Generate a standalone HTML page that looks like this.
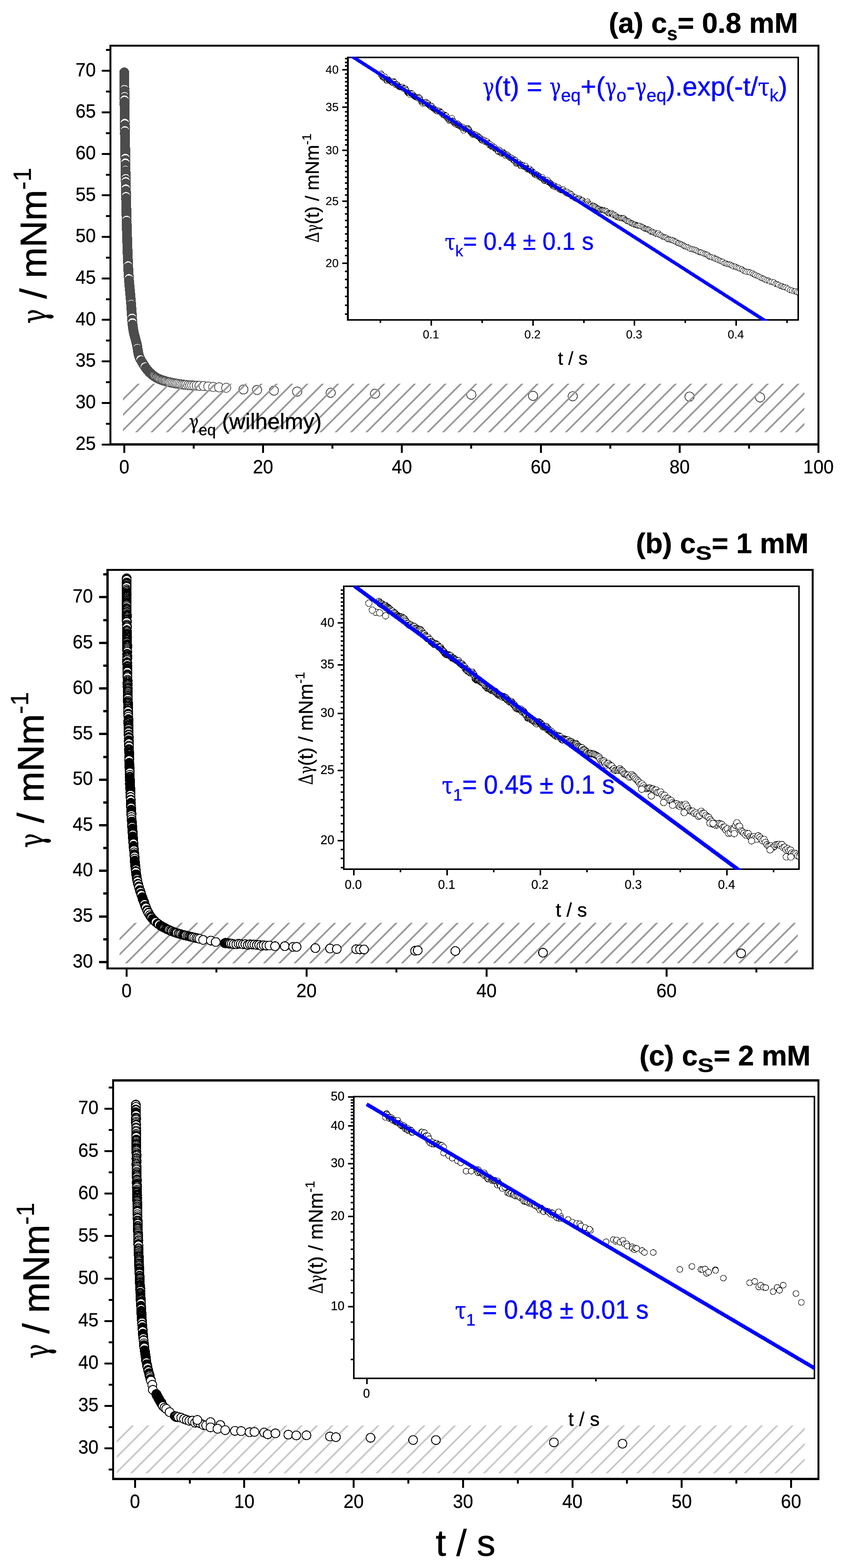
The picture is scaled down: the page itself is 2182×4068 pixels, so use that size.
<!DOCTYPE html>
<html><head><meta charset="utf-8"><title>Dynamic surface tension</title>
<style>
html,body{margin:0;padding:0;background:#fff;}
svg{display:block;font-family:'Liberation Sans', sans-serif;}
.sy{font-family:'Liberation Serif','DejaVu Serif',serif;}
</style></head>
<body>
<svg xmlns="http://www.w3.org/2000/svg" width="2182" height="4068" viewBox="0 0 2182 4068" text-rendering="geometricPrecision">
<rect width="2182" height="4068" fill="#fff"/>
<g shape-rendering="crispEdges" fill="#000">
<rect x="284" y="116" width="1842" height="5"/>
<rect x="284" y="1150" width="1842" height="6"/>
<rect x="284" y="118.5" width="5" height="1034.5"/>
<rect x="2121" y="118.5" width="5" height="1034.5"/>
<rect x="264" y="1150.5" width="22.5" height="5"/>
<rect x="264" y="1042.8" width="22.5" height="5"/>
<rect x="264" y="935.1" width="22.5" height="5"/>
<rect x="264" y="827.4" width="22.5" height="5"/>
<rect x="264" y="719.7" width="22.5" height="5"/>
<rect x="264" y="612" width="22.5" height="5"/>
<rect x="264" y="504.3" width="22.5" height="5"/>
<rect x="264" y="396.6" width="22.5" height="5"/>
<rect x="264" y="288.9" width="22.5" height="5"/>
<rect x="264" y="181.2" width="22.5" height="5"/>
<rect x="275" y="1096.7" width="11.5" height="5"/>
<rect x="275" y="989" width="11.5" height="5"/>
<rect x="275" y="881.2" width="11.5" height="5"/>
<rect x="275" y="773.5" width="11.5" height="5"/>
<rect x="275" y="665.9" width="11.5" height="5"/>
<rect x="275" y="558.1" width="11.5" height="5"/>
<rect x="275" y="450.5" width="11.5" height="5"/>
<rect x="275" y="342.8" width="11.5" height="5"/>
<rect x="275" y="235.1" width="11.5" height="5"/>
<rect x="275" y="127.4" width="11.5" height="5"/>
<rect x="319.8" y="1153" width="5" height="22"/>
<rect x="680" y="1153" width="5" height="22"/>
<rect x="1040.3" y="1153" width="5" height="22"/>
<rect x="1400.5" y="1153" width="5" height="22"/>
<rect x="1760.8" y="1153" width="5" height="22"/>
<rect x="2121" y="1153" width="5" height="22"/>
<rect x="499.9" y="1153" width="5" height="11"/>
<rect x="860.2" y="1153" width="5" height="11"/>
<rect x="1220.4" y="1153" width="5" height="11"/>
<rect x="1580.6" y="1153" width="5" height="11"/>
<rect x="1940.9" y="1153" width="5" height="11"/>
</g>
<text transform="translate(195.9,1166.8) scale(0.955,1)" font-size="49.5" fill="#000" stroke="#000" stroke-width="0.4">25</text>
<text transform="translate(195.9,1059.1) scale(0.955,1)" font-size="49.5" fill="#000" stroke="#000" stroke-width="0.4">30</text>
<text transform="translate(195.9,951.4) scale(0.955,1)" font-size="49.5" fill="#000" stroke="#000" stroke-width="0.4">35</text>
<text transform="translate(195.9,843.7) scale(0.955,1)" font-size="49.5" fill="#000" stroke="#000" stroke-width="0.4">40</text>
<text transform="translate(195.9,736) scale(0.955,1)" font-size="49.5" fill="#000" stroke="#000" stroke-width="0.4">45</text>
<text transform="translate(195.9,628.3) scale(0.955,1)" font-size="49.5" fill="#000" stroke="#000" stroke-width="0.4">50</text>
<text transform="translate(195.9,520.6) scale(0.955,1)" font-size="49.5" fill="#000" stroke="#000" stroke-width="0.4">55</text>
<text transform="translate(195.9,412.9) scale(0.955,1)" font-size="49.5" fill="#000" stroke="#000" stroke-width="0.4">60</text>
<text transform="translate(195.9,305.2) scale(0.955,1)" font-size="49.5" fill="#000" stroke="#000" stroke-width="0.4">65</text>
<text transform="translate(195.9,197.5) scale(0.955,1)" font-size="49.5" fill="#000" stroke="#000" stroke-width="0.4">70</text>
<text transform="translate(309.2,1228) scale(0.955,1)" font-size="49.5" fill="#000" stroke="#000" stroke-width="0.4">0</text>
<text transform="translate(656.2,1228) scale(0.955,1)" font-size="49.5" fill="#000" stroke="#000" stroke-width="0.4">20</text>
<text transform="translate(1016.5,1228) scale(0.955,1)" font-size="49.5" fill="#000" stroke="#000" stroke-width="0.4">40</text>
<text transform="translate(1376.7,1228) scale(0.955,1)" font-size="49.5" fill="#000" stroke="#000" stroke-width="0.4">60</text>
<text transform="translate(1737,1228) scale(0.955,1)" font-size="49.5" fill="#000" stroke="#000" stroke-width="0.4">80</text>
<text transform="translate(2084.1,1228) scale(0.955,1)" font-size="49.5" fill="#000" stroke="#000" stroke-width="0.4">100</text>
<text transform="translate(1579.5,84.5) translate(0,0)" font-family="'Liberation Sans',sans-serif" font-weight="bold" font-size="73.5" fill="#000" stroke="#000" stroke-width="0.7" stroke-linejoin="round" xml:space="preserve">(a) c</text>
<text transform="translate(1579.5,84.5) translate(151.1,19.5)" font-family="'Liberation Sans',sans-serif" font-weight="bold" font-size="49" fill="#000" stroke="#000" stroke-width="0.5" stroke-linejoin="round" xml:space="preserve">s</text>
<text transform="translate(1579.5,84.5) translate(178.4,0)" font-family="'Liberation Sans',sans-serif" font-weight="bold" font-size="73.5" fill="#000" stroke="#000" stroke-width="0.7" stroke-linejoin="round" xml:space="preserve">= 0.8 mM</text>
<text transform="translate(119.8,839.5) rotate(-90) translate(0,0) scale(0.700,1)" font-family="'DejaVu Serif','Liberation Serif',serif" font-weight="normal" font-size="90.2" fill="#000" stroke="#000" stroke-width="0.9" stroke-linejoin="round" xml:space="preserve">γ</text>
<text transform="translate(119.8,839.5) rotate(-90) translate(37.8,0)" font-family="'Liberation Sans',sans-serif" font-weight="normal" font-size="96" fill="#000" stroke="#000" stroke-width="1" stroke-linejoin="round" xml:space="preserve"> / mNm</text>
<text transform="translate(119.8,839.5) rotate(-90) translate(347,-39.5)" font-family="'Liberation Sans',sans-serif" font-weight="normal" font-size="64.5" fill="#000" stroke="#000" stroke-width="0.6" stroke-linejoin="round" xml:space="preserve">-1</text>
<g fill="#fff" stroke="#4c4c4c" stroke-width="1.9" shape-rendering="crispEdges">
<circle cx="322.4" cy="187.8" r="11.8"/><circle cx="322.4" cy="188.7" r="11.8"/><circle cx="322.4" cy="189.5" r="11.8"/><circle cx="322.4" cy="190.3" r="11.8"/><circle cx="322.4" cy="191" r="11.8"/><circle cx="322.4" cy="191.8" r="11.8"/><circle cx="322.4" cy="192.7" r="11.8"/><circle cx="322.4" cy="193.4" r="11.8"/><circle cx="322.5" cy="194.3" r="11.8"/><circle cx="322.5" cy="195.1" r="11.8"/><circle cx="322.5" cy="195.8" r="11.8"/><circle cx="322.5" cy="196.7" r="11.8"/><circle cx="322.5" cy="197.5" r="11.8"/><circle cx="322.5" cy="198.2" r="11.8"/><circle cx="322.5" cy="199.1" r="11.8"/><circle cx="322.5" cy="199.9" r="11.8"/><circle cx="322.5" cy="200.7" r="11.8"/><circle cx="322.5" cy="201.4" r="11.8"/><circle cx="322.5" cy="202.3" r="11.8"/><circle cx="322.5" cy="203.1" r="11.8"/><circle cx="322.5" cy="203.8" r="11.8"/><circle cx="322.5" cy="204.6" r="11.8"/><circle cx="322.5" cy="205.4" r="11.8"/><circle cx="322.6" cy="206.2" r="11.8"/><circle cx="322.6" cy="207.1" r="11.8"/><circle cx="322.6" cy="208" r="11.8"/><circle cx="322.6" cy="208.8" r="11.8"/><circle cx="322.6" cy="209.6" r="11.8"/><circle cx="322.6" cy="210.2" r="11.8"/><circle cx="322.6" cy="211.1" r="11.8"/><circle cx="322.6" cy="211.9" r="11.8"/><circle cx="322.6" cy="212.8" r="11.8"/><circle cx="322.6" cy="213.5" r="11.8"/><circle cx="322.6" cy="214.3" r="11.8"/><circle cx="322.6" cy="215.2" r="11.8"/><circle cx="322.6" cy="216" r="11.8"/><circle cx="322.6" cy="216.7" r="11.8"/><circle cx="322.7" cy="217.5" r="11.8"/><circle cx="322.7" cy="218.3" r="11.8"/><circle cx="322.7" cy="219" r="11.8"/><circle cx="322.7" cy="219.8" r="11.8"/><circle cx="322.7" cy="220.6" r="11.8"/><circle cx="322.7" cy="221.4" r="11.8"/><circle cx="322.7" cy="222.2" r="11.8"/><circle cx="322.7" cy="223.1" r="11.8"/><circle cx="322.7" cy="223.9" r="11.8"/><circle cx="322.7" cy="224.8" r="11.8"/><circle cx="322.7" cy="225.7" r="11.8"/><circle cx="322.7" cy="226.5" r="11.8"/><circle cx="322.7" cy="227.4" r="11.8"/><circle cx="322.8" cy="228.2" r="11.8"/><circle cx="322.8" cy="229" r="11.8"/><circle cx="322.8" cy="229.8" r="11.8"/><circle cx="322.8" cy="230.6" r="11.8"/><circle cx="322.8" cy="231.5" r="11.8"/><circle cx="322.8" cy="235.7" r="11.8"/><circle cx="322.8" cy="236.4" r="11.8"/><circle cx="322.8" cy="237.3" r="11.8"/><circle cx="322.9" cy="238.2" r="11.8"/><circle cx="322.9" cy="238.9" r="11.8"/><circle cx="322.9" cy="239.6" r="11.8"/><circle cx="322.9" cy="240.4" r="11.8"/><circle cx="322.9" cy="241.3" r="11.8"/><circle cx="322.9" cy="242" r="11.8"/><circle cx="322.9" cy="242.9" r="11.8"/><circle cx="322.9" cy="243.6" r="11.8"/><circle cx="322.9" cy="244.5" r="11.8"/><circle cx="322.9" cy="245.2" r="11.8"/><circle cx="322.9" cy="246.1" r="11.8"/><circle cx="322.9" cy="246.8" r="11.8"/><circle cx="323" cy="247.7" r="11.8"/><circle cx="323" cy="248.4" r="11.8"/><circle cx="323" cy="249.1" r="11.8"/><circle cx="323" cy="249.8" r="11.8"/><circle cx="323" cy="253.9" r="11.8"/><circle cx="323" cy="254.6" r="11.8"/><circle cx="323" cy="255.4" r="11.8"/><circle cx="323" cy="256.2" r="11.8"/><circle cx="323.1" cy="257" r="11.8"/><circle cx="323.1" cy="257.9" r="11.8"/><circle cx="323.1" cy="258.6" r="11.8"/><circle cx="323.1" cy="264.1" r="11.8"/><circle cx="323.1" cy="264.9" r="11.8"/><circle cx="323.2" cy="265.8" r="11.8"/><circle cx="323.2" cy="266.7" r="11.8"/><circle cx="323.2" cy="267.4" r="11.8"/><circle cx="323.2" cy="268.1" r="11.8"/><circle cx="323.2" cy="268.8" r="11.8"/><circle cx="323.2" cy="269.5" r="11.8"/><circle cx="323.2" cy="270.3" r="11.8"/><circle cx="323.2" cy="271.1" r="11.8"/><circle cx="323.2" cy="271.9" r="11.8"/><circle cx="323.2" cy="272.6" r="11.8"/><circle cx="323.2" cy="273.3" r="11.8"/><circle cx="323.3" cy="274.1" r="11.8"/><circle cx="323.3" cy="275" r="11.8"/><circle cx="323.3" cy="275.7" r="11.8"/><circle cx="323.3" cy="276.5" r="11.8"/><circle cx="323.3" cy="277.3" r="11.8"/><circle cx="323.3" cy="278.1" r="11.8"/><circle cx="323.3" cy="278.9" r="11.8"/><circle cx="323.3" cy="279.6" r="11.8"/><circle cx="323.3" cy="280.5" r="11.8"/><circle cx="323.3" cy="281.3" r="11.8"/><circle cx="323.3" cy="282.1" r="11.8"/><circle cx="323.4" cy="282.8" r="11.8"/><circle cx="323.4" cy="283.7" r="11.8"/><circle cx="323.4" cy="284.6" r="11.8"/><circle cx="323.4" cy="285.5" r="11.8"/><circle cx="323.4" cy="286.3" r="11.8"/><circle cx="323.4" cy="287" r="11.8"/><circle cx="323.4" cy="287.8" r="11.8"/><circle cx="323.4" cy="288.5" r="11.8"/><circle cx="323.4" cy="289.3" r="11.8"/><circle cx="323.4" cy="290" r="11.8"/><circle cx="323.5" cy="290.8" r="11.8"/><circle cx="323.5" cy="291.6" r="11.8"/><circle cx="323.5" cy="292.3" r="11.8"/><circle cx="323.5" cy="293.1" r="11.8"/><circle cx="323.5" cy="293.9" r="11.8"/><circle cx="323.5" cy="294.7" r="11.8"/><circle cx="323.5" cy="295.4" r="11.8"/><circle cx="323.5" cy="296.3" r="11.8"/><circle cx="323.5" cy="297.2" r="11.8"/><circle cx="323.5" cy="298" r="11.8"/><circle cx="323.6" cy="298.8" r="11.8"/><circle cx="323.6" cy="299.5" r="11.8"/><circle cx="323.6" cy="300.3" r="11.8"/><circle cx="323.6" cy="301.1" r="11.8"/><circle cx="323.6" cy="302" r="11.8"/><circle cx="323.6" cy="302.8" r="11.8"/><circle cx="323.6" cy="303.5" r="11.8"/><circle cx="323.6" cy="304.3" r="11.8"/><circle cx="323.6" cy="305.1" r="11.8"/><circle cx="323.6" cy="305.9" r="11.8"/><circle cx="323.7" cy="306.7" r="11.8"/><circle cx="323.7" cy="307.4" r="11.8"/><circle cx="323.7" cy="308.3" r="11.8"/><circle cx="323.7" cy="309" r="11.8"/><circle cx="323.7" cy="309.9" r="11.8"/><circle cx="323.7" cy="310.8" r="11.8"/><circle cx="323.7" cy="311.7" r="11.8"/><circle cx="323.7" cy="312.4" r="11.8"/><circle cx="323.7" cy="313.2" r="11.8"/><circle cx="323.8" cy="314" r="11.8"/><circle cx="323.8" cy="314.7" r="11.8"/><circle cx="323.8" cy="315.4" r="11.8"/><circle cx="323.8" cy="316.1" r="11.8"/><circle cx="323.8" cy="316.8" r="11.8"/><circle cx="323.8" cy="317.5" r="11.8"/><circle cx="323.8" cy="318.3" r="11.8"/><circle cx="323.8" cy="319.1" r="11.8"/><circle cx="323.9" cy="325.1" r="11.8"/><circle cx="323.9" cy="325.9" r="11.8"/><circle cx="323.9" cy="326.8" r="11.8"/><circle cx="323.9" cy="327.6" r="11.8"/><circle cx="324" cy="328.5" r="11.8"/><circle cx="324" cy="329.4" r="11.8"/><circle cx="324" cy="330.1" r="11.8"/><circle cx="324" cy="330.9" r="11.8"/><circle cx="324" cy="331.8" r="11.8"/><circle cx="324" cy="332.6" r="11.8"/><circle cx="324" cy="333.5" r="11.8"/><circle cx="324" cy="334.3" r="11.8"/><circle cx="324" cy="335" r="11.8"/><circle cx="324.1" cy="335.8" r="11.8"/><circle cx="324.1" cy="336.6" r="11.8"/><circle cx="324.1" cy="337.4" r="11.8"/><circle cx="324.1" cy="338.3" r="11.8"/><circle cx="324.2" cy="343.3" r="11.8"/><circle cx="324.2" cy="344.1" r="11.8"/><circle cx="324.2" cy="344.9" r="11.8"/><circle cx="324.2" cy="345.8" r="11.8"/><circle cx="324.2" cy="346.6" r="11.8"/><circle cx="324.2" cy="347.4" r="11.8"/><circle cx="324.2" cy="348.1" r="11.8"/><circle cx="324.2" cy="348.8" r="11.8"/><circle cx="324.2" cy="349.7" r="11.8"/><circle cx="324.3" cy="350.4" r="11.8"/><circle cx="324.3" cy="351.1" r="11.8"/><circle cx="324.3" cy="351.9" r="11.8"/><circle cx="324.3" cy="352.8" r="11.8"/><circle cx="324.3" cy="353.6" r="11.8"/><circle cx="324.3" cy="354.4" r="11.8"/><circle cx="324.3" cy="355.1" r="11.8"/><circle cx="324.3" cy="355.8" r="11.8"/><circle cx="324.4" cy="356.6" r="11.8"/><circle cx="324.4" cy="357.3" r="11.8"/><circle cx="324.4" cy="358.1" r="11.8"/><circle cx="324.4" cy="359" r="11.8"/><circle cx="324.4" cy="359.8" r="11.8"/><circle cx="324.4" cy="360.5" r="11.8"/><circle cx="324.4" cy="361.5" r="11.8"/><circle cx="324.4" cy="362.3" r="11.8"/><circle cx="324.4" cy="363.1" r="11.8"/><circle cx="324.5" cy="363.9" r="11.8"/><circle cx="324.5" cy="364.8" r="11.8"/><circle cx="324.5" cy="365.6" r="11.8"/><circle cx="324.5" cy="366.5" r="11.8"/><circle cx="324.5" cy="367.2" r="11.8"/><circle cx="324.5" cy="368.1" r="11.8"/><circle cx="324.5" cy="368.9" r="11.8"/><circle cx="324.5" cy="369.7" r="11.8"/><circle cx="324.6" cy="370.4" r="11.8"/><circle cx="324.6" cy="371.3" r="11.8"/><circle cx="324.6" cy="372.1" r="11.8"/><circle cx="324.6" cy="372.9" r="11.8"/><circle cx="324.6" cy="373.9" r="11.8"/><circle cx="324.6" cy="374.6" r="11.8"/><circle cx="324.6" cy="375.4" r="11.8"/><circle cx="324.6" cy="376.1" r="11.8"/><circle cx="324.7" cy="377" r="11.8"/><circle cx="324.7" cy="377.9" r="11.8"/><circle cx="324.7" cy="378.8" r="11.8"/><circle cx="324.7" cy="379.7" r="11.8"/><circle cx="324.7" cy="380.5" r="11.8"/><circle cx="324.7" cy="381.4" r="11.8"/><circle cx="324.7" cy="382.1" r="11.8"/><circle cx="324.7" cy="383" r="11.8"/><circle cx="324.8" cy="383.8" r="11.8"/><circle cx="324.8" cy="384.5" r="11.8"/><circle cx="324.8" cy="385.3" r="11.8"/><circle cx="324.8" cy="386.2" r="11.8"/><circle cx="324.8" cy="387" r="11.8"/><circle cx="324.8" cy="387.8" r="11.8"/><circle cx="324.8" cy="388.6" r="11.8"/><circle cx="324.8" cy="389.3" r="11.8"/><circle cx="324.8" cy="390.1" r="11.8"/><circle cx="324.9" cy="390.9" r="11.8"/><circle cx="324.9" cy="391.8" r="11.8"/><circle cx="324.9" cy="392.6" r="11.8"/><circle cx="324.9" cy="393.4" r="11.8"/><circle cx="324.9" cy="394.2" r="11.8"/><circle cx="324.9" cy="395" r="11.8"/><circle cx="324.9" cy="395.7" r="11.8"/><circle cx="324.9" cy="396.5" r="11.8"/><circle cx="325" cy="397.2" r="11.8"/><circle cx="325" cy="398.1" r="11.8"/><circle cx="325" cy="398.8" r="11.8"/><circle cx="325" cy="399.5" r="11.8"/><circle cx="325" cy="400.2" r="11.8"/><circle cx="325" cy="401.1" r="11.8"/><circle cx="325" cy="401.8" r="11.8"/><circle cx="325" cy="402.6" r="11.8"/><circle cx="325.1" cy="403.4" r="11.8"/><circle cx="325.1" cy="404.2" r="11.8"/><circle cx="325.1" cy="405" r="11.8"/><circle cx="325.1" cy="405.7" r="11.8"/><circle cx="325.1" cy="406.7" r="11.8"/><circle cx="325.1" cy="407.5" r="11.8"/><circle cx="325.1" cy="408.2" r="11.8"/><circle cx="325.1" cy="409" r="11.8"/><circle cx="325.2" cy="409.9" r="11.8"/><circle cx="325.2" cy="415.5" r="11.8"/><circle cx="325.3" cy="416.3" r="11.8"/><circle cx="325.3" cy="417.1" r="11.8"/><circle cx="325.3" cy="417.8" r="11.8"/><circle cx="325.3" cy="418.7" r="11.8"/><circle cx="325.3" cy="419.6" r="11.8"/><circle cx="325.3" cy="420.5" r="11.8"/><circle cx="325.3" cy="421.2" r="11.8"/><circle cx="325.4" cy="421.9" r="11.8"/><circle cx="325.5" cy="427.9" r="11.8"/><circle cx="325.5" cy="428.7" r="11.8"/><circle cx="325.5" cy="429.5" r="11.8"/><circle cx="325.5" cy="430.3" r="11.8"/><circle cx="325.5" cy="431" r="11.8"/><circle cx="325.5" cy="431.8" r="11.8"/><circle cx="325.5" cy="432.5" r="11.8"/><circle cx="325.5" cy="433.4" r="11.8"/><circle cx="325.6" cy="434.3" r="11.8"/><circle cx="325.6" cy="435.1" r="11.8"/><circle cx="325.6" cy="435.8" r="11.8"/><circle cx="325.6" cy="436.7" r="11.8"/><circle cx="325.6" cy="437.4" r="11.8"/><circle cx="325.6" cy="438.1" r="11.8"/><circle cx="325.6" cy="438.8" r="11.8"/><circle cx="325.7" cy="439.6" r="11.8"/><circle cx="325.7" cy="440.4" r="11.8"/><circle cx="325.7" cy="441.1" r="11.8"/><circle cx="325.7" cy="444.2" r="11.8"/><circle cx="325.8" cy="445" r="11.8"/><circle cx="325.8" cy="445.8" r="11.8"/><circle cx="325.8" cy="446.6" r="11.8"/><circle cx="325.8" cy="447.3" r="11.8"/><circle cx="325.8" cy="448" r="11.8"/><circle cx="325.8" cy="448.8" r="11.8"/><circle cx="325.8" cy="449.5" r="11.8"/><circle cx="325.8" cy="450.3" r="11.8"/><circle cx="325.9" cy="451.1" r="11.8"/><circle cx="325.9" cy="452" r="11.8"/><circle cx="325.9" cy="452.9" r="11.8"/><circle cx="325.9" cy="453.6" r="11.8"/><circle cx="325.9" cy="454.5" r="11.8"/><circle cx="325.9" cy="455.4" r="11.8"/><circle cx="326" cy="456.2" r="11.8"/><circle cx="326" cy="457" r="11.8"/><circle cx="326" cy="457.8" r="11.8"/><circle cx="326" cy="458.7" r="11.8"/><circle cx="326" cy="459.4" r="11.8"/><circle cx="326" cy="460.2" r="11.8"/><circle cx="326" cy="460.9" r="11.8"/><circle cx="326.1" cy="461.7" r="11.8"/><circle cx="326.1" cy="462.4" r="11.8"/><circle cx="326.2" cy="467" r="11.8"/><circle cx="326.2" cy="467.7" r="11.8"/><circle cx="326.2" cy="468.6" r="11.8"/><circle cx="326.2" cy="469.4" r="11.8"/><circle cx="326.2" cy="470.3" r="11.8"/><circle cx="326.3" cy="475.7" r="11.8"/><circle cx="326.4" cy="476.5" r="11.8"/><circle cx="326.4" cy="477.4" r="11.8"/><circle cx="326.4" cy="478.1" r="11.8"/><circle cx="326.4" cy="478.9" r="11.8"/><circle cx="326.4" cy="479.6" r="11.8"/><circle cx="326.4" cy="480.4" r="11.8"/><circle cx="326.4" cy="481.2" r="11.8"/><circle cx="326.5" cy="482.1" r="11.8"/><circle cx="326.5" cy="482.9" r="11.8"/><circle cx="326.5" cy="483.6" r="11.8"/><circle cx="326.5" cy="484.3" r="11.8"/><circle cx="326.5" cy="485" r="11.8"/><circle cx="326.5" cy="485.9" r="11.8"/><circle cx="326.6" cy="486.7" r="11.8"/><circle cx="326.6" cy="487.5" r="11.8"/><circle cx="326.6" cy="488.3" r="11.8"/><circle cx="326.6" cy="489.2" r="11.8"/><circle cx="326.7" cy="495.1" r="11.8"/><circle cx="326.7" cy="495.9" r="11.8"/><circle cx="326.8" cy="496.6" r="11.8"/><circle cx="326.8" cy="497.4" r="11.8"/><circle cx="326.8" cy="498.3" r="11.8"/><circle cx="326.8" cy="499" r="11.8"/><circle cx="326.8" cy="499.7" r="11.8"/><circle cx="326.8" cy="500.4" r="11.8"/><circle cx="326.9" cy="501.3" r="11.8"/><circle cx="326.9" cy="502" r="11.8"/><circle cx="326.9" cy="502.8" r="11.8"/><circle cx="326.9" cy="503.6" r="11.8"/><circle cx="326.9" cy="504.4" r="11.8"/><circle cx="327" cy="505.2" r="11.8"/><circle cx="327" cy="505.9" r="11.8"/><circle cx="327" cy="506.7" r="11.8"/><circle cx="327" cy="507.5" r="11.8"/><circle cx="327" cy="508.3" r="11.8"/><circle cx="327" cy="509.1" r="11.8"/><circle cx="327.1" cy="514" r="11.8"/><circle cx="327.2" cy="514.9" r="11.8"/><circle cx="327.2" cy="515.8" r="11.8"/><circle cx="327.2" cy="516.7" r="11.8"/><circle cx="327.2" cy="517.4" r="11.8"/><circle cx="327.2" cy="518.3" r="11.8"/><circle cx="327.3" cy="519.1" r="11.8"/><circle cx="327.3" cy="520" r="11.8"/><circle cx="327.3" cy="520.7" r="11.8"/><circle cx="327.3" cy="521.4" r="11.8"/><circle cx="327.3" cy="522.2" r="11.8"/><circle cx="327.4" cy="523.1" r="11.8"/><circle cx="327.4" cy="523.9" r="11.8"/><circle cx="327.4" cy="524.6" r="11.8"/><circle cx="327.4" cy="525.5" r="11.8"/><circle cx="327.4" cy="526.4" r="11.8"/><circle cx="327.4" cy="527.2" r="11.8"/><circle cx="327.5" cy="527.9" r="11.8"/><circle cx="327.5" cy="528.7" r="11.8"/><circle cx="327.5" cy="529.4" r="11.8"/><circle cx="327.5" cy="530.4" r="11.8"/><circle cx="327.5" cy="531.2" r="11.8"/><circle cx="327.6" cy="532" r="11.8"/><circle cx="327.6" cy="532.8" r="11.8"/><circle cx="327.6" cy="533.7" r="11.8"/><circle cx="327.6" cy="534.6" r="11.8"/><circle cx="327.6" cy="535.3" r="11.8"/><circle cx="327.7" cy="536.1" r="11.8"/><circle cx="327.7" cy="536.9" r="11.8"/><circle cx="327.7" cy="537.7" r="11.8"/><circle cx="327.7" cy="538.5" r="11.8"/><circle cx="327.7" cy="539.3" r="11.8"/><circle cx="327.8" cy="540.1" r="11.8"/><circle cx="327.8" cy="540.8" r="11.8"/><circle cx="327.8" cy="541.7" r="11.8"/><circle cx="327.8" cy="542.5" r="11.8"/><circle cx="327.8" cy="543.3" r="11.8"/><circle cx="327.9" cy="544.1" r="11.8"/><circle cx="327.9" cy="544.9" r="11.8"/><circle cx="327.9" cy="545.6" r="11.8"/><circle cx="327.9" cy="546.5" r="11.8"/><circle cx="327.9" cy="547.4" r="11.8"/><circle cx="328" cy="548.2" r="11.8"/><circle cx="328" cy="548.9" r="11.8"/><circle cx="328" cy="549.8" r="11.8"/><circle cx="328" cy="550.6" r="11.8"/><circle cx="328" cy="551.4" r="11.8"/><circle cx="328.1" cy="552.2" r="11.8"/><circle cx="328.1" cy="553" r="11.8"/><circle cx="328.1" cy="553.7" r="11.8"/><circle cx="328.1" cy="554.6" r="11.8"/><circle cx="328.1" cy="555.3" r="11.8"/><circle cx="328.2" cy="556.2" r="11.8"/><circle cx="328.2" cy="557.1" r="11.8"/><circle cx="328.2" cy="557.9" r="11.8"/><circle cx="328.2" cy="558.6" r="11.8"/><circle cx="328.2" cy="559.4" r="11.8"/><circle cx="328.3" cy="560.1" r="11.8"/><circle cx="328.3" cy="561" r="11.8"/><circle cx="328.3" cy="561.7" r="11.8"/><circle cx="328.3" cy="562.6" r="11.8"/><circle cx="328.3" cy="563.3" r="11.8"/><circle cx="328.4" cy="564" r="11.8"/><circle cx="328.4" cy="564.9" r="11.8"/><circle cx="328.4" cy="565.8" r="11.8"/><circle cx="328.4" cy="566.6" r="11.8"/><circle cx="328.4" cy="567.5" r="11.8"/><circle cx="328.5" cy="568.3" r="11.8"/><circle cx="328.5" cy="569" r="11.8"/><circle cx="328.5" cy="569.9" r="11.8"/><circle cx="328.5" cy="570.6" r="11.8"/><circle cx="328.6" cy="575.3" r="11.8"/><circle cx="328.7" cy="576.1" r="11.8"/><circle cx="328.7" cy="577" r="11.8"/><circle cx="328.7" cy="577.9" r="11.8"/><circle cx="328.7" cy="578.7" r="11.8"/><circle cx="328.7" cy="579.4" r="11.8"/><circle cx="328.8" cy="580.2" r="11.8"/><circle cx="328.8" cy="580.9" r="11.8"/><circle cx="328.8" cy="581.6" r="11.8"/><circle cx="328.8" cy="582.5" r="11.8"/><circle cx="328.9" cy="583.3" r="11.8"/><circle cx="328.9" cy="584.1" r="11.8"/><circle cx="328.9" cy="584.9" r="11.8"/><circle cx="328.9" cy="585.7" r="11.8"/><circle cx="328.9" cy="586.6" r="11.8"/><circle cx="329" cy="587.4" r="11.8"/><circle cx="329" cy="588.1" r="11.8"/><circle cx="329" cy="589" r="11.8"/><circle cx="329" cy="589.8" r="11.8"/><circle cx="329" cy="590.6" r="11.8"/><circle cx="329.1" cy="591.4" r="11.8"/><circle cx="329.1" cy="592.2" r="11.8"/><circle cx="329.1" cy="593.1" r="11.8"/><circle cx="329.1" cy="593.9" r="11.8"/><circle cx="329.2" cy="594.6" r="11.8"/><circle cx="329.2" cy="595.4" r="11.8"/><circle cx="329.2" cy="596.2" r="11.8"/><circle cx="329.2" cy="597" r="11.8"/><circle cx="329.2" cy="597.8" r="11.8"/><circle cx="329.3" cy="598.6" r="11.8"/><circle cx="329.3" cy="599.4" r="11.8"/><circle cx="329.3" cy="600.3" r="11.8"/><circle cx="329.3" cy="601" r="11.8"/><circle cx="329.4" cy="601.8" r="11.8"/><circle cx="329.4" cy="602.5" r="11.8"/><circle cx="329.4" cy="603.4" r="11.8"/><circle cx="329.4" cy="604.2" r="11.8"/><circle cx="329.5" cy="605" r="11.8"/><circle cx="329.5" cy="605.8" r="11.8"/><circle cx="329.5" cy="606.6" r="11.8"/><circle cx="329.5" cy="607.4" r="11.8"/><circle cx="329.5" cy="608.2" r="11.8"/><circle cx="329.6" cy="609" r="11.8"/><circle cx="329.6" cy="609.9" r="11.8"/><circle cx="329.6" cy="610.7" r="11.8"/><circle cx="329.6" cy="611.4" r="11.8"/><circle cx="329.7" cy="612.2" r="11.8"/><circle cx="329.7" cy="613" r="11.8"/><circle cx="329.7" cy="613.8" r="11.8"/><circle cx="329.7" cy="614.6" r="11.8"/><circle cx="329.8" cy="615.5" r="11.8"/><circle cx="329.8" cy="616.2" r="11.8"/><circle cx="329.8" cy="617" r="11.8"/><circle cx="329.8" cy="617.7" r="11.8"/><circle cx="329.9" cy="618.6" r="11.8"/><circle cx="329.9" cy="619.4" r="11.8"/><circle cx="329.9" cy="620.3" r="11.8"/><circle cx="329.9" cy="621.1" r="11.8"/><circle cx="330" cy="621.9" r="11.8"/><circle cx="330" cy="622.7" r="11.8"/><circle cx="330" cy="623.5" r="11.8"/><circle cx="330" cy="624.4" r="11.8"/><circle cx="330.1" cy="625.1" r="11.8"/><circle cx="330.1" cy="625.9" r="11.8"/><circle cx="330.1" cy="626.8" r="11.8"/><circle cx="330.1" cy="627.5" r="11.8"/><circle cx="330.2" cy="628.3" r="11.8"/><circle cx="330.2" cy="629.1" r="11.8"/><circle cx="330.2" cy="629.8" r="11.8"/><circle cx="330.2" cy="630.7" r="11.8"/><circle cx="330.3" cy="631.4" r="11.8"/><circle cx="330.3" cy="632.1" r="11.8"/><circle cx="330.3" cy="633" r="11.8"/><circle cx="330.3" cy="633.8" r="11.8"/><circle cx="330.4" cy="634.6" r="11.8"/><circle cx="330.4" cy="635.5" r="11.8"/><circle cx="330.4" cy="636.4" r="11.8"/><circle cx="330.4" cy="637" r="11.8"/><circle cx="330.5" cy="637.8" r="11.8"/><circle cx="330.5" cy="638.7" r="11.8"/><circle cx="330.5" cy="639.4" r="11.8"/><circle cx="330.5" cy="640.1" r="11.8"/><circle cx="330.6" cy="640.9" r="11.8"/><circle cx="330.6" cy="641.6" r="11.8"/><circle cx="330.6" cy="642.4" r="11.8"/><circle cx="330.7" cy="643.3" r="11.8"/><circle cx="330.7" cy="644" r="11.8"/><circle cx="330.7" cy="644.8" r="11.8"/><circle cx="330.7" cy="645.6" r="11.8"/><circle cx="330.8" cy="646.3" r="11.8"/><circle cx="330.8" cy="647.1" r="11.8"/><circle cx="330.8" cy="648" r="11.8"/><circle cx="330.8" cy="648.7" r="11.8"/><circle cx="330.9" cy="649.4" r="11.8"/><circle cx="330.9" cy="650.3" r="11.8"/><circle cx="330.9" cy="651.1" r="11.8"/><circle cx="331" cy="651.9" r="11.8"/><circle cx="331" cy="652.7" r="11.8"/><circle cx="331" cy="653.6" r="11.8"/><circle cx="331.1" cy="654.3" r="11.8"/><circle cx="331.1" cy="655" r="11.8"/><circle cx="331.1" cy="655.8" r="11.8"/><circle cx="331.1" cy="656.5" r="11.8"/><circle cx="331.2" cy="657.3" r="11.8"/><circle cx="331.2" cy="658.2" r="11.8"/><circle cx="331.2" cy="659.1" r="11.8"/><circle cx="331.3" cy="659.9" r="11.8"/><circle cx="331.3" cy="660.7" r="11.8"/><circle cx="331.3" cy="661.4" r="11.8"/><circle cx="331.3" cy="662.1" r="11.8"/><circle cx="331.4" cy="663" r="11.8"/><circle cx="331.4" cy="663.8" r="11.8"/><circle cx="331.4" cy="664.5" r="11.8"/><circle cx="331.5" cy="665.3" r="11.8"/><circle cx="331.5" cy="666" r="11.8"/><circle cx="331.5" cy="666.9" r="11.8"/><circle cx="331.6" cy="667.7" r="11.8"/><circle cx="331.6" cy="668.5" r="11.8"/><circle cx="331.6" cy="669.4" r="11.8"/><circle cx="331.7" cy="670.3" r="11.8"/><circle cx="331.7" cy="671.1" r="11.8"/><circle cx="331.7" cy="671.9" r="11.8"/><circle cx="331.8" cy="672.7" r="11.8"/><circle cx="331.8" cy="673.4" r="11.8"/><circle cx="331.8" cy="674.3" r="11.8"/><circle cx="331.9" cy="675.2" r="11.8"/><circle cx="331.9" cy="676" r="11.8"/><circle cx="331.9" cy="676.7" r="11.8"/><circle cx="332" cy="677.6" r="11.8"/><circle cx="332" cy="678.3" r="11.8"/><circle cx="332" cy="679.1" r="11.8"/><circle cx="332.1" cy="679.9" r="11.8"/><circle cx="332.1" cy="680.8" r="11.8"/><circle cx="332.1" cy="681.6" r="11.8"/><circle cx="332.2" cy="682.2" r="11.8"/><circle cx="332.2" cy="683" r="11.8"/><circle cx="332.2" cy="683.7" r="11.8"/><circle cx="332.3" cy="684.4" r="11.8"/><circle cx="332.3" cy="685.1" r="11.8"/><circle cx="332.3" cy="685.8" r="11.8"/><circle cx="332.4" cy="686.6" r="11.8"/><circle cx="332.4" cy="687.3" r="11.8"/><circle cx="332.4" cy="688.2" r="11.8"/><circle cx="332.5" cy="688.9" r="11.8"/><circle cx="332.7" cy="693.9" r="11.8"/><circle cx="332.7" cy="694.8" r="11.8"/><circle cx="332.8" cy="695.6" r="11.8"/><circle cx="332.8" cy="696.3" r="11.8"/><circle cx="332.9" cy="697.2" r="11.8"/><circle cx="332.9" cy="697.9" r="11.8"/><circle cx="332.9" cy="698.7" r="11.8"/><circle cx="333" cy="699.4" r="11.8"/><circle cx="333" cy="700.2" r="11.8"/><circle cx="333.1" cy="701" r="11.8"/><circle cx="333.1" cy="701.8" r="11.8"/><circle cx="333.1" cy="702.7" r="11.8"/><circle cx="333.2" cy="703.4" r="11.8"/><circle cx="333.2" cy="704.1" r="11.8"/><circle cx="333.3" cy="705" r="11.8"/><circle cx="333.3" cy="705.9" r="11.8"/><circle cx="333.4" cy="706.6" r="11.8"/><circle cx="333.4" cy="707.5" r="11.8"/><circle cx="333.5" cy="708.4" r="11.8"/><circle cx="333.5" cy="709.2" r="11.8"/><circle cx="333.6" cy="709.8" r="11.8"/><circle cx="333.6" cy="710.6" r="11.8"/><circle cx="333.7" cy="711.4" r="11.8"/><circle cx="333.7" cy="712.1" r="11.8"/><circle cx="333.8" cy="713" r="11.8"/><circle cx="333.8" cy="713.8" r="11.8"/><circle cx="333.9" cy="714.6" r="11.8"/><circle cx="333.9" cy="715.3" r="11.8"/><circle cx="334" cy="716.2" r="11.8"/><circle cx="334" cy="717.1" r="11.8"/><circle cx="334.1" cy="717.8" r="11.8"/><circle cx="334.1" cy="718.7" r="11.8"/><circle cx="334.2" cy="719.5" r="11.8"/><circle cx="334.3" cy="720.3" r="11.8"/><circle cx="334.3" cy="721.2" r="11.8"/><circle cx="334.4" cy="722.1" r="11.8"/><circle cx="334.8" cy="727.5" r="11.8"/><circle cx="334.9" cy="728.2" r="11.8"/><circle cx="334.9" cy="729" r="11.8"/><circle cx="335" cy="729.9" r="11.8"/><circle cx="335.1" cy="730.7" r="11.8"/><circle cx="335.2" cy="731.6" r="11.8"/><circle cx="335.2" cy="732.4" r="11.8"/><circle cx="335.3" cy="733.1" r="11.8"/><circle cx="335.4" cy="734" r="11.8"/><circle cx="335.4" cy="734.7" r="11.8"/><circle cx="335.5" cy="735.5" r="11.8"/><circle cx="335.6" cy="736.4" r="11.8"/><circle cx="335.6" cy="737.3" r="11.8"/><circle cx="335.7" cy="738.1" r="11.8"/><circle cx="335.8" cy="739" r="11.8"/><circle cx="335.9" cy="739.9" r="11.8"/><circle cx="335.9" cy="740.7" r="11.8"/><circle cx="336" cy="741.6" r="11.8"/><circle cx="336.1" cy="742.3" r="11.8"/><circle cx="336.2" cy="743.2" r="11.8"/><circle cx="336.2" cy="744" r="11.8"/><circle cx="336.3" cy="744.8" r="11.8"/><circle cx="336.4" cy="745.6" r="11.8"/><circle cx="336.4" cy="746.2" r="11.8"/><circle cx="336.5" cy="746.9" r="11.8"/><circle cx="336.6" cy="747.8" r="11.8"/><circle cx="336.6" cy="748.7" r="11.8"/><circle cx="336.7" cy="749.4" r="11.8"/><circle cx="336.8" cy="750.2" r="11.8"/><circle cx="336.9" cy="751.1" r="11.8"/><circle cx="336.9" cy="751.9" r="11.8"/><circle cx="337" cy="752.7" r="11.8"/><circle cx="337.1" cy="753.5" r="11.8"/><circle cx="337.2" cy="754.3" r="11.8"/><circle cx="337.2" cy="755" r="11.8"/><circle cx="337.3" cy="755.9" r="11.8"/><circle cx="337.4" cy="756.8" r="11.8"/><circle cx="337.4" cy="757.5" r="11.8"/><circle cx="337.5" cy="758.3" r="11.8"/><circle cx="337.6" cy="759.1" r="11.8"/><circle cx="337.7" cy="759.9" r="11.8"/><circle cx="337.8" cy="760.8" r="11.8"/><circle cx="337.8" cy="761.5" r="11.8"/><circle cx="337.9" cy="762.2" r="11.8"/><circle cx="338" cy="763" r="11.8"/><circle cx="338" cy="763.8" r="11.8"/><circle cx="338.1" cy="764.5" r="11.8"/><circle cx="338.1" cy="765.1" r="11.8"/><circle cx="338.2" cy="766" r="11.8"/><circle cx="338.3" cy="766.9" r="11.8"/><circle cx="338.4" cy="767.6" r="11.8"/><circle cx="338.4" cy="768.4" r="11.8"/><circle cx="338.5" cy="769.1" r="11.8"/><circle cx="338.6" cy="769.9" r="11.8"/><circle cx="338.7" cy="770.8" r="11.8"/><circle cx="338.7" cy="771.6" r="11.8"/><circle cx="338.8" cy="772.5" r="11.8"/><circle cx="338.9" cy="773.4" r="11.8"/><circle cx="339" cy="774.2" r="11.8"/><circle cx="339" cy="775.1" r="11.8"/><circle cx="339.1" cy="775.7" r="11.8"/><circle cx="339.2" cy="776.6" r="11.8"/><circle cx="339.2" cy="777.4" r="11.8"/><circle cx="339.3" cy="778.3" r="11.8"/><circle cx="339.4" cy="779.1" r="11.8"/><circle cx="339.4" cy="779.9" r="11.8"/><circle cx="339.5" cy="780.8" r="11.8"/><circle cx="339.6" cy="781.5" r="11.8"/><circle cx="339.6" cy="782.3" r="11.8"/><circle cx="339.7" cy="783" r="11.8"/><circle cx="339.7" cy="783.6" r="11.8"/><circle cx="339.8" cy="784.4" r="11.8"/><circle cx="339.9" cy="785.2" r="11.8"/><circle cx="339.9" cy="785.9" r="11.8"/><circle cx="340" cy="786.7" r="11.8"/><circle cx="340" cy="787.4" r="11.8"/><circle cx="340.1" cy="788.1" r="11.8"/><circle cx="340.2" cy="788.8" r="11.8"/><circle cx="340.4" cy="792.1" r="11.8"/><circle cx="340.5" cy="792.8" r="11.8"/><circle cx="340.5" cy="793.7" r="11.8"/><circle cx="340.6" cy="794.5" r="11.8"/><circle cx="340.6" cy="795.2" r="11.8"/><circle cx="340.7" cy="796" r="11.8"/><circle cx="340.7" cy="796.8" r="11.8"/><circle cx="340.8" cy="797.5" r="11.8"/><circle cx="340.8" cy="798.5" r="11.8"/><circle cx="340.9" cy="799.3" r="11.8"/><circle cx="341" cy="800.1" r="11.8"/><circle cx="341" cy="801" r="11.8"/><circle cx="341.1" cy="801.7" r="11.8"/><circle cx="341.1" cy="802.6" r="11.8"/><circle cx="341.2" cy="803.4" r="11.8"/><circle cx="341.2" cy="804.2" r="11.8"/><circle cx="341.3" cy="805" r="11.8"/><circle cx="341.3" cy="805.8" r="11.8"/><circle cx="341.4" cy="806.5" r="11.8"/><circle cx="341.4" cy="807.2" r="11.8"/><circle cx="341.5" cy="808" r="11.8"/><circle cx="341.5" cy="808.8" r="11.8"/><circle cx="341.6" cy="809.7" r="11.8"/><circle cx="341.6" cy="810.5" r="11.8"/><circle cx="341.7" cy="811.3" r="11.8"/><circle cx="341.7" cy="812.1" r="11.8"/><circle cx="341.8" cy="812.8" r="11.8"/><circle cx="341.8" cy="813.6" r="11.8"/><circle cx="341.9" cy="814.5" r="11.8"/><circle cx="341.9" cy="815.3" r="11.8"/><circle cx="342" cy="816.2" r="11.8"/><circle cx="342" cy="816.9" r="11.8"/><circle cx="342.1" cy="817.7" r="11.8"/><circle cx="342.1" cy="818.6" r="11.8"/><circle cx="342.2" cy="819.4" r="11.8"/><circle cx="342.3" cy="820.3" r="11.8"/><circle cx="342.3" cy="821.2" r="11.8"/><circle cx="342.4" cy="822.1" r="11.8"/><circle cx="342.4" cy="822.9" r="11.8"/><circle cx="342.5" cy="823.7" r="11.8"/><circle cx="342.6" cy="824.5" r="11.8"/><circle cx="342.9" cy="829.7" r="11.8"/><circle cx="343" cy="830.5" r="11.8"/><circle cx="343.1" cy="831.3" r="11.8"/><circle cx="343.1" cy="832" r="11.8"/><circle cx="343.2" cy="832.7" r="11.8"/><circle cx="343.3" cy="833.6" r="11.8"/><circle cx="343.3" cy="834.4" r="11.8"/><circle cx="343.4" cy="835.1" r="11.8"/><circle cx="343.4" cy="835.8" r="11.8"/><circle cx="343.5" cy="836.5" r="11.8"/><circle cx="344" cy="842.2" r="11.8"/><circle cx="344.1" cy="843.1" r="11.8"/><circle cx="344.2" cy="843.9" r="11.8"/><circle cx="344.3" cy="844.8" r="11.8"/><circle cx="344.4" cy="845.7" r="11.8"/><circle cx="344.5" cy="846.4" r="11.8"/><circle cx="344.6" cy="847.1" r="11.8"/><circle cx="344.7" cy="848" r="11.8"/><circle cx="344.8" cy="848.8" r="11.8"/><circle cx="344.9" cy="849.7" r="11.8"/><circle cx="345" cy="850.5" r="11.8"/><circle cx="345.1" cy="851.2" r="11.8"/><circle cx="345.2" cy="852.1" r="11.8"/><circle cx="345.3" cy="853" r="11.8"/><circle cx="345.4" cy="853.7" r="11.8"/><circle cx="345.6" cy="854.6" r="11.8"/><circle cx="345.7" cy="855.3" r="11.8"/><circle cx="345.8" cy="856.1" r="11.8"/><circle cx="346" cy="856.8" r="11.8"/><circle cx="346.1" cy="857.5" r="11.8"/><circle cx="346.2" cy="858.3" r="11.8"/><circle cx="346.4" cy="859.2" r="11.8"/><circle cx="346.6" cy="859.9" r="11.8"/><circle cx="346.7" cy="860.8" r="11.8"/><circle cx="346.9" cy="861.6" r="11.8"/><circle cx="347.1" cy="862.5" r="11.8"/><circle cx="347.3" cy="863.3" r="11.8"/><circle cx="347.5" cy="864.1" r="11.8"/><circle cx="347.7" cy="864.8" r="11.8"/><circle cx="347.8" cy="865.6" r="11.8"/><circle cx="348" cy="866.4" r="11.8"/><circle cx="348.2" cy="867.2" r="11.8"/><circle cx="348.4" cy="868" r="11.8"/><circle cx="348.6" cy="868.8" r="11.8"/><circle cx="348.8" cy="869.6" r="11.8"/><circle cx="349" cy="870.4" r="11.8"/><circle cx="349.3" cy="871.2" r="11.8"/><circle cx="349.5" cy="872" r="11.8"/><circle cx="349.7" cy="872.7" r="11.8"/><circle cx="349.9" cy="873.4" r="11.8"/><circle cx="350" cy="874.1" r="11.8"/><circle cx="350.3" cy="875" r="11.8"/><circle cx="350.5" cy="875.7" r="11.8"/><circle cx="350.7" cy="876.5" r="11.8"/><circle cx="350.9" cy="877.2" r="11.8"/><circle cx="351.1" cy="877.9" r="11.8"/><circle cx="351.3" cy="878.7" r="11.8"/><circle cx="351.5" cy="879.5" r="11.8"/><circle cx="351.7" cy="880.4" r="11.8"/><circle cx="351.9" cy="881" r="11.8"/><circle cx="352.1" cy="881.7" r="11.8"/><circle cx="352.3" cy="882.5" r="11.8"/><circle cx="352.5" cy="883.3" r="11.8"/><circle cx="352.7" cy="884.1" r="11.8"/><circle cx="352.9" cy="884.8" r="11.8"/><circle cx="353.1" cy="885.6" r="11.8"/><circle cx="353.3" cy="886.4" r="11.8"/><circle cx="353.5" cy="887.3" r="11.8"/><circle cx="353.8" cy="888.1" r="11.8"/><circle cx="354" cy="889" r="11.8"/><circle cx="354.2" cy="889.8" r="11.8"/><circle cx="354.4" cy="890.7" r="11.8"/><circle cx="354.6" cy="891.5" r="11.8"/><circle cx="354.7" cy="892.3" r="11.8"/><circle cx="354.9" cy="893.1" r="11.8"/><circle cx="355.1" cy="893.8" r="11.8"/><circle cx="355.3" cy="894.7" r="11.8"/><circle cx="355.5" cy="895.6" r="11.8"/><circle cx="355.6" cy="896.3" r="11.8"/><circle cx="355.7" cy="897" r="11.8"/><circle cx="355.9" cy="897.7" r="11.8"/><circle cx="356" cy="898.4" r="11.8"/><circle cx="356.1" cy="899.2" r="11.8"/><circle cx="356.3" cy="900.1" r="11.8"/><circle cx="356.4" cy="900.9" r="11.8"/><circle cx="356.6" cy="901.7" r="11.8"/><circle cx="356.7" cy="902.6" r="11.8"/><circle cx="356.8" cy="903.3" r="11.8"/><circle cx="357.3" cy="906.8" r="11.8"/><circle cx="357.5" cy="907.7" r="11.8"/><circle cx="357.6" cy="908.5" r="11.8"/><circle cx="357.7" cy="909.3" r="11.8"/><circle cx="357.8" cy="910.1" r="11.8"/><circle cx="358" cy="910.9" r="11.8"/><circle cx="358.1" cy="911.6" r="11.8"/><circle cx="358.2" cy="912.4" r="11.8"/><circle cx="358.3" cy="913.2" r="11.8"/><circle cx="358.5" cy="914.1" r="11.8"/><circle cx="358.6" cy="914.7" r="11.8"/><circle cx="358.8" cy="915.6" r="11.8"/><circle cx="358.9" cy="916.3" r="11.8"/><circle cx="359.1" cy="917.1" r="11.8"/><circle cx="359.3" cy="918" r="11.8"/><circle cx="359.5" cy="918.8" r="11.8"/><circle cx="359.6" cy="919.6" r="11.8"/><circle cx="359.9" cy="920.4" r="11.8"/><circle cx="360" cy="921.2" r="11.8"/><circle cx="360.2" cy="921.9" r="11.8"/><circle cx="360.4" cy="922.5" r="11.8"/><circle cx="360.7" cy="923.3" r="11.8"/><circle cx="360.9" cy="924" r="11.8"/><circle cx="361.2" cy="924.7" r="11.8"/><circle cx="361.5" cy="925.5" r="11.8"/><circle cx="361.8" cy="926.3" r="11.8"/><circle cx="362.1" cy="927" r="11.8"/><circle cx="362.4" cy="927.8" r="11.8"/><circle cx="362.7" cy="928.6" r="11.8"/><circle cx="363.1" cy="929.4" r="11.8"/><circle cx="363.4" cy="930" r="11.8"/><circle cx="363.8" cy="930.9" r="11.8"/><circle cx="364.2" cy="931.7" r="11.8"/><circle cx="364.7" cy="932.5" r="11.8"/><circle cx="367.1" cy="937" r="11.8"/><circle cx="367.5" cy="937.6" r="11.8"/><circle cx="368" cy="938.4" r="11.8"/><circle cx="368.3" cy="939" r="11.8"/><circle cx="368.7" cy="939.6" r="11.8"/><circle cx="369.1" cy="940.3" r="11.8"/><circle cx="369.5" cy="940.9" r="11.8"/><circle cx="369.8" cy="941.5" r="11.8"/><circle cx="370.3" cy="942.2" r="11.8"/><circle cx="370.7" cy="942.9" r="11.8"/><circle cx="371.1" cy="943.6" r="11.8"/><circle cx="371.5" cy="944.2" r="11.8"/><circle cx="371.9" cy="944.8" r="11.8"/><circle cx="372.3" cy="945.5" r="11.8"/><circle cx="372.8" cy="946.3" r="11.8"/><circle cx="373.2" cy="946.9" r="11.8"/><circle cx="373.6" cy="947.5" r="11.8"/><circle cx="374.1" cy="948.3" r="11.8"/><circle cx="374.5" cy="948.9" r="11.8"/><circle cx="375" cy="949.7" r="11.8"/><circle cx="375.5" cy="950.4" r="11.8"/><circle cx="375.9" cy="951.1" r="11.8"/><circle cx="378.5" cy="954.8" r="11.8"/><circle cx="379" cy="955.4" r="11.8"/><circle cx="379.5" cy="956" r="11.8"/><circle cx="379.9" cy="956.6" r="11.8"/><circle cx="380.4" cy="957.3" r="11.8"/><circle cx="380.9" cy="957.9" r="11.8"/><circle cx="381.4" cy="958.5" r="11.8"/><circle cx="381.8" cy="959.1" r="11.8"/><circle cx="382.3" cy="959.7" r="11.8"/><circle cx="382.8" cy="960.3" r="11.8"/><circle cx="383.3" cy="960.9" r="11.8"/><circle cx="383.8" cy="961.5" r="11.8"/><circle cx="384.3" cy="962" r="11.8"/><circle cx="384.8" cy="962.7" r="11.8"/><circle cx="385.3" cy="963.2" r="11.8"/><circle cx="385.8" cy="963.7" r="11.8"/><circle cx="386.3" cy="964.3" r="11.8"/><circle cx="386.8" cy="964.9" r="11.8"/><circle cx="387.3" cy="965.4" r="11.8"/><circle cx="387.8" cy="965.9" r="11.8"/><circle cx="388.4" cy="966.4" r="11.8"/><circle cx="388.8" cy="966.9" r="11.8"/><circle cx="389.5" cy="967.5" r="11.8"/><circle cx="390" cy="968" r="11.8"/><circle cx="390.7" cy="968.6" r="11.8"/><circle cx="391.3" cy="969.2" r="11.8"/><circle cx="391.8" cy="969.7" r="11.8"/><circle cx="392.4" cy="970.2" r="11.8"/><circle cx="393" cy="970.7" r="11.8"/><circle cx="393.5" cy="971.1" r="11.8"/><circle cx="394.1" cy="971.6" r="11.8"/><circle cx="394.8" cy="972.1" r="11.8"/><circle cx="395.4" cy="972.6" r="11.8"/><circle cx="396.1" cy="973.2" r="11.8"/><circle cx="396.7" cy="973.7" r="11.8"/><circle cx="397.6" cy="974.4" r="11.8"/><circle cx="398.9" cy="975.3" r="11.8"/><circle cx="400.6" cy="976.5" r="11.8"/><circle cx="402.7" cy="977.9" r="11.8"/><circle cx="405.1" cy="979.4" r="11.8"/><circle cx="407.2" cy="980.6" r="11.8"/><circle cx="409.7" cy="981.9" r="11.8"/><circle cx="412.1" cy="983" r="11.8"/><circle cx="414.7" cy="984.1" r="11.8"/><circle cx="417.2" cy="985.1" r="11.8"/><circle cx="420.2" cy="986.1" r="11.8"/><circle cx="422.7" cy="987" r="11.8"/><circle cx="425.7" cy="987.9" r="11.8"/><circle cx="428.7" cy="988.8" r="11.8"/><circle cx="431.4" cy="989.6" r="11.8"/><circle cx="434.9" cy="990.5" r="11.8"/><circle cx="438.2" cy="991.3" r="11.8"/><circle cx="441.2" cy="992" r="11.8"/><circle cx="445" cy="992.8" r="11.8"/><circle cx="448.8" cy="993.6" r="11.8"/><circle cx="453" cy="994.4" r="11.8"/><circle cx="457.1" cy="995.1" r="11.8"/><circle cx="461.1" cy="995.7" r="11.8"/><circle cx="465.6" cy="996.4" r="11.8"/><circle cx="469.8" cy="997.1" r="11.8"/><circle cx="474.1" cy="997.7" r="11.8"/><circle cx="478.5" cy="998.2" r="11.8"/><circle cx="483" cy="998.7" r="11.8"/><circle cx="488.6" cy="999.2" r="11.8"/><circle cx="493.7" cy="999.6" r="11.8"/><circle cx="499" cy="999.9" r="11.8"/><circle cx="504.3" cy="1000.3" r="11.8"/><circle cx="510.4" cy="1000.6" r="11.8"/><circle cx="517.6" cy="1001" r="11.8"/><circle cx="528.3" cy="1001.5" r="11.8"/><circle cx="540.3" cy="1002.5" r="11.8"/><circle cx="553.2" cy="1003.9" r="11.8"/><circle cx="568.6" cy="1004.9" r="11.8"/><circle cx="586.9" cy="1006.1" r="11.8"/>
</g>
<g fill="#fff" stroke="#3c3c3c" stroke-width="2" shape-rendering="crispEdges">
<circle cx="631.7" cy="1010.5" r="11.8"/><circle cx="667" cy="1011.8" r="11.8"/><circle cx="710.7" cy="1013.5" r="11.8"/><circle cx="771" cy="1016" r="11.8"/><circle cx="858" cy="1019" r="11.8"/><circle cx="973" cy="1021.5" r="11.8"/><circle cx="1223" cy="1024" r="11.8"/><circle cx="1383" cy="1027" r="11.8"/><circle cx="1486" cy="1028" r="11.8"/><circle cx="1789" cy="1029" r="11.8"/><circle cx="1972" cy="1031" r="11.8"/>
</g>
<clipPath id="h1"><rect x="319" y="995.5" width="1768" height="126"/></clipPath>
<g clip-path="url(#h1)" stroke="#999" stroke-width="4.4" shape-rendering="geometricPrecision">
<line x1="311" y1="1044.5" x2="368" y2="987.5"/>
<line x1="311" y1="1084.3" x2="407.8" y2="987.5"/>
<line x1="311" y1="1124.1" x2="447.6" y2="987.5"/>
<line x1="345.4" y1="1129.5" x2="487.4" y2="987.5"/>
<line x1="385.2" y1="1129.5" x2="527.2" y2="987.5"/>
<line x1="425.1" y1="1129.5" x2="567.1" y2="987.5"/>
<line x1="464.9" y1="1129.5" x2="606.9" y2="987.5"/>
<line x1="504.7" y1="1129.5" x2="646.7" y2="987.5"/>
<line x1="544.5" y1="1129.5" x2="686.5" y2="987.5"/>
<line x1="584.3" y1="1129.5" x2="726.3" y2="987.5"/>
<line x1="624.1" y1="1129.5" x2="766.1" y2="987.5"/>
<line x1="663.9" y1="1129.5" x2="805.9" y2="987.5"/>
<line x1="703.7" y1="1129.5" x2="845.7" y2="987.5"/>
<line x1="743.5" y1="1129.5" x2="885.5" y2="987.5"/>
<line x1="783.3" y1="1129.5" x2="925.3" y2="987.5"/>
<line x1="823.2" y1="1129.5" x2="965.2" y2="987.5"/>
<line x1="863" y1="1129.5" x2="1005" y2="987.5"/>
<line x1="902.8" y1="1129.5" x2="1044.8" y2="987.5"/>
<line x1="942.6" y1="1129.5" x2="1084.6" y2="987.5"/>
<line x1="982.4" y1="1129.5" x2="1124.4" y2="987.5"/>
<line x1="1022.2" y1="1129.5" x2="1164.2" y2="987.5"/>
<line x1="1062" y1="1129.5" x2="1204" y2="987.5"/>
<line x1="1101.8" y1="1129.5" x2="1243.8" y2="987.5"/>
<line x1="1141.6" y1="1129.5" x2="1283.6" y2="987.5"/>
<line x1="1181.4" y1="1129.5" x2="1323.4" y2="987.5"/>
<line x1="1221.3" y1="1129.5" x2="1363.3" y2="987.5"/>
<line x1="1261.1" y1="1129.5" x2="1403.1" y2="987.5"/>
<line x1="1300.9" y1="1129.5" x2="1442.9" y2="987.5"/>
<line x1="1340.7" y1="1129.5" x2="1482.7" y2="987.5"/>
<line x1="1380.5" y1="1129.5" x2="1522.5" y2="987.5"/>
<line x1="1420.3" y1="1129.5" x2="1562.3" y2="987.5"/>
<line x1="1460.1" y1="1129.5" x2="1602.1" y2="987.5"/>
<line x1="1499.9" y1="1129.5" x2="1641.9" y2="987.5"/>
<line x1="1539.7" y1="1129.5" x2="1681.7" y2="987.5"/>
<line x1="1579.5" y1="1129.5" x2="1721.5" y2="987.5"/>
<line x1="1619.4" y1="1129.5" x2="1761.4" y2="987.5"/>
<line x1="1659.2" y1="1129.5" x2="1801.2" y2="987.5"/>
<line x1="1699" y1="1129.5" x2="1841" y2="987.5"/>
<line x1="1738.8" y1="1129.5" x2="1880.8" y2="987.5"/>
<line x1="1778.6" y1="1129.5" x2="1920.6" y2="987.5"/>
<line x1="1818.4" y1="1129.5" x2="1960.4" y2="987.5"/>
<line x1="1858.2" y1="1129.5" x2="2000.2" y2="987.5"/>
<line x1="1898" y1="1129.5" x2="2040" y2="987.5"/>
<line x1="1937.8" y1="1129.5" x2="2079.8" y2="987.5"/>
<line x1="1977.6" y1="1129.5" x2="2095" y2="1012.1"/>
<line x1="2017.5" y1="1129.5" x2="2095" y2="1052"/>
<line x1="2057.3" y1="1129.5" x2="2095" y2="1091.8"/>
</g>
<text transform="translate(490.5,1113) translate(0,0) scale(0.770,1)" font-family="'DejaVu Serif','Liberation Serif',serif" font-weight="normal" font-size="54" fill="#000" stroke="#000" stroke-width="0.5" stroke-linejoin="round" xml:space="preserve">γ</text>
<text transform="translate(490.5,1113) translate(24.9,15.5)" font-family="'Liberation Sans',sans-serif" font-weight="normal" font-size="40" fill="#000" stroke="#000" stroke-width="0.4" stroke-linejoin="round" xml:space="preserve">eq</text>
<text transform="translate(490.5,1113) translate(69.4,0)" font-family="'Liberation Sans',sans-serif" font-weight="normal" font-size="57.5" fill="#000" stroke="#000" stroke-width="0.6" stroke-linejoin="round" xml:space="preserve"> (wilhelmy)</text>
<g shape-rendering="crispEdges" fill="#000">
<rect x="902.5" y="149" width="1168.9" height="681" fill="#fff"/>
<rect x="900" y="147" width="1173.4" height="4"/>
<rect x="900" y="828" width="1173.4" height="4"/>
<rect x="900" y="149" width="5" height="681"/>
<rect x="2069.4" y="149" width="4" height="681"/>
</g>
<g shape-rendering="crispEdges" fill="#000">
<rect x="895" y="813.2" width="7.5" height="4"/>
<rect x="895" y="789.5" width="7.5" height="4"/>
<rect x="895" y="766.5" width="7.5" height="4"/>
<rect x="895" y="744.2" width="7.5" height="4"/>
<rect x="895" y="722.6" width="7.5" height="4"/>
<rect x="895" y="701.6" width="7.5" height="4"/>
<rect x="887.5" y="681.2" width="15" height="4"/>
<rect x="895" y="661.4" width="7.5" height="4"/>
<rect x="895" y="642.1" width="7.5" height="4"/>
<rect x="895" y="623.3" width="7.5" height="4"/>
<rect x="895" y="605" width="7.5" height="4"/>
<rect x="895" y="587.1" width="7.5" height="4"/>
<rect x="895" y="569.6" width="7.5" height="4"/>
<rect x="895" y="552.6" width="7.5" height="4"/>
<rect x="895" y="536" width="7.5" height="4"/>
<rect x="887.5" y="519.7" width="15" height="4"/>
<rect x="895" y="503.8" width="7.5" height="4"/>
<rect x="895" y="488.2" width="7.5" height="4"/>
<rect x="895" y="473" width="7.5" height="4"/>
<rect x="895" y="458" width="7.5" height="4"/>
<rect x="895" y="443.4" width="7.5" height="4"/>
<rect x="895" y="429.1" width="7.5" height="4"/>
<rect x="895" y="415" width="7.5" height="4"/>
<rect x="895" y="401.2" width="7.5" height="4"/>
<rect x="887.5" y="387.7" width="15" height="4"/>
<rect x="895" y="374.4" width="7.5" height="4"/>
<rect x="895" y="361.4" width="7.5" height="4"/>
<rect x="895" y="348.5" width="7.5" height="4"/>
<rect x="895" y="335.9" width="7.5" height="4"/>
<rect x="895" y="323.6" width="7.5" height="4"/>
<rect x="895" y="311.4" width="7.5" height="4"/>
<rect x="895" y="299.4" width="7.5" height="4"/>
<rect x="895" y="287.7" width="7.5" height="4"/>
<rect x="887.5" y="276.1" width="15" height="4"/>
<rect x="895" y="264.7" width="7.5" height="4"/>
<rect x="895" y="253.4" width="7.5" height="4"/>
<rect x="895" y="242.4" width="7.5" height="4"/>
<rect x="895" y="231.5" width="7.5" height="4"/>
<rect x="895" y="220.8" width="7.5" height="4"/>
<rect x="895" y="210.2" width="7.5" height="4"/>
<rect x="895" y="199.8" width="7.5" height="4"/>
<rect x="895" y="189.5" width="7.5" height="4"/>
<rect x="887.5" y="179.4" width="15" height="4"/>
<rect x="895" y="169.4" width="7.5" height="4"/>
<rect x="895" y="159.6" width="7.5" height="4"/>
<rect x="895" y="149.8" width="7.5" height="4"/>
<rect x="1117" y="830" width="4" height="15"/>
<rect x="1380.7" y="830" width="4" height="15"/>
<rect x="1644.4" y="830" width="4" height="15"/>
<rect x="1908.1" y="830" width="4" height="15"/>
<rect x="985.1" y="830" width="4" height="7.5"/>
<rect x="1248.8" y="830" width="4" height="7.5"/>
<rect x="1512.5" y="830" width="4" height="7.5"/>
<rect x="1776.2" y="830" width="4" height="7.5"/>
<rect x="2040" y="830" width="4" height="7.5"/>
</g>
<text transform="translate(844.8,693.1) scale(1.000,1)" font-size="30.3" fill="#000" stroke="#000" stroke-width="0.2">20</text>
<text transform="translate(844.8,531.5) scale(1.000,1)" font-size="30.3" fill="#000" stroke="#000" stroke-width="0.2">25</text>
<text transform="translate(844.8,399.5) scale(1.000,1)" font-size="30.3" fill="#000" stroke="#000" stroke-width="0.2">30</text>
<text transform="translate(844.8,287.9) scale(1.000,1)" font-size="30.3" fill="#000" stroke="#000" stroke-width="0.2">35</text>
<text transform="translate(844.8,191.2) scale(1.000,1)" font-size="30.3" fill="#000" stroke="#000" stroke-width="0.2">40</text>
<text transform="translate(1096.9,878) scale(1.000,1)" font-size="30.3" fill="#000" stroke="#000" stroke-width="0.2">0.1</text>
<text transform="translate(1360.6,878) scale(1.000,1)" font-size="30.3" fill="#000" stroke="#000" stroke-width="0.2">0.2</text>
<text transform="translate(1624.3,878) scale(1.000,1)" font-size="30.3" fill="#000" stroke="#000" stroke-width="0.2">0.3</text>
<text transform="translate(1888,878) scale(1.000,1)" font-size="30.3" fill="#000" stroke="#000" stroke-width="0.2">0.4</text>
<text transform="translate(827.1,629.5) rotate(-90) translate(0,0) scale(0.800,1)" font-family="'DejaVu Serif','Liberation Serif',serif" font-weight="normal" font-size="48.5" fill="#000" stroke="#000" stroke-width="0.5" stroke-linejoin="round" xml:space="preserve">Δ</text>
<text transform="translate(827.1,629.5) rotate(-90) translate(28,0) scale(0.700,1)" font-family="'DejaVu Serif','Liberation Serif',serif" font-weight="normal" font-size="46.5" fill="#000" stroke="#000" stroke-width="0.5" stroke-linejoin="round" xml:space="preserve">γ</text>
<text transform="translate(827.1,629.5) rotate(-90) translate(47.5,0)" font-family="'Liberation Sans',sans-serif" font-weight="normal" font-size="49.5" fill="#000" stroke="#000" stroke-width="0.5" stroke-linejoin="round" xml:space="preserve">(t) / mNm</text>
<text transform="translate(827.1,629.5) rotate(-90) translate(253.7,-20.3)" font-family="'Liberation Sans',sans-serif" font-weight="normal" font-size="33" fill="#000" stroke="#000" stroke-width="0.3" stroke-linejoin="round" xml:space="preserve">-1</text>
<text transform="translate(1486.2,945.7) translate(-38.7,0)" font-family="'Liberation Sans',sans-serif" font-weight="normal" font-size="48" fill="#000" stroke="#000" stroke-width="0.5" stroke-linejoin="round" xml:space="preserve">t / s</text>
<clipPath id="cai"><rect x="904.5" y="151" width="1164.9" height="677"/></clipPath>
<clipPath id="cao"><rect x="902.5" y="147.5" width="1168.9" height="684.5"/></clipPath>
<g clip-path="url(#cai)">
<g fill="#fff" stroke="#000" stroke-width="1.1" shape-rendering="crispEdges">
<circle cx="987.7" cy="193.5" r="7"/><circle cx="989.1" cy="190.9" r="7"/><circle cx="990.7" cy="194.4" r="7"/><circle cx="991.9" cy="199.7" r="7"/><circle cx="993.6" cy="199.4" r="7"/><circle cx="995.2" cy="201.8" r="7"/><circle cx="996.8" cy="202.6" r="7"/><circle cx="998.6" cy="198.8" r="7"/><circle cx="999.8" cy="204.2" r="7"/><circle cx="1001.3" cy="205.9" r="7"/><circle cx="1002.8" cy="209.3" r="7"/><circle cx="1004.3" cy="209.7" r="7"/><circle cx="1005.4" cy="206.7" r="7"/><circle cx="1007.1" cy="205.3" r="7"/><circle cx="1008.5" cy="207.4" r="7"/><circle cx="1009.6" cy="208.2" r="7"/><circle cx="1010.8" cy="209.6" r="7"/><circle cx="1012.3" cy="209.7" r="7"/><circle cx="1013.5" cy="210.1" r="7"/><circle cx="1015.1" cy="212.9" r="7"/><circle cx="1016.8" cy="213.3" r="7"/><circle cx="1018" cy="214.7" r="7"/><circle cx="1019.4" cy="214.2" r="7"/><circle cx="1021" cy="210.2" r="7"/><circle cx="1022.4" cy="212" r="7"/><circle cx="1023.7" cy="213" r="7"/><circle cx="1025" cy="217.2" r="7"/><circle cx="1026.7" cy="220.8" r="7"/><circle cx="1028.2" cy="218.2" r="7"/><circle cx="1029.5" cy="219.4" r="7"/><circle cx="1031.1" cy="219.4" r="7"/><circle cx="1032.5" cy="222" r="7"/><circle cx="1034.1" cy="224.2" r="7"/><circle cx="1035.8" cy="225.7" r="7"/><circle cx="1037.2" cy="225" r="7"/><circle cx="1038.7" cy="226.6" r="7"/><circle cx="1040.1" cy="226.1" r="7"/><circle cx="1041.7" cy="226.1" r="7"/><circle cx="1042.9" cy="225.7" r="7"/><circle cx="1044.4" cy="225.4" r="7"/><circle cx="1045.6" cy="228.3" r="7"/><circle cx="1047.1" cy="230.6" r="7"/><circle cx="1048.5" cy="229.2" r="7"/><circle cx="1049.9" cy="229.4" r="7"/><circle cx="1051" cy="230.6" r="7"/><circle cx="1052.1" cy="229.7" r="7"/><circle cx="1053.6" cy="232.5" r="7"/><circle cx="1054.7" cy="234.6" r="7"/><circle cx="1056" cy="238.6" r="7"/><circle cx="1057.4" cy="240.2" r="7"/><circle cx="1058.4" cy="241.6" r="7"/><circle cx="1059.5" cy="241.5" r="7"/><circle cx="1060.8" cy="241.6" r="7"/><circle cx="1062" cy="241.2" r="7"/><circle cx="1063.7" cy="245.9" r="7"/><circle cx="1064.9" cy="242.3" r="7"/><circle cx="1066.2" cy="241.8" r="7"/><circle cx="1067.5" cy="242.1" r="7"/><circle cx="1068.7" cy="242" r="7"/><circle cx="1070.4" cy="243" r="7"/><circle cx="1072.1" cy="247.5" r="7"/><circle cx="1073.2" cy="247.4" r="7"/><circle cx="1074.6" cy="248.2" r="7"/><circle cx="1075.8" cy="250.5" r="7"/><circle cx="1077.4" cy="251.6" r="7"/><circle cx="1078.6" cy="252.2" r="7"/><circle cx="1079.7" cy="252.5" r="7"/><circle cx="1080.8" cy="252.5" r="7"/><circle cx="1082.3" cy="253.7" r="7"/><circle cx="1083.7" cy="253.3" r="7"/><circle cx="1084.8" cy="255.7" r="7"/><circle cx="1086.1" cy="251.8" r="7"/><circle cx="1087.8" cy="252.3" r="7"/><circle cx="1088.9" cy="253.9" r="7"/><circle cx="1090" cy="257.2" r="7"/><circle cx="1091.4" cy="260.2" r="7"/><circle cx="1092.5" cy="263.2" r="7"/><circle cx="1094.1" cy="266.4" r="7"/><circle cx="1095.7" cy="266.4" r="7"/><circle cx="1097" cy="269.4" r="7"/><circle cx="1098.6" cy="266.8" r="7"/><circle cx="1100.2" cy="265.5" r="7"/><circle cx="1101.9" cy="265.9" r="7"/><circle cx="1103.5" cy="267.8" r="7"/><circle cx="1105.3" cy="264.4" r="7"/><circle cx="1106.6" cy="265.9" r="7"/><circle cx="1108" cy="268.5" r="7"/><circle cx="1109.8" cy="270.5" r="7"/><circle cx="1111.2" cy="268.3" r="7"/><circle cx="1112.3" cy="271.5" r="7"/><circle cx="1113.3" cy="273.5" r="7"/><circle cx="1114.9" cy="274.3" r="7"/><circle cx="1116.7" cy="276.8" r="7"/><circle cx="1118.1" cy="277" r="7"/><circle cx="1119.4" cy="274.6" r="7"/><circle cx="1120.9" cy="275.8" r="7"/><circle cx="1122" cy="279.5" r="7"/><circle cx="1123.6" cy="281.2" r="7"/><circle cx="1125" cy="281.9" r="7"/><circle cx="1126.4" cy="281.9" r="7"/><circle cx="1128" cy="283.9" r="7"/><circle cx="1129.1" cy="286.4" r="7"/><circle cx="1130.2" cy="284.7" r="7"/><circle cx="1131.3" cy="285.3" r="7"/><circle cx="1132.5" cy="285.9" r="7"/><circle cx="1133.8" cy="288.6" r="7"/><circle cx="1135.5" cy="289.5" r="7"/><circle cx="1136.9" cy="286.6" r="7"/><circle cx="1138.2" cy="288.4" r="7"/><circle cx="1139.4" cy="288.1" r="7"/><circle cx="1140.6" cy="287.8" r="7"/><circle cx="1142.4" cy="290.1" r="7"/><circle cx="1143.9" cy="291" r="7"/><circle cx="1145.7" cy="292.6" r="7"/><circle cx="1147.1" cy="296.3" r="7"/><circle cx="1148.4" cy="297.7" r="7"/><circle cx="1149.8" cy="296.2" r="7"/><circle cx="1150.9" cy="296.2" r="7"/><circle cx="1152.1" cy="299.7" r="7"/><circle cx="1153.5" cy="298.6" r="7"/><circle cx="1155.1" cy="298.4" r="7"/><circle cx="1156.6" cy="299.3" r="7"/><circle cx="1157.8" cy="300.1" r="7"/><circle cx="1159.1" cy="305" r="7"/><circle cx="1160.6" cy="306.5" r="7"/><circle cx="1162" cy="304.7" r="7"/><circle cx="1163.1" cy="308.4" r="7"/><circle cx="1164.2" cy="311.2" r="7"/><circle cx="1165.6" cy="313.4" r="7"/><circle cx="1166.8" cy="310.7" r="7"/><circle cx="1168.2" cy="308.7" r="7"/><circle cx="1169.6" cy="312.5" r="7"/><circle cx="1170.8" cy="311.5" r="7"/><circle cx="1172.5" cy="306" r="7"/><circle cx="1174.2" cy="312.8" r="7"/><circle cx="1175.9" cy="313.1" r="7"/><circle cx="1177" cy="315.5" r="7"/><circle cx="1178.2" cy="319.3" r="7"/><circle cx="1179.7" cy="320.6" r="7"/><circle cx="1180.7" cy="322" r="7"/><circle cx="1182.4" cy="323" r="7"/><circle cx="1183.6" cy="320.4" r="7"/><circle cx="1185.1" cy="320.9" r="7"/><circle cx="1186.6" cy="320.1" r="7"/><circle cx="1187.9" cy="321" r="7"/><circle cx="1189" cy="325.8" r="7"/><circle cx="1190" cy="324.6" r="7"/><circle cx="1191.7" cy="324.3" r="7"/><circle cx="1193" cy="326.2" r="7"/><circle cx="1194.6" cy="328.9" r="7"/><circle cx="1196.1" cy="329.2" r="7"/><circle cx="1197.4" cy="328.5" r="7"/><circle cx="1199.1" cy="330.2" r="7"/><circle cx="1200.3" cy="329.1" r="7"/><circle cx="1201.6" cy="335.5" r="7"/><circle cx="1202.9" cy="339" r="7"/><circle cx="1204.5" cy="333.7" r="7"/><circle cx="1206" cy="333.7" r="7"/><circle cx="1207.1" cy="332.4" r="7"/><circle cx="1208.8" cy="335.4" r="7"/><circle cx="1209.9" cy="334" r="7"/><circle cx="1211.3" cy="334.6" r="7"/><circle cx="1212.7" cy="332.5" r="7"/><circle cx="1214.1" cy="332.3" r="7"/><circle cx="1215.4" cy="334" r="7"/><circle cx="1216.5" cy="335.8" r="7"/><circle cx="1218" cy="338.2" r="7"/><circle cx="1219.6" cy="341.2" r="7"/><circle cx="1221.3" cy="343.4" r="7"/><circle cx="1222.6" cy="344.2" r="7"/><circle cx="1224.1" cy="347.2" r="7"/><circle cx="1225.5" cy="346" r="7"/><circle cx="1226.9" cy="350" r="7"/><circle cx="1228" cy="348.3" r="7"/><circle cx="1229.5" cy="349" r="7"/><circle cx="1231.2" cy="348.8" r="7"/><circle cx="1232.4" cy="350.2" r="7"/><circle cx="1233.5" cy="349" r="7"/><circle cx="1234.8" cy="349.3" r="7"/><circle cx="1236.5" cy="351.5" r="7"/><circle cx="1237.8" cy="351.2" r="7"/><circle cx="1239.5" cy="354.1" r="7"/><circle cx="1240.7" cy="353.6" r="7"/><circle cx="1241.8" cy="355.2" r="7"/><circle cx="1243" cy="355.1" r="7"/><circle cx="1244.4" cy="356.6" r="7"/><circle cx="1245.8" cy="359.5" r="7"/><circle cx="1246.9" cy="358.6" r="7"/><circle cx="1248.4" cy="361" r="7"/><circle cx="1249.4" cy="363.9" r="7"/><circle cx="1250.5" cy="364.5" r="7"/><circle cx="1251.8" cy="364.2" r="7"/><circle cx="1253.4" cy="362.1" r="7"/><circle cx="1254.6" cy="362.8" r="7"/><circle cx="1255.7" cy="363" r="7"/><circle cx="1257.2" cy="366.1" r="7"/><circle cx="1258.6" cy="367.9" r="7"/><circle cx="1259.9" cy="365.4" r="7"/><circle cx="1261.3" cy="369.2" r="7"/><circle cx="1262.7" cy="367.9" r="7"/><circle cx="1263.9" cy="366.6" r="7"/><circle cx="1265.5" cy="370.3" r="7"/><circle cx="1266.7" cy="372.8" r="7"/><circle cx="1268.4" cy="372" r="7"/><circle cx="1270" cy="376.6" r="7"/><circle cx="1271.1" cy="373.6" r="7"/><circle cx="1272.8" cy="378.1" r="7"/><circle cx="1274.3" cy="380.4" r="7"/><circle cx="1275.7" cy="379.6" r="7"/><circle cx="1276.9" cy="379.5" r="7"/><circle cx="1278" cy="377.6" r="7"/><circle cx="1279.7" cy="380.6" r="7"/><circle cx="1280.8" cy="383.1" r="7"/><circle cx="1282.3" cy="382.4" r="7"/><circle cx="1283.6" cy="381.9" r="7"/><circle cx="1284.8" cy="386.4" r="7"/><circle cx="1286.5" cy="387" r="7"/><circle cx="1287.8" cy="388.1" r="7"/><circle cx="1289.2" cy="387.6" r="7"/><circle cx="1290.4" cy="389.2" r="7"/><circle cx="1292" cy="393.6" r="7"/><circle cx="1293.1" cy="392.5" r="7"/><circle cx="1294.5" cy="388.5" r="7"/><circle cx="1295.7" cy="388.6" r="7"/><circle cx="1297.3" cy="391.7" r="7"/><circle cx="1298.6" cy="395.9" r="7"/><circle cx="1300.1" cy="398.3" r="7"/><circle cx="1301.8" cy="399.4" r="7"/><circle cx="1303.4" cy="397.7" r="7"/><circle cx="1304.5" cy="396.4" r="7"/><circle cx="1305.6" cy="394.3" r="7"/><circle cx="1306.7" cy="396.1" r="7"/><circle cx="1308.2" cy="397.8" r="7"/><circle cx="1309.2" cy="398.5" r="7"/><circle cx="1310.6" cy="399.9" r="7"/><circle cx="1312" cy="404.6" r="7"/><circle cx="1313.6" cy="401.8" r="7"/><circle cx="1315.2" cy="400.7" r="7"/><circle cx="1316.3" cy="402.4" r="7"/><circle cx="1317.7" cy="402.3" r="7"/><circle cx="1318.9" cy="405.5" r="7"/><circle cx="1320.3" cy="405.9" r="7"/><circle cx="1321.5" cy="408.1" r="7"/><circle cx="1323.1" cy="409.6" r="7"/><circle cx="1324.8" cy="409.9" r="7"/><circle cx="1326.4" cy="408.7" r="7"/><circle cx="1328.2" cy="412" r="7"/><circle cx="1329.4" cy="411.1" r="7"/><circle cx="1330.7" cy="414.3" r="7"/><circle cx="1331.8" cy="416" r="7"/><circle cx="1333" cy="416" r="7"/><circle cx="1334.5" cy="417.3" r="7"/><circle cx="1335.7" cy="413.9" r="7"/><circle cx="1336.8" cy="415.2" r="7"/><circle cx="1338.1" cy="419.2" r="7"/><circle cx="1339.5" cy="424.9" r="7"/><circle cx="1340.8" cy="424.9" r="7"/><circle cx="1342.5" cy="423.1" r="7"/><circle cx="1344.2" cy="424.4" r="7"/><circle cx="1345.7" cy="421.6" r="7"/><circle cx="1347" cy="425.4" r="7"/><circle cx="1348.6" cy="425.5" r="7"/><circle cx="1350.1" cy="427.5" r="7"/><circle cx="1351.3" cy="430.9" r="7"/><circle cx="1352.3" cy="430.6" r="7"/><circle cx="1353.7" cy="427.1" r="7"/><circle cx="1355.2" cy="429.4" r="7"/><circle cx="1356.3" cy="428" r="7"/><circle cx="1358" cy="428.7" r="7"/><circle cx="1359.3" cy="432.6" r="7"/><circle cx="1360.4" cy="432" r="7"/><circle cx="1361.7" cy="430.5" r="7"/><circle cx="1363.1" cy="431.9" r="7"/><circle cx="1364.2" cy="430.5" r="7"/><circle cx="1365.6" cy="435.2" r="7"/><circle cx="1367.1" cy="436.8" r="7"/><circle cx="1368.2" cy="440" r="7"/><circle cx="1369.8" cy="438.4" r="7"/><circle cx="1370.9" cy="439.1" r="7"/><circle cx="1372.2" cy="439" r="7"/><circle cx="1373.4" cy="438.6" r="7"/><circle cx="1375" cy="438.2" r="7"/><circle cx="1376.2" cy="441.6" r="7"/><circle cx="1377.4" cy="443.6" r="7"/><circle cx="1379.1" cy="444.1" r="7"/><circle cx="1380.2" cy="443.6" r="7"/><circle cx="1381.5" cy="446.9" r="7"/><circle cx="1383.1" cy="445.9" r="7"/><circle cx="1384.4" cy="447.7" r="7"/><circle cx="1385.6" cy="448.3" r="7"/><circle cx="1386.9" cy="452.5" r="7"/><circle cx="1388.1" cy="453.6" r="7"/><circle cx="1389.4" cy="453.5" r="7"/><circle cx="1390.9" cy="452.1" r="7"/><circle cx="1392.6" cy="452.4" r="7"/><circle cx="1394.2" cy="453.7" r="7"/><circle cx="1395.4" cy="457.5" r="7"/><circle cx="1397.1" cy="455.6" r="7"/><circle cx="1398.5" cy="456.5" r="7"/><circle cx="1399.7" cy="457.3" r="7"/><circle cx="1401.4" cy="460.5" r="7"/><circle cx="1402.8" cy="459.9" r="7"/><circle cx="1404.2" cy="459.5" r="7"/><circle cx="1405.5" cy="461.9" r="7"/><circle cx="1407.2" cy="459.7" r="7"/><circle cx="1408.7" cy="464.6" r="7"/><circle cx="1410.4" cy="465.1" r="7"/><circle cx="1411.9" cy="469" r="7"/><circle cx="1413.2" cy="469.8" r="7"/><circle cx="1415" cy="469.1" r="7"/><circle cx="1416.1" cy="467.4" r="7"/><circle cx="1417.5" cy="467" r="7"/><circle cx="1418.9" cy="468.4" r="7"/><circle cx="1420.2" cy="466.8" r="7"/><circle cx="1421.9" cy="471.1" r="7"/><circle cx="1423.3" cy="472.9" r="7"/><circle cx="1424.8" cy="471.5" r="7"/><circle cx="1426.2" cy="474.3" r="7"/><circle cx="1427.8" cy="475.8" r="7"/><circle cx="1429.4" cy="476.1" r="7"/><circle cx="1431" cy="478.5" r="7"/><circle cx="1432.3" cy="479.4" r="7"/><circle cx="1433.6" cy="482.6" r="7"/><circle cx="1434.9" cy="480.9" r="7"/><circle cx="1436.9" cy="482.4" r="7"/><circle cx="1438.1" cy="481.3" r="7"/><circle cx="1440.1" cy="485.6" r="7"/><circle cx="1441.8" cy="483.3" r="7"/><circle cx="1443.2" cy="484.7" r="7"/><circle cx="1445.1" cy="486.2" r="7"/><circle cx="1446.7" cy="486.2" r="7"/><circle cx="1448.3" cy="485.4" r="7"/><circle cx="1449.7" cy="490.3" r="7"/><circle cx="1451.5" cy="489.1" r="7"/><circle cx="1453.6" cy="492.1" r="7"/><circle cx="1455" cy="493.5" r="7"/><circle cx="1456.8" cy="492.6" r="7"/><circle cx="1458.4" cy="492.5" r="7"/><circle cx="1460.2" cy="491.4" r="7"/><circle cx="1461.8" cy="491.7" r="7"/><circle cx="1464" cy="496.2" r="7"/><circle cx="1466.2" cy="497.5" r="7"/><circle cx="1468.1" cy="499.7" r="7"/><circle cx="1469.7" cy="501.6" r="7"/><circle cx="1471.2" cy="497.4" r="7"/><circle cx="1473.3" cy="501.9" r="7"/><circle cx="1474.9" cy="500.2" r="7"/><circle cx="1476.5" cy="504.2" r="7"/><circle cx="1478.7" cy="505" r="7"/><circle cx="1480.3" cy="502.6" r="7"/><circle cx="1482.3" cy="504.7" r="7"/><circle cx="1484.4" cy="510" r="7"/><circle cx="1485.9" cy="508.3" r="7"/><circle cx="1487.9" cy="510.6" r="7"/><circle cx="1490.3" cy="512.3" r="7"/><circle cx="1491.8" cy="513.8" r="7"/><circle cx="1493.3" cy="512.1" r="7"/><circle cx="1495.2" cy="516" r="7"/><circle cx="1496.9" cy="516" r="7"/><circle cx="1498.8" cy="515" r="7"/><circle cx="1501.2" cy="515.9" r="7"/><circle cx="1503.4" cy="514.7" r="7"/><circle cx="1505.6" cy="517.4" r="7"/><circle cx="1507.9" cy="519.5" r="7"/><circle cx="1509.5" cy="520.7" r="7"/><circle cx="1511.6" cy="519.6" r="7"/><circle cx="1513.9" cy="522.8" r="7"/><circle cx="1515.7" cy="525.8" r="7"/><circle cx="1518.1" cy="526.1" r="7"/><circle cx="1520.7" cy="527" r="7"/><circle cx="1522.7" cy="525.3" r="7"/><circle cx="1524.7" cy="522.8" r="7"/><circle cx="1526.9" cy="527.3" r="7"/><circle cx="1528.7" cy="530.6" r="7"/><circle cx="1531.1" cy="532.1" r="7"/><circle cx="1533" cy="531.1" r="7"/><circle cx="1535.6" cy="534.1" r="7"/><circle cx="1537.5" cy="534.6" r="7"/><circle cx="1540.3" cy="533.8" r="7"/><circle cx="1542.9" cy="535.2" r="7"/><circle cx="1545.1" cy="536.7" r="7"/><circle cx="1547.9" cy="538.6" r="7"/><circle cx="1550.7" cy="540.6" r="7"/><circle cx="1552.5" cy="541.2" r="7"/><circle cx="1555.1" cy="542.2" r="7"/><circle cx="1557.8" cy="544.3" r="7"/><circle cx="1560.2" cy="544.6" r="7"/><circle cx="1562.6" cy="544.7" r="7"/><circle cx="1564.5" cy="544.9" r="7"/><circle cx="1566.8" cy="545.3" r="7"/><circle cx="1569.3" cy="546.7" r="7"/><circle cx="1572.3" cy="547.2" r="7"/><circle cx="1575" cy="549.1" r="7"/><circle cx="1577.9" cy="552.9" r="7"/><circle cx="1579.9" cy="553.6" r="7"/><circle cx="1582.2" cy="554.8" r="7"/><circle cx="1584.7" cy="553.4" r="7"/><circle cx="1587.2" cy="553.2" r="7"/><circle cx="1589.6" cy="555.3" r="7"/><circle cx="1591.7" cy="558.2" r="7"/><circle cx="1594.8" cy="557.9" r="7"/><circle cx="1597.8" cy="559.6" r="7"/><circle cx="1600.1" cy="562.8" r="7"/><circle cx="1603" cy="563.9" r="7"/><circle cx="1605.9" cy="564.8" r="7"/><circle cx="1608.1" cy="565.7" r="7"/><circle cx="1610.9" cy="565" r="7"/><circle cx="1613.4" cy="566.4" r="7"/><circle cx="1616.5" cy="565.6" r="7"/><circle cx="1619.2" cy="566.8" r="7"/><circle cx="1622" cy="569.9" r="7"/><circle cx="1624.4" cy="571.7" r="7"/><circle cx="1626.8" cy="573.6" r="7"/><circle cx="1630.1" cy="574.1" r="7"/><circle cx="1632.7" cy="575.4" r="7"/><circle cx="1636.1" cy="578.1" r="7"/><circle cx="1639.1" cy="578.9" r="7"/><circle cx="1641.7" cy="580.5" r="7"/><circle cx="1645" cy="582.4" r="7"/><circle cx="1647.9" cy="582.2" r="7"/><circle cx="1650.6" cy="584.1" r="7"/><circle cx="1653.2" cy="584.7" r="7"/><circle cx="1655.5" cy="585.4" r="7"/><circle cx="1658.8" cy="585.3" r="7"/><circle cx="1662.5" cy="587.1" r="7"/><circle cx="1666.2" cy="588.7" r="7"/><circle cx="1669.3" cy="590.4" r="7"/><circle cx="1672" cy="592.9" r="7"/><circle cx="1675.6" cy="593.7" r="7"/><circle cx="1678.5" cy="594.4" r="7"/><circle cx="1681.3" cy="595.6" r="7"/><circle cx="1683.9" cy="596.5" r="7"/><circle cx="1687" cy="598.6" r="7"/><circle cx="1689.5" cy="601.5" r="7"/><circle cx="1692.7" cy="601.5" r="7"/><circle cx="1695.9" cy="603.3" r="7"/><circle cx="1699.8" cy="604.7" r="7"/><circle cx="1702.6" cy="606.9" r="7"/><circle cx="1705.3" cy="607.1" r="7"/><circle cx="1708" cy="605.1" r="7"/><circle cx="1711.2" cy="609.1" r="7"/><circle cx="1715.1" cy="610.8" r="7"/><circle cx="1719.2" cy="613.7" r="7"/><circle cx="1722.7" cy="614.8" r="7"/><circle cx="1725.3" cy="615.9" r="7"/><circle cx="1729" cy="616.8" r="7"/><circle cx="1732.6" cy="620.6" r="7"/><circle cx="1736.3" cy="620.9" r="7"/><circle cx="1740.1" cy="622.1" r="7"/><circle cx="1743.2" cy="622.4" r="7"/><circle cx="1746.6" cy="623.8" r="7"/><circle cx="1750.6" cy="625.8" r="7"/><circle cx="1754.2" cy="627.7" r="7"/><circle cx="1758.1" cy="630.4" r="7"/><circle cx="1760.9" cy="631" r="7"/><circle cx="1765.2" cy="632.9" r="7"/><circle cx="1768.8" cy="634.4" r="7"/><circle cx="1772.6" cy="636.2" r="7"/><circle cx="1775.7" cy="638.4" r="7"/><circle cx="1779.5" cy="639.9" r="7"/><circle cx="1783.6" cy="641.3" r="7"/><circle cx="1787.5" cy="643.1" r="7"/><circle cx="1791.3" cy="645.6" r="7"/><circle cx="1795.7" cy="646.2" r="7"/><circle cx="1799.9" cy="647.5" r="7"/><circle cx="1803.9" cy="648.7" r="7"/><circle cx="1807.8" cy="650.7" r="7"/><circle cx="1812.1" cy="653.2" r="7"/><circle cx="1816.6" cy="654.4" r="7"/><circle cx="1819.6" cy="655" r="7"/><circle cx="1823.8" cy="656.9" r="7"/><circle cx="1828.3" cy="658.8" r="7"/><circle cx="1832" cy="660.2" r="7"/><circle cx="1835.5" cy="661" r="7"/><circle cx="1839" cy="664.6" r="7"/><circle cx="1842.5" cy="666.3" r="7"/><circle cx="1846.7" cy="667.6" r="7"/><circle cx="1851.8" cy="668.7" r="7"/><circle cx="1855.5" cy="671.3" r="7"/><circle cx="1859.6" cy="672" r="7"/><circle cx="1863.3" cy="674.7" r="7"/><circle cx="1867.8" cy="676.4" r="7"/><circle cx="1871.5" cy="678.1" r="7"/><circle cx="1875" cy="679.3" r="7"/><circle cx="1879.6" cy="682.7" r="7"/><circle cx="1883.1" cy="683.1" r="7"/><circle cx="1886.8" cy="685" r="7"/><circle cx="1890.9" cy="685.7" r="7"/><circle cx="1894.9" cy="686.7" r="7"/><circle cx="1898.9" cy="688.9" r="7"/><circle cx="1903.4" cy="691.5" r="7"/><circle cx="1908" cy="691.6" r="7"/><circle cx="1911.6" cy="693.8" r="7"/><circle cx="1915.8" cy="695.3" r="7"/><circle cx="1919.5" cy="696.9" r="7"/><circle cx="1924.6" cy="698.6" r="7"/><circle cx="1928.4" cy="701.8" r="7"/><circle cx="1932.8" cy="703.8" r="7"/><circle cx="1936.7" cy="705.3" r="7"/><circle cx="1942" cy="705.5" r="7"/><circle cx="1946.2" cy="706.8" r="7"/><circle cx="1951.7" cy="708.4" r="7"/><circle cx="1955.6" cy="711.4" r="7"/><circle cx="1959.6" cy="713.5" r="7"/><circle cx="1964.8" cy="715.7" r="7"/><circle cx="1968.8" cy="717.4" r="7"/><circle cx="1973.1" cy="719.6" r="7"/><circle cx="1977.4" cy="722.1" r="7"/><circle cx="1981.4" cy="723" r="7"/><circle cx="1985.2" cy="725.6" r="7"/><circle cx="1989.4" cy="727.5" r="7"/><circle cx="1994" cy="727.9" r="7"/><circle cx="1998.3" cy="730.8" r="7"/><circle cx="2002.2" cy="731.1" r="7"/><circle cx="2007.4" cy="732.6" r="7"/><circle cx="2012.4" cy="736.6" r="7"/><circle cx="2016.4" cy="737.3" r="7"/><circle cx="2019.7" cy="739.1" r="7"/><circle cx="2025.1" cy="741.6" r="7"/><circle cx="2028.7" cy="742.4" r="7"/><circle cx="2032.4" cy="744.4" r="7"/><circle cx="2035.9" cy="745.3" r="7"/><circle cx="2040.4" cy="746.3" r="7"/><circle cx="2044.7" cy="749.3" r="7"/><circle cx="2050" cy="752.5" r="7"/><circle cx="2054.8" cy="753.7" r="7"/><circle cx="2060.1" cy="755.7" r="7"/><circle cx="2063.9" cy="755" r="7"/><circle cx="2067.9" cy="758.1" r="7"/><circle cx="2072.4" cy="759.1" r="7"/>
</g>
</g>
<g clip-path="url(#cao)">
<line shape-rendering="crispEdges"  x1="870" y1="118.5" x2="2030" y2="860.9" stroke="#0000ff" stroke-width="8.9" stroke-linecap="butt"/>
</g>
<text transform="translate(1252.5,248) translate(0,0) scale(0.763,1)" font-family="'DejaVu Serif','Liberation Serif',serif" font-weight="normal" font-size="64.9" fill="#0000ff" stroke="#0000ff" stroke-width="0.6" stroke-linejoin="round" xml:space="preserve">γ</text>
<text transform="translate(1252.5,248) translate(29.6,0)" font-family="'Liberation Sans',sans-serif" font-weight="normal" font-size="69" fill="#0000ff" stroke="#0000ff" stroke-width="0.7" stroke-linejoin="round" xml:space="preserve">(t) = </text>
<text transform="translate(1252.5,248) translate(173.3,0) scale(0.763,1)" font-family="'DejaVu Serif','Liberation Serif',serif" font-weight="normal" font-size="64.9" fill="#0000ff" stroke="#0000ff" stroke-width="0.6" stroke-linejoin="round" xml:space="preserve">γ</text>
<text transform="translate(1252.5,248) translate(202.9,15)" font-family="'Liberation Sans',sans-serif" font-weight="normal" font-size="46" fill="#0000ff" stroke="#0000ff" stroke-width="0.5" stroke-linejoin="round" xml:space="preserve">eq</text>
<text transform="translate(1252.5,248) translate(254.1,0)" font-family="'Liberation Sans',sans-serif" font-weight="normal" font-size="69" fill="#0000ff" stroke="#0000ff" stroke-width="0.7" stroke-linejoin="round" xml:space="preserve">+(</text>
<text transform="translate(1252.5,248) translate(317.4,0) scale(0.763,1)" font-family="'DejaVu Serif','Liberation Serif',serif" font-weight="normal" font-size="64.9" fill="#0000ff" stroke="#0000ff" stroke-width="0.6" stroke-linejoin="round" xml:space="preserve">γ</text>
<text transform="translate(1252.5,248) translate(346.9,15)" font-family="'Liberation Sans',sans-serif" font-weight="normal" font-size="46" fill="#0000ff" stroke="#0000ff" stroke-width="0.5" stroke-linejoin="round" xml:space="preserve">o</text>
<text transform="translate(1252.5,248) translate(372.5,0)" font-family="'Liberation Sans',sans-serif" font-weight="normal" font-size="69" fill="#0000ff" stroke="#0000ff" stroke-width="0.7" stroke-linejoin="round" xml:space="preserve">-</text>
<text transform="translate(1252.5,248) translate(395.5,0) scale(0.763,1)" font-family="'DejaVu Serif','Liberation Serif',serif" font-weight="normal" font-size="64.9" fill="#0000ff" stroke="#0000ff" stroke-width="0.6" stroke-linejoin="round" xml:space="preserve">γ</text>
<text transform="translate(1252.5,248) translate(425.1,15)" font-family="'Liberation Sans',sans-serif" font-weight="normal" font-size="46" fill="#0000ff" stroke="#0000ff" stroke-width="0.5" stroke-linejoin="round" xml:space="preserve">eq</text>
<text transform="translate(1252.5,248) translate(476.2,0)" font-family="'Liberation Sans',sans-serif" font-weight="normal" font-size="69" fill="#0000ff" stroke="#0000ff" stroke-width="0.7" stroke-linejoin="round" xml:space="preserve">).exp(-t/</text>
<text transform="translate(1252.5,248) translate(713.9,0) scale(0.845,1)" font-family="'DejaVu Serif','Liberation Serif',serif" font-weight="normal" font-size="64.9" fill="#0000ff" stroke="#0000ff" stroke-width="0.6" stroke-linejoin="round" xml:space="preserve">τ</text>
<text transform="translate(1252.5,248) translate(744.3,15)" font-family="'Liberation Sans',sans-serif" font-weight="normal" font-size="46" fill="#0000ff" stroke="#0000ff" stroke-width="0.5" stroke-linejoin="round" xml:space="preserve">k</text>
<text transform="translate(1252.5,248) translate(767.3,0)" font-family="'Liberation Sans',sans-serif" font-weight="normal" font-size="69" fill="#0000ff" stroke="#0000ff" stroke-width="0.7" stroke-linejoin="round" xml:space="preserve">)</text>
<text transform="translate(1154,648) translate(0,0) scale(0.845,1)" font-family="'DejaVu Serif','Liberation Serif',serif" font-weight="normal" font-size="58.3" fill="#0000ff" stroke="#0000ff" stroke-width="0.6" stroke-linejoin="round" xml:space="preserve">τ</text>
<text transform="translate(1154,648) translate(27.3,16.5)" font-family="'Liberation Sans',sans-serif" font-weight="normal" font-size="41" fill="#0000ff" stroke="#0000ff" stroke-width="0.4" stroke-linejoin="round" xml:space="preserve">k</text>
<text transform="translate(1154,648) translate(47.8,0) scale(0.950,1)" font-family="'Liberation Sans',sans-serif" font-weight="normal" font-size="64.5" fill="#0000ff" stroke="#0000ff" stroke-width="0.6" stroke-linejoin="round" xml:space="preserve">= 0.4 ± 0.1 s</text>
<clipPath id="h2"><rect x="310.2" y="2394.3" width="1759.6" height="105"/></clipPath>
<g clip-path="url(#h2)" stroke="#999" stroke-width="4.4" shape-rendering="geometricPrecision">
<line x1="302.2" y1="2444.6" x2="360.5" y2="2386.3"/>
<line x1="302.2" y1="2484.3" x2="400.2" y2="2386.3"/>
<line x1="319" y1="2507.3" x2="440" y2="2386.3"/>
<line x1="358.8" y1="2507.3" x2="479.8" y2="2386.3"/>
<line x1="398.5" y1="2507.3" x2="519.5" y2="2386.3"/>
<line x1="438.3" y1="2507.3" x2="559.3" y2="2386.3"/>
<line x1="478.1" y1="2507.3" x2="599.1" y2="2386.3"/>
<line x1="517.8" y1="2507.3" x2="638.8" y2="2386.3"/>
<line x1="557.6" y1="2507.3" x2="678.6" y2="2386.3"/>
<line x1="597.3" y1="2507.3" x2="718.3" y2="2386.3"/>
<line x1="637.1" y1="2507.3" x2="758.1" y2="2386.3"/>
<line x1="676.9" y1="2507.3" x2="797.9" y2="2386.3"/>
<line x1="716.6" y1="2507.3" x2="837.6" y2="2386.3"/>
<line x1="756.4" y1="2507.3" x2="877.4" y2="2386.3"/>
<line x1="796.2" y1="2507.3" x2="917.2" y2="2386.3"/>
<line x1="835.9" y1="2507.3" x2="956.9" y2="2386.3"/>
<line x1="875.7" y1="2507.3" x2="996.7" y2="2386.3"/>
<line x1="915.5" y1="2507.3" x2="1036.5" y2="2386.3"/>
<line x1="955.2" y1="2507.3" x2="1076.2" y2="2386.3"/>
<line x1="995" y1="2507.3" x2="1116" y2="2386.3"/>
<line x1="1034.8" y1="2507.3" x2="1155.8" y2="2386.3"/>
<line x1="1074.5" y1="2507.3" x2="1195.5" y2="2386.3"/>
<line x1="1114.3" y1="2507.3" x2="1235.3" y2="2386.3"/>
<line x1="1154.1" y1="2507.3" x2="1275.1" y2="2386.3"/>
<line x1="1193.8" y1="2507.3" x2="1314.8" y2="2386.3"/>
<line x1="1233.6" y1="2507.3" x2="1354.6" y2="2386.3"/>
<line x1="1273.4" y1="2507.3" x2="1394.4" y2="2386.3"/>
<line x1="1313.1" y1="2507.3" x2="1434.1" y2="2386.3"/>
<line x1="1352.9" y1="2507.3" x2="1473.9" y2="2386.3"/>
<line x1="1392.6" y1="2507.3" x2="1513.6" y2="2386.3"/>
<line x1="1432.4" y1="2507.3" x2="1553.4" y2="2386.3"/>
<line x1="1472.2" y1="2507.3" x2="1593.2" y2="2386.3"/>
<line x1="1511.9" y1="2507.3" x2="1632.9" y2="2386.3"/>
<line x1="1551.7" y1="2507.3" x2="1672.7" y2="2386.3"/>
<line x1="1591.5" y1="2507.3" x2="1712.5" y2="2386.3"/>
<line x1="1631.2" y1="2507.3" x2="1752.2" y2="2386.3"/>
<line x1="1671" y1="2507.3" x2="1792" y2="2386.3"/>
<line x1="1710.8" y1="2507.3" x2="1831.8" y2="2386.3"/>
<line x1="1750.5" y1="2507.3" x2="1871.5" y2="2386.3"/>
<line x1="1790.3" y1="2507.3" x2="1911.3" y2="2386.3"/>
<line x1="1830.1" y1="2507.3" x2="1951.1" y2="2386.3"/>
<line x1="1869.8" y1="2507.3" x2="1990.8" y2="2386.3"/>
<line x1="1909.6" y1="2507.3" x2="2030.6" y2="2386.3"/>
<line x1="1949.4" y1="2507.3" x2="2070.4" y2="2386.3"/>
<line x1="1989.1" y1="2507.3" x2="2077.8" y2="2418.6"/>
<line x1="2028.9" y1="2507.3" x2="2077.8" y2="2458.4"/>
</g>
<g shape-rendering="crispEdges" fill="#000">
<rect x="276" y="1476" width="1835" height="5"/>
<rect x="276" y="2509.9" width="1835" height="5"/>
<rect x="276" y="1478.5" width="6" height="1033.9"/>
<rect x="2106" y="1478.5" width="5" height="1033.9"/>
<rect x="256.5" y="2492.8" width="22.5" height="6"/>
<rect x="256.5" y="2374.5" width="22.5" height="6"/>
<rect x="256.5" y="2256.2" width="22.5" height="6"/>
<rect x="256.5" y="2137.9" width="22.5" height="6"/>
<rect x="256.5" y="2019.6" width="22.5" height="6"/>
<rect x="256.5" y="1901.3" width="22.5" height="6"/>
<rect x="256.5" y="1783" width="22.5" height="6"/>
<rect x="256.5" y="1664.7" width="22.5" height="6"/>
<rect x="256.5" y="1546.4" width="22.5" height="6"/>
<rect x="267.5" y="2433.7" width="11.5" height="6"/>
<rect x="267.5" y="2315.4" width="11.5" height="6"/>
<rect x="267.5" y="2197.1" width="11.5" height="6"/>
<rect x="267.5" y="2078.8" width="11.5" height="6"/>
<rect x="267.5" y="1960.5" width="11.5" height="6"/>
<rect x="267.5" y="1842.2" width="11.5" height="6"/>
<rect x="267.5" y="1723.9" width="11.5" height="6"/>
<rect x="267.5" y="1605.6" width="11.5" height="6"/>
<rect x="267.5" y="1487.3" width="11.5" height="6"/>
<rect x="325.8" y="2512.4" width="5" height="22"/>
<rect x="792.8" y="2512.4" width="5" height="22"/>
<rect x="1259.8" y="2512.4" width="5" height="22"/>
<rect x="1726.8" y="2512.4" width="5" height="22"/>
<rect x="559.3" y="2512.4" width="5" height="11"/>
<rect x="1026.3" y="2512.4" width="5" height="11"/>
<rect x="1493.3" y="2512.4" width="5" height="11"/>
<rect x="1960.3" y="2512.4" width="5" height="11"/>
</g>
<text transform="translate(188.4,2509.6) scale(0.955,1)" font-size="49.5" fill="#000" stroke="#000" stroke-width="0.4">30</text>
<text transform="translate(188.4,2391.3) scale(0.955,1)" font-size="49.5" fill="#000" stroke="#000" stroke-width="0.4">35</text>
<text transform="translate(188.4,2273) scale(0.955,1)" font-size="49.5" fill="#000" stroke="#000" stroke-width="0.4">40</text>
<text transform="translate(188.4,2154.7) scale(0.955,1)" font-size="49.5" fill="#000" stroke="#000" stroke-width="0.4">45</text>
<text transform="translate(188.4,2036.4) scale(0.955,1)" font-size="49.5" fill="#000" stroke="#000" stroke-width="0.4">50</text>
<text transform="translate(188.4,1918.1) scale(0.955,1)" font-size="49.5" fill="#000" stroke="#000" stroke-width="0.4">55</text>
<text transform="translate(188.4,1799.8) scale(0.955,1)" font-size="49.5" fill="#000" stroke="#000" stroke-width="0.4">60</text>
<text transform="translate(188.4,1681.5) scale(0.955,1)" font-size="49.5" fill="#000" stroke="#000" stroke-width="0.4">65</text>
<text transform="translate(188.4,1563.2) scale(0.955,1)" font-size="49.5" fill="#000" stroke="#000" stroke-width="0.4">70</text>
<text transform="translate(315.2,2587.4) scale(0.955,1)" font-size="49.5" fill="#000" stroke="#000" stroke-width="0.4">0</text>
<text transform="translate(769,2587.4) scale(0.955,1)" font-size="49.5" fill="#000" stroke="#000" stroke-width="0.4">20</text>
<text transform="translate(1236,2587.4) scale(0.955,1)" font-size="49.5" fill="#000" stroke="#000" stroke-width="0.4">40</text>
<text transform="translate(1703,2587.4) scale(0.955,1)" font-size="49.5" fill="#000" stroke="#000" stroke-width="0.4">60</text>
<text transform="translate(1650,1435) translate(0,0)" font-family="'Liberation Sans',sans-serif" font-weight="bold" font-size="73.5" fill="#000" stroke="#000" stroke-width="0.7" stroke-linejoin="round" xml:space="preserve">(b) c</text>
<text transform="translate(1650,1435) translate(155.1,17) scale(1.250,1)" font-family="'Liberation Sans',sans-serif" font-weight="bold" font-size="50" fill="#000" stroke="#000" stroke-width="0.5" stroke-linejoin="round" xml:space="preserve">S</text>
<text transform="translate(1650,1435) translate(196.8,0)" font-family="'Liberation Sans',sans-serif" font-weight="bold" font-size="73.5" fill="#000" stroke="#000" stroke-width="0.7" stroke-linejoin="round" xml:space="preserve">= 1 mM</text>
<text transform="translate(112.9,2199.6) rotate(-90) translate(0,0) scale(0.700,1)" font-family="'DejaVu Serif','Liberation Serif',serif" font-weight="normal" font-size="90.2" fill="#000" stroke="#000" stroke-width="0.9" stroke-linejoin="round" xml:space="preserve">γ</text>
<text transform="translate(112.9,2199.6) rotate(-90) translate(37.8,0)" font-family="'Liberation Sans',sans-serif" font-weight="normal" font-size="96" fill="#000" stroke="#000" stroke-width="1" stroke-linejoin="round" xml:space="preserve"> / mNm</text>
<text transform="translate(112.9,2199.6) rotate(-90) translate(347,-39.5)" font-family="'Liberation Sans',sans-serif" font-weight="normal" font-size="64.5" fill="#000" stroke="#000" stroke-width="0.6" stroke-linejoin="round" xml:space="preserve">-1</text>
<g fill="#fff" stroke="#000" stroke-width="2.1" shape-rendering="crispEdges">
<circle cx="328.6" cy="1500.3" r="11.5"/><circle cx="328.6" cy="1502.2" r="11.5"/><circle cx="328.7" cy="1504.5" r="11.5"/><circle cx="328.7" cy="1511.1" r="11.5"/><circle cx="328.7" cy="1513.7" r="11.5"/><circle cx="328.6" cy="1515.6" r="11.5"/><circle cx="328.4" cy="1518.8" r="11.5"/><circle cx="328.9" cy="1520.1" r="11.5"/><circle cx="328.5" cy="1522.8" r="11.5"/><circle cx="328.4" cy="1528.9" r="11.5"/><circle cx="328.8" cy="1532.4" r="11.5"/><circle cx="328.7" cy="1533.3" r="11.5"/><circle cx="328.6" cy="1536.4" r="11.5"/><circle cx="328.6" cy="1539" r="11.5"/><circle cx="328.8" cy="1541.1" r="11.5"/><circle cx="329" cy="1542.4" r="11.5"/><circle cx="328.6" cy="1544.3" r="11.5"/><circle cx="328.4" cy="1546.3" r="11.5"/><circle cx="328.6" cy="1548.1" r="11.5"/><circle cx="328.8" cy="1549.2" r="11.5"/><circle cx="328.7" cy="1551.9" r="11.5"/><circle cx="328.6" cy="1554.4" r="11.5"/><circle cx="328.9" cy="1557" r="11.5"/><circle cx="328.9" cy="1559.7" r="11.5"/><circle cx="328.7" cy="1562.4" r="11.5"/><circle cx="328.8" cy="1563.4" r="11.5"/><circle cx="328.7" cy="1565.4" r="11.5"/><circle cx="328.7" cy="1566.6" r="11.5"/><circle cx="328.7" cy="1567.6" r="11.5"/><circle cx="328.5" cy="1569.6" r="11.5"/><circle cx="328.9" cy="1573" r="11.5"/><circle cx="328.8" cy="1577.6" r="11.5"/><circle cx="328.8" cy="1579.2" r="11.5"/><circle cx="328.9" cy="1581.8" r="11.5"/><circle cx="328.9" cy="1584.2" r="11.5"/><circle cx="328.8" cy="1587.4" r="11.5"/><circle cx="328.8" cy="1589.4" r="11.5"/><circle cx="328.8" cy="1592.9" r="11.5"/><circle cx="329.3" cy="1595.7" r="11.5"/><circle cx="328.7" cy="1597.6" r="11.5"/><circle cx="329" cy="1598.7" r="11.5"/><circle cx="329.2" cy="1600.5" r="11.5"/><circle cx="328.8" cy="1603.2" r="11.5"/><circle cx="328.9" cy="1606.1" r="11.5"/><circle cx="328.9" cy="1608.3" r="11.5"/><circle cx="328.8" cy="1611" r="11.5"/><circle cx="329.4" cy="1612.6" r="11.5"/><circle cx="329.1" cy="1614" r="11.5"/><circle cx="329" cy="1620.4" r="11.5"/><circle cx="329.1" cy="1623.4" r="11.5"/><circle cx="329.3" cy="1625.2" r="11.5"/><circle cx="329.2" cy="1628.1" r="11.5"/><circle cx="329.1" cy="1634.9" r="11.5"/><circle cx="329.4" cy="1637.5" r="11.5"/><circle cx="329.2" cy="1640.5" r="11.5"/><circle cx="329.3" cy="1643.9" r="11.5"/><circle cx="329.4" cy="1645.4" r="11.5"/><circle cx="329.3" cy="1647.7" r="11.5"/><circle cx="329.5" cy="1649.7" r="11.5"/><circle cx="329.3" cy="1652" r="11.5"/><circle cx="330" cy="1653.3" r="11.5"/><circle cx="329.4" cy="1654.8" r="11.5"/><circle cx="329.6" cy="1656.2" r="11.5"/><circle cx="329.4" cy="1658.7" r="11.5"/><circle cx="329.3" cy="1660.5" r="11.5"/><circle cx="329.5" cy="1661.4" r="11.5"/><circle cx="329.5" cy="1664.3" r="11.5"/><circle cx="329.5" cy="1666.6" r="11.5"/><circle cx="329.6" cy="1667.6" r="11.5"/><circle cx="329.8" cy="1671" r="11.5"/><circle cx="330.1" cy="1672.7" r="11.5"/><circle cx="330.1" cy="1674.4" r="11.5"/><circle cx="329.7" cy="1676.3" r="11.5"/><circle cx="330.1" cy="1677.5" r="11.5"/><circle cx="330.1" cy="1680.3" r="11.5"/><circle cx="329.6" cy="1681.4" r="11.5"/><circle cx="329.7" cy="1684.5" r="11.5"/><circle cx="329.8" cy="1687.7" r="11.5"/><circle cx="330.3" cy="1690.9" r="11.5"/><circle cx="329.9" cy="1696.3" r="11.5"/><circle cx="329.9" cy="1698.3" r="11.5"/><circle cx="330.2" cy="1701" r="11.5"/><circle cx="330" cy="1703.7" r="11.5"/><circle cx="330" cy="1704.8" r="11.5"/><circle cx="330.1" cy="1706.5" r="11.5"/><circle cx="330.1" cy="1709.5" r="11.5"/><circle cx="329.6" cy="1712.8" r="11.5"/><circle cx="329.9" cy="1717.8" r="11.5"/><circle cx="330.3" cy="1719.9" r="11.5"/><circle cx="329.9" cy="1722.7" r="11.5"/><circle cx="330.5" cy="1727.5" r="11.5"/><circle cx="330.3" cy="1729" r="11.5"/><circle cx="330.4" cy="1731.4" r="11.5"/><circle cx="330.4" cy="1734" r="11.5"/><circle cx="330" cy="1735.3" r="11.5"/><circle cx="330.3" cy="1737.5" r="11.5"/><circle cx="330.2" cy="1738.4" r="11.5"/><circle cx="330.5" cy="1740.6" r="11.5"/><circle cx="330.8" cy="1742.3" r="11.5"/><circle cx="330.5" cy="1743.1" r="11.5"/><circle cx="330.6" cy="1749.2" r="11.5"/><circle cx="330.2" cy="1750.8" r="11.5"/><circle cx="330.6" cy="1752.5" r="11.5"/><circle cx="330.6" cy="1754.3" r="11.5"/><circle cx="330.7" cy="1757" r="11.5"/><circle cx="331" cy="1763.6" r="11.5"/><circle cx="331.2" cy="1766.7" r="11.5"/><circle cx="330.9" cy="1769.5" r="11.5"/><circle cx="331.1" cy="1772.2" r="11.5"/><circle cx="330.7" cy="1773.8" r="11.5"/><circle cx="331.2" cy="1775.8" r="11.5"/><circle cx="331.1" cy="1778.4" r="11.5"/><circle cx="330.8" cy="1781.4" r="11.5"/><circle cx="331.3" cy="1784.4" r="11.5"/><circle cx="331.1" cy="1786.4" r="11.5"/><circle cx="331.5" cy="1788.9" r="11.5"/><circle cx="331.4" cy="1792.1" r="11.5"/><circle cx="331.4" cy="1792.9" r="11.5"/><circle cx="331.7" cy="1795.2" r="11.5"/><circle cx="331.4" cy="1798.4" r="11.5"/><circle cx="331.5" cy="1801.5" r="11.5"/><circle cx="331.6" cy="1804.7" r="11.5"/><circle cx="331.6" cy="1806.1" r="11.5"/><circle cx="331.5" cy="1809" r="11.5"/><circle cx="331.8" cy="1811.4" r="11.5"/><circle cx="331.8" cy="1812.9" r="11.5"/><circle cx="331.8" cy="1818.1" r="11.5"/><circle cx="331.6" cy="1821.2" r="11.5"/><circle cx="332.2" cy="1823.4" r="11.5"/><circle cx="332.2" cy="1824.2" r="11.5"/><circle cx="332.2" cy="1826.6" r="11.5"/><circle cx="332.3" cy="1829.6" r="11.5"/><circle cx="332.5" cy="1832" r="11.5"/><circle cx="332.3" cy="1834.6" r="11.5"/><circle cx="332.6" cy="1837.5" r="11.5"/><circle cx="332.3" cy="1839.9" r="11.5"/><circle cx="332.2" cy="1842.9" r="11.5"/><circle cx="332.4" cy="1844.1" r="11.5"/><circle cx="332.4" cy="1845.2" r="11.5"/><circle cx="332.7" cy="1851.3" r="11.5"/><circle cx="333" cy="1853.3" r="11.5"/><circle cx="332.7" cy="1854.9" r="11.5"/><circle cx="333" cy="1859.6" r="11.5"/><circle cx="333.3" cy="1865.5" r="11.5"/><circle cx="333.3" cy="1867.5" r="11.5"/><circle cx="333" cy="1868.6" r="11.5"/><circle cx="332.9" cy="1870.8" r="11.5"/><circle cx="333.5" cy="1872.8" r="11.5"/><circle cx="332.9" cy="1875.6" r="11.5"/><circle cx="332.8" cy="1876.6" r="11.5"/><circle cx="332.8" cy="1877.5" r="11.5"/><circle cx="333.5" cy="1880.2" r="11.5"/><circle cx="333" cy="1882.4" r="11.5"/><circle cx="333.3" cy="1883.4" r="11.5"/><circle cx="333.3" cy="1885.9" r="11.5"/><circle cx="333.6" cy="1887.1" r="11.5"/><circle cx="333.2" cy="1889.5" r="11.5"/><circle cx="333.5" cy="1891.4" r="11.5"/><circle cx="333.6" cy="1895.5" r="11.5"/><circle cx="333.9" cy="1898" r="11.5"/><circle cx="333.6" cy="1900.1" r="11.5"/><circle cx="333.9" cy="1905.1" r="11.5"/><circle cx="333.8" cy="1907.4" r="11.5"/><circle cx="334.2" cy="1911.9" r="11.5"/><circle cx="334.2" cy="1913.2" r="11.5"/><circle cx="334" cy="1915.7" r="11.5"/><circle cx="334.3" cy="1920.4" r="11.5"/><circle cx="333.9" cy="1922.8" r="11.5"/><circle cx="334.3" cy="1923.8" r="11.5"/><circle cx="334.1" cy="1926" r="11.5"/><circle cx="334.3" cy="1928.5" r="11.5"/><circle cx="334.7" cy="1934.2" r="11.5"/><circle cx="335" cy="1937" r="11.5"/><circle cx="334.8" cy="1943.2" r="11.5"/><circle cx="334.8" cy="1945.5" r="11.5"/><circle cx="334.8" cy="1947.8" r="11.5"/><circle cx="335.1" cy="1950.4" r="11.5"/><circle cx="335" cy="1952.8" r="11.5"/><circle cx="335.2" cy="1953.7" r="11.5"/><circle cx="335.4" cy="1955.8" r="11.5"/><circle cx="335.2" cy="1957.5" r="11.5"/><circle cx="335.1" cy="1960.1" r="11.5"/><circle cx="335.4" cy="1961.7" r="11.5"/><circle cx="335.1" cy="1962.9" r="11.5"/><circle cx="335" cy="1964.4" r="11.5"/><circle cx="335.6" cy="1965.3" r="11.5"/><circle cx="335.8" cy="1967.5" r="11.5"/><circle cx="335.7" cy="1969.1" r="11.5"/><circle cx="335.4" cy="1970.1" r="11.5"/><circle cx="334.9" cy="1972.3" r="11.5"/><circle cx="335.6" cy="1978.9" r="11.5"/><circle cx="335.9" cy="1980.4" r="11.5"/><circle cx="335.7" cy="1982.2" r="11.5"/><circle cx="336.1" cy="1983" r="11.5"/><circle cx="335.7" cy="1985.3" r="11.5"/><circle cx="336" cy="1986.4" r="11.5"/><circle cx="336" cy="1987.9" r="11.5"/><circle cx="336.1" cy="1989.7" r="11.5"/><circle cx="335.8" cy="1991.5" r="11.5"/><circle cx="336.1" cy="1992.5" r="11.5"/><circle cx="336.2" cy="1994.3" r="11.5"/><circle cx="336.2" cy="1996.5" r="11.5"/><circle cx="336" cy="1997.5" r="11.5"/><circle cx="336.2" cy="1999.2" r="11.5"/><circle cx="336.2" cy="2001" r="11.5"/><circle cx="336.5" cy="2002.5" r="11.5"/><circle cx="336.7" cy="2004.2" r="11.5"/><circle cx="336.7" cy="2010" r="11.5"/><circle cx="336.9" cy="2014.7" r="11.5"/><circle cx="336.8" cy="2015.7" r="11.5"/><circle cx="336.9" cy="2016.8" r="11.5"/><circle cx="336.6" cy="2019.1" r="11.5"/><circle cx="337" cy="2021.4" r="11.5"/><circle cx="337.2" cy="2022.3" r="11.5"/><circle cx="337" cy="2023.3" r="11.5"/><circle cx="337.3" cy="2024.8" r="11.5"/><circle cx="336.9" cy="2026.2" r="11.5"/><circle cx="337.3" cy="2027.8" r="11.5"/><circle cx="337.3" cy="2029" r="11.5"/><circle cx="337.4" cy="2030" r="11.5"/><circle cx="337.4" cy="2031.6" r="11.5"/><circle cx="337.9" cy="2032.3" r="11.5"/><circle cx="336.8" cy="2033.6" r="11.5"/><circle cx="337.2" cy="2034.8" r="11.5"/><circle cx="337.4" cy="2035.8" r="11.5"/><circle cx="337.6" cy="2036.4" r="11.5"/><circle cx="337.5" cy="2038.4" r="11.5"/><circle cx="337.5" cy="2039.9" r="11.5"/><circle cx="337.4" cy="2041.2" r="11.5"/><circle cx="337.5" cy="2042.6" r="11.5"/><circle cx="337.6" cy="2043.7" r="11.5"/><circle cx="338.2" cy="2044.8" r="11.5"/><circle cx="337.7" cy="2045.6" r="11.5"/><circle cx="338.5" cy="2047.7" r="11.5"/><circle cx="338.2" cy="2049.5" r="11.5"/><circle cx="338" cy="2050.5" r="11.5"/><circle cx="338.3" cy="2052.1" r="11.5"/><circle cx="338.4" cy="2053.6" r="11.5"/><circle cx="338" cy="2055.4" r="11.5"/><circle cx="338" cy="2056.2" r="11.5"/><circle cx="338.7" cy="2058.1" r="11.5"/><circle cx="338.2" cy="2059.5" r="11.5"/><circle cx="338.6" cy="2060.4" r="11.5"/><circle cx="338.6" cy="2062" r="11.5"/><circle cx="338.4" cy="2067.5" r="11.5"/><circle cx="338.9" cy="2068.4" r="11.5"/><circle cx="339.1" cy="2074.4" r="11.5"/><circle cx="339.3" cy="2075.3" r="11.5"/><circle cx="339.1" cy="2076.3" r="11.5"/><circle cx="339.5" cy="2082.6" r="11.5"/><circle cx="339.5" cy="2084.3" r="11.5"/><circle cx="339.4" cy="2084.9" r="11.5"/><circle cx="339.9" cy="2085.7" r="11.5"/><circle cx="339.8" cy="2086.3" r="11.5"/><circle cx="339.9" cy="2087.5" r="11.5"/><circle cx="339.8" cy="2089.2" r="11.5"/><circle cx="340" cy="2089.7" r="11.5"/><circle cx="339.6" cy="2091.7" r="11.5"/><circle cx="339.8" cy="2093.5" r="11.5"/><circle cx="340.2" cy="2095.1" r="11.5"/><circle cx="340.3" cy="2100.6" r="11.5"/><circle cx="340.3" cy="2101.7" r="11.5"/><circle cx="340.5" cy="2103.5" r="11.5"/><circle cx="340.2" cy="2104.2" r="11.5"/><circle cx="340.6" cy="2105.6" r="11.5"/><circle cx="340.8" cy="2107.2" r="11.5"/><circle cx="340.7" cy="2108.2" r="11.5"/><circle cx="340.6" cy="2109.4" r="11.5"/><circle cx="341.3" cy="2111.1" r="11.5"/><circle cx="341.1" cy="2112" r="11.5"/><circle cx="340.8" cy="2112.6" r="11.5"/><circle cx="341" cy="2114.1" r="11.5"/><circle cx="340.8" cy="2114.9" r="11.5"/><circle cx="341.1" cy="2119.9" r="11.5"/><circle cx="341.4" cy="2125.8" r="11.5"/><circle cx="342" cy="2131.1" r="11.5"/><circle cx="342.3" cy="2132.3" r="11.5"/><circle cx="342.4" cy="2132.9" r="11.5"/><circle cx="342.3" cy="2133.4" r="11.5"/><circle cx="342.6" cy="2134.3" r="11.5"/><circle cx="342.5" cy="2135.6" r="11.5"/><circle cx="342.3" cy="2137.3" r="11.5"/><circle cx="342.4" cy="2138.4" r="11.5"/><circle cx="342.8" cy="2140" r="11.5"/><circle cx="342.9" cy="2141.4" r="11.5"/><circle cx="343.1" cy="2142.4" r="11.5"/><circle cx="342.7" cy="2143.8" r="11.5"/><circle cx="342.7" cy="2145.2" r="11.5"/><circle cx="343.7" cy="2149.2" r="11.5"/><circle cx="343.4" cy="2150.9" r="11.5"/><circle cx="343.7" cy="2151.8" r="11.5"/><circle cx="343.6" cy="2153.5" r="11.5"/><circle cx="343.4" cy="2154.7" r="11.5"/><circle cx="344" cy="2155.7" r="11.5"/><circle cx="343.9" cy="2156.6" r="11.5"/><circle cx="344.1" cy="2157.2" r="11.5"/><circle cx="344" cy="2158.5" r="11.5"/><circle cx="343.8" cy="2160" r="11.5"/><circle cx="344.1" cy="2160.8" r="11.5"/><circle cx="344.3" cy="2161.2" r="11.5"/><circle cx="344" cy="2162.3" r="11.5"/><circle cx="344.3" cy="2163.9" r="11.5"/><circle cx="344.6" cy="2165" r="11.5"/><circle cx="344.5" cy="2169.9" r="11.5"/><circle cx="344.7" cy="2170.7" r="11.5"/><circle cx="344.9" cy="2172.1" r="11.5"/><circle cx="345.1" cy="2172.7" r="11.5"/><circle cx="345" cy="2174.2" r="11.5"/><circle cx="344.9" cy="2174.7" r="11.5"/><circle cx="345.2" cy="2175.8" r="11.5"/><circle cx="345.1" cy="2176.4" r="11.5"/><circle cx="345.4" cy="2177.9" r="11.5"/><circle cx="345.5" cy="2179.2" r="11.5"/><circle cx="345.4" cy="2180.3" r="11.5"/><circle cx="345.7" cy="2181.4" r="11.5"/><circle cx="345.9" cy="2182.8" r="11.5"/><circle cx="345.5" cy="2183.8" r="11.5"/><circle cx="345.9" cy="2185.2" r="11.5"/><circle cx="345.8" cy="2185.6" r="11.5"/><circle cx="345.9" cy="2186.7" r="11.5"/><circle cx="346" cy="2187.1" r="11.5"/><circle cx="346.3" cy="2188.3" r="11.5"/><circle cx="346.5" cy="2194.3" r="11.5"/><circle cx="346.5" cy="2195" r="11.5"/><circle cx="346.5" cy="2196.5" r="11.5"/><circle cx="346.8" cy="2197.5" r="11.5"/><circle cx="346.9" cy="2198.4" r="11.5"/><circle cx="346.7" cy="2198.9" r="11.5"/><circle cx="346.9" cy="2200" r="11.5"/><circle cx="347.2" cy="2201.5" r="11.5"/><circle cx="347.5" cy="2202.6" r="11.5"/><circle cx="347.2" cy="2203.6" r="11.5"/><circle cx="347.7" cy="2204.2" r="11.5"/><circle cx="347.6" cy="2205.1" r="11.5"/><circle cx="347.7" cy="2206" r="11.5"/><circle cx="348.1" cy="2211.6" r="11.5"/><circle cx="348.3" cy="2215.9" r="11.5"/><circle cx="348.2" cy="2216.5" r="11.5"/><circle cx="348.4" cy="2217.4" r="11.5"/><circle cx="348.5" cy="2218.5" r="11.5"/><circle cx="348.7" cy="2220" r="11.5"/><circle cx="349" cy="2221" r="11.5"/><circle cx="349.2" cy="2222.1" r="11.5"/><circle cx="349.4" cy="2227.7" r="11.5"/><circle cx="349.9" cy="2232.5" r="11.5"/><circle cx="349.6" cy="2233.8" r="11.5"/><circle cx="349.5" cy="2235.4" r="11.5"/><circle cx="350" cy="2236.2" r="11.5"/><circle cx="350.1" cy="2237.1" r="11.5"/><circle cx="350.4" cy="2237.6" r="11.5"/><circle cx="350.7" cy="2238.2" r="11.5"/><circle cx="350.3" cy="2238.8" r="11.5"/><circle cx="350.5" cy="2239.3" r="11.5"/><circle cx="350.6" cy="2240.1" r="11.5"/><circle cx="350.5" cy="2240.9" r="11.5"/><circle cx="350.6" cy="2241.6" r="11.5"/><circle cx="350.7" cy="2242.9" r="11.5"/><circle cx="351.1" cy="2244.4" r="11.5"/><circle cx="350.6" cy="2245" r="11.5"/><circle cx="350.4" cy="2245.9" r="11.5"/><circle cx="351" cy="2246.8" r="11.5"/><circle cx="351.3" cy="2248.1" r="11.5"/><circle cx="351.5" cy="2249.5" r="11.5"/><circle cx="351.2" cy="2249.9" r="11.5"/><circle cx="351.5" cy="2250.5" r="11.5"/><circle cx="351.3" cy="2250.9" r="11.5"/><circle cx="351.7" cy="2252.1" r="11.5"/><circle cx="351.6" cy="2253.6" r="11.5"/><circle cx="351.7" cy="2255.2" r="11.5"/><circle cx="352.1" cy="2255.7" r="11.5"/><circle cx="352.2" cy="2259.9" r="11.5"/><circle cx="352.2" cy="2260.6" r="11.5"/><circle cx="352.7" cy="2261.1" r="11.5"/><circle cx="352.7" cy="2262" r="11.5"/><circle cx="353" cy="2268.1" r="11.5"/><circle cx="353.8" cy="2268.8" r="11.5"/><circle cx="353.4" cy="2269.3" r="11.5"/><circle cx="353.7" cy="2270.4" r="11.5"/><circle cx="353.9" cy="2271" r="11.5"/><circle cx="354.5" cy="2272.6" r="11.5"/><circle cx="354.2" cy="2273.5" r="11.5"/><circle cx="354.5" cy="2274" r="11.5"/><circle cx="354.4" cy="2274.6" r="11.5"/><circle cx="354.6" cy="2275.3" r="11.5"/><circle cx="354.4" cy="2276.5" r="11.5"/><circle cx="354.8" cy="2277.3" r="11.5"/><circle cx="354.9" cy="2278.3" r="11.5"/><circle cx="355" cy="2279.6" r="11.5"/><circle cx="355.4" cy="2280.3" r="11.5"/><circle cx="356.3" cy="2284.2" r="11.5"/><circle cx="356.4" cy="2285.1" r="11.5"/><circle cx="356.4" cy="2285.6" r="11.5"/><circle cx="356.8" cy="2286.4" r="11.5"/><circle cx="357.9" cy="2292.7" r="11.5"/><circle cx="358.3" cy="2293.3" r="11.5"/><circle cx="358.7" cy="2294.4" r="11.5"/><circle cx="360" cy="2299.8" r="11.5"/><circle cx="360.2" cy="2300.3" r="11.5"/><circle cx="360.6" cy="2301.8" r="11.5"/><circle cx="360.8" cy="2302.7" r="11.5"/><circle cx="362.9" cy="2309.2" r="11.5"/><circle cx="363.5" cy="2310.5" r="11.5"/><circle cx="363.3" cy="2311.5" r="11.5"/><circle cx="364.2" cy="2312.5" r="11.5"/><circle cx="364.4" cy="2313.6" r="11.5"/><circle cx="365.9" cy="2318.3" r="11.5"/><circle cx="366.2" cy="2319.8" r="11.5"/><circle cx="366.5" cy="2320.4" r="11.5"/><circle cx="366.8" cy="2321.5" r="11.5"/><circle cx="369.3" cy="2327.8" r="11.5"/><circle cx="369.7" cy="2329" r="11.5"/><circle cx="370.1" cy="2329.8" r="11.5"/><circle cx="370.1" cy="2330.4" r="11.5"/><circle cx="369.9" cy="2331.3" r="11.5"/><circle cx="370.6" cy="2332.4" r="11.5"/><circle cx="370.9" cy="2333.2" r="11.5"/><circle cx="371.2" cy="2333.6" r="11.5"/><circle cx="371" cy="2334" r="11.5"/><circle cx="371.8" cy="2335.5" r="11.5"/><circle cx="372.1" cy="2336.3" r="11.5"/><circle cx="372.5" cy="2337.9" r="11.5"/><circle cx="372.8" cy="2338.6" r="11.5"/><circle cx="373.8" cy="2339.9" r="11.5"/><circle cx="373.7" cy="2340.8" r="11.5"/><circle cx="374.3" cy="2341.5" r="11.5"/><circle cx="374.3" cy="2342.5" r="11.5"/><circle cx="374.6" cy="2343.8" r="11.5"/><circle cx="375" cy="2344.3" r="11.5"/><circle cx="375.2" cy="2345.4" r="11.5"/><circle cx="377.1" cy="2350.1" r="11.5"/><circle cx="376.8" cy="2350.6" r="11.5"/><circle cx="377.6" cy="2351.4" r="11.5"/><circle cx="377.8" cy="2352.3" r="11.5"/><circle cx="378.3" cy="2352.8" r="11.5"/><circle cx="378.4" cy="2353.5" r="11.5"/><circle cx="378.6" cy="2354.2" r="11.5"/><circle cx="378.7" cy="2354.7" r="11.5"/><circle cx="381.5" cy="2361" r="11.5"/><circle cx="382" cy="2362.2" r="11.5"/><circle cx="382.5" cy="2363.5" r="11.5"/><circle cx="385.2" cy="2367.8" r="11.5"/><circle cx="385.5" cy="2369.1" r="11.5"/><circle cx="388.7" cy="2374.4" r="11.5"/><circle cx="391.2" cy="2377.9" r="11.5"/><circle cx="391.6" cy="2378.7" r="11.5"/><circle cx="392.4" cy="2379.8" r="11.5"/><circle cx="393.4" cy="2381" r="11.5"/><circle cx="396.2" cy="2384.2" r="11.5"/><circle cx="396.7" cy="2384.8" r="11.5"/><circle cx="397" cy="2385.1" r="11.5"/><circle cx="397.5" cy="2385.7" r="11.5"/><circle cx="397.6" cy="2386" r="11.5"/><circle cx="398.6" cy="2387" r="11.5"/><circle cx="399.6" cy="2388" r="11.5"/><circle cx="400.9" cy="2389" r="11.5"/><circle cx="402.3" cy="2390.1" r="11.5"/><circle cx="402.8" cy="2390.9" r="11.5"/><circle cx="404.1" cy="2392" r="11.5"/><circle cx="408.8" cy="2396" r="11.5"/><circle cx="410" cy="2396.7" r="11.5"/><circle cx="410.8" cy="2397.2" r="11.5"/><circle cx="411.2" cy="2397.7" r="11.5"/><circle cx="412.3" cy="2398.4" r="11.5"/><circle cx="416.8" cy="2401.7" r="11.5"/><circle cx="418" cy="2402.2" r="11.5"/><circle cx="418.8" cy="2402.7" r="11.5"/><circle cx="419.1" cy="2403" r="11.5"/><circle cx="420" cy="2403.6" r="11.5"/><circle cx="421.4" cy="2404.2" r="11.5"/><circle cx="422.3" cy="2404.8" r="11.5"/><circle cx="423.4" cy="2405.2" r="11.5"/><circle cx="423.8" cy="2405.7" r="11.5"/><circle cx="424.6" cy="2406.1" r="11.5"/><circle cx="425.2" cy="2406.4" r="11.5"/><circle cx="426.4" cy="2407" r="11.5"/><circle cx="426.6" cy="2407.3" r="11.5"/><circle cx="429.2" cy="2408.3" r="11.5"/><circle cx="431.7" cy="2409.7" r="11.5"/><circle cx="433" cy="2410.3" r="11.5"/><circle cx="435.2" cy="2411.4" r="11.5"/><circle cx="436.6" cy="2412" r="11.5"/><circle cx="438.8" cy="2412.9" r="11.5"/><circle cx="442.2" cy="2414.5" r="11.5"/><circle cx="445.1" cy="2415.6" r="11.5"/><circle cx="446.7" cy="2416.2" r="11.5"/><circle cx="450.7" cy="2417.8" r="11.5"/><circle cx="453.7" cy="2418.9" r="11.5"/><circle cx="455.1" cy="2419.4" r="11.5"/><circle cx="457.5" cy="2420.2" r="11.5"/><circle cx="459" cy="2420.7" r="11.5"/><circle cx="463.4" cy="2422.1" r="11.5"/><circle cx="466.3" cy="2422.9" r="11.5"/><circle cx="469.5" cy="2423.8" r="11.5"/><circle cx="473.8" cy="2425.1" r="11.5"/><circle cx="476.6" cy="2426" r="11.5"/><circle cx="478.5" cy="2426.4" r="11.5"/><circle cx="480.5" cy="2426.8" r="11.5"/><circle cx="482.8" cy="2427.3" r="11.5"/><circle cx="486.9" cy="2428.3" r="11.5"/><circle cx="490.6" cy="2429.2" r="11.5"/><circle cx="493.5" cy="2429.9" r="11.5"/><circle cx="496.3" cy="2430.6" r="11.5"/><circle cx="498.6" cy="2431" r="11.5"/><circle cx="500.1" cy="2431.5" r="11.5"/><circle cx="504.2" cy="2432.5" r="11.5"/><circle cx="509.7" cy="2433.7" r="11.5"/><circle cx="513.6" cy="2434.5" r="11.5"/><circle cx="517.9" cy="2435.6" r="11.5"/>
</g>
<g fill="#fff" stroke="#000" stroke-width="2.2" shape-rendering="crispEdges">
<circle cx="527" cy="2438.5" r="11.4"/><circle cx="547" cy="2440.3" r="11.4"/><circle cx="559.7" cy="2444" r="11.4"/><circle cx="582.8" cy="2447.1" r="11.4"/><circle cx="584.7" cy="2445.9" r="11.4"/><circle cx="585.8" cy="2447.2" r="11.4"/><circle cx="587.3" cy="2446.2" r="11.4"/><circle cx="588.5" cy="2447.3" r="11.4"/><circle cx="590.1" cy="2446.4" r="11.4"/><circle cx="592.1" cy="2447.2" r="11.4"/><circle cx="592.4" cy="2447" r="11.4"/><circle cx="593.4" cy="2446.9" r="11.4"/><circle cx="595.6" cy="2448.8" r="11.4"/><circle cx="597.1" cy="2447.7" r="11.4"/><circle cx="601.3" cy="2448.2" r="11.4"/><circle cx="606.7" cy="2449.4" r="11.4"/><circle cx="613.1" cy="2449.9" r="11.4"/><circle cx="619.2" cy="2448.3" r="11.4"/><circle cx="624.6" cy="2449" r="11.4"/><circle cx="630.5" cy="2450" r="11.4"/><circle cx="636.5" cy="2449.4" r="11.4"/><circle cx="643.1" cy="2451.4" r="11.4"/><circle cx="648.5" cy="2449.9" r="11.4"/><circle cx="654.2" cy="2450.4" r="11.4"/><circle cx="660" cy="2450.6" r="11.4"/><circle cx="666.4" cy="2451.9" r="11.4"/><circle cx="672.4" cy="2451.3" r="11.4"/><circle cx="678.3" cy="2453.9" r="11.4"/><circle cx="684.2" cy="2452.4" r="11.4"/><circle cx="691.1" cy="2453.3" r="11.4"/><circle cx="699" cy="2453" r="11.4"/><circle cx="713.5" cy="2454.8" r="11.4"/><circle cx="738.8" cy="2454.8" r="11.4"/><circle cx="760.5" cy="2456.6" r="11.4"/><circle cx="769.6" cy="2456.6" r="11.4"/>
</g>
<g fill="#fff" stroke="#000" stroke-width="2.2" shape-rendering="crispEdges">
<circle cx="818.2" cy="2459.8" r="11.4"/><circle cx="856.4" cy="2460.9" r="11.4"/><circle cx="873.8" cy="2462.1" r="11.4"/><circle cx="924.1" cy="2462.7" r="11.4"/><circle cx="934" cy="2463.2" r="11.4"/><circle cx="944.4" cy="2463.2" r="11.4"/><circle cx="1077" cy="2466.6" r="11.4"/><circle cx="1083.8" cy="2465.7" r="11.4"/><circle cx="1181.3" cy="2467.4" r="11.4"/><circle cx="1408.8" cy="2471.7" r="11.4"/><circle cx="1922.9" cy="2473.4" r="11.4"/>
</g>
<g shape-rendering="crispEdges" fill="#000">
<rect x="892.2" y="1520.5" width="1181" height="734.2" fill="#fff"/>
<rect x="890.2" y="1518.5" width="1185" height="4"/>
<rect x="890.2" y="2252.7" width="1185" height="4"/>
<rect x="890.2" y="1520.5" width="4" height="734.2"/>
<rect x="2071.2" y="1520.5" width="4" height="734.2"/>
</g>
<g shape-rendering="crispEdges" fill="#000">
<rect x="884.2" y="2249.4" width="8" height="4"/>
<rect x="884.2" y="2225.1" width="8" height="4"/>
<rect x="884.2" y="2201.6" width="8" height="4"/>
<rect x="876.2" y="2178.6" width="16" height="4"/>
<rect x="884.2" y="2156.3" width="8" height="4"/>
<rect x="884.2" y="2134.6" width="8" height="4"/>
<rect x="884.2" y="2113.5" width="8" height="4"/>
<rect x="884.2" y="2092.9" width="8" height="4"/>
<rect x="884.2" y="2072.8" width="8" height="4"/>
<rect x="884.2" y="2053.1" width="8" height="4"/>
<rect x="884.2" y="2034" width="8" height="4"/>
<rect x="884.2" y="2015.3" width="8" height="4"/>
<rect x="876.2" y="1997" width="16" height="4"/>
<rect x="884.2" y="1979.1" width="8" height="4"/>
<rect x="884.2" y="1961.6" width="8" height="4"/>
<rect x="884.2" y="1944.4" width="8" height="4"/>
<rect x="884.2" y="1927.7" width="8" height="4"/>
<rect x="884.2" y="1911.2" width="8" height="4"/>
<rect x="884.2" y="1895.1" width="8" height="4"/>
<rect x="884.2" y="1879.3" width="8" height="4"/>
<rect x="884.2" y="1863.8" width="8" height="4"/>
<rect x="876.2" y="1848.6" width="16" height="4"/>
<rect x="884.2" y="1833.6" width="8" height="4"/>
<rect x="884.2" y="1819" width="8" height="4"/>
<rect x="884.2" y="1804.6" width="8" height="4"/>
<rect x="884.2" y="1790.4" width="8" height="4"/>
<rect x="884.2" y="1776.5" width="8" height="4"/>
<rect x="884.2" y="1762.8" width="8" height="4"/>
<rect x="884.2" y="1749.4" width="8" height="4"/>
<rect x="884.2" y="1736.1" width="8" height="4"/>
<rect x="876.2" y="1723.1" width="16" height="4"/>
<rect x="884.2" y="1710.3" width="8" height="4"/>
<rect x="884.2" y="1697.7" width="8" height="4"/>
<rect x="884.2" y="1685.2" width="8" height="4"/>
<rect x="884.2" y="1673" width="8" height="4"/>
<rect x="884.2" y="1660.9" width="8" height="4"/>
<rect x="884.2" y="1649" width="8" height="4"/>
<rect x="884.2" y="1637.3" width="8" height="4"/>
<rect x="884.2" y="1625.8" width="8" height="4"/>
<rect x="876.2" y="1614.4" width="16" height="4"/>
<rect x="884.2" y="1603.2" width="8" height="4"/>
<rect x="884.2" y="1592.1" width="8" height="4"/>
<rect x="884.2" y="1581.2" width="8" height="4"/>
<rect x="884.2" y="1570.4" width="8" height="4"/>
<rect x="884.2" y="1559.7" width="8" height="4"/>
<rect x="884.2" y="1549.2" width="8" height="4"/>
<rect x="884.2" y="1538.9" width="8" height="4"/>
<rect x="884.2" y="1528.6" width="8" height="4"/>
<rect x="915.6" y="2254.7" width="4" height="16"/>
<rect x="1157.7" y="2254.7" width="4" height="16"/>
<rect x="1399.8" y="2254.7" width="4" height="16"/>
<rect x="1641.9" y="2254.7" width="4" height="16"/>
<rect x="1884" y="2254.7" width="4" height="16"/>
<rect x="1036.7" y="2254.7" width="4" height="8"/>
<rect x="1278.8" y="2254.7" width="4" height="8"/>
<rect x="1520.8" y="2254.7" width="4" height="8"/>
<rect x="1762.9" y="2254.7" width="4" height="8"/>
<rect x="2005.1" y="2254.7" width="4" height="8"/>
</g>
<text transform="translate(831.6,2189.9) scale(0.970,1)" font-size="33" fill="#000" stroke="#000" stroke-width="0.3">20</text>
<text transform="translate(831.6,2008.3) scale(0.970,1)" font-size="33" fill="#000" stroke="#000" stroke-width="0.3">25</text>
<text transform="translate(831.6,1859.9) scale(0.970,1)" font-size="33" fill="#000" stroke="#000" stroke-width="0.3">30</text>
<text transform="translate(831.6,1734.4) scale(0.970,1)" font-size="33" fill="#000" stroke="#000" stroke-width="0.3">35</text>
<text transform="translate(831.6,1625.7) scale(0.970,1)" font-size="33" fill="#000" stroke="#000" stroke-width="0.3">40</text>
<text transform="translate(894.4,2306) scale(0.970,1)" font-size="33" fill="#000" stroke="#000" stroke-width="0.3">0.0</text>
<text transform="translate(1136.5,2306) scale(0.970,1)" font-size="33" fill="#000" stroke="#000" stroke-width="0.3">0.1</text>
<text transform="translate(1378.6,2306) scale(0.970,1)" font-size="33" fill="#000" stroke="#000" stroke-width="0.3">0.2</text>
<text transform="translate(1620.7,2306) scale(0.970,1)" font-size="33" fill="#000" stroke="#000" stroke-width="0.3">0.3</text>
<text transform="translate(1862.8,2306) scale(0.970,1)" font-size="33" fill="#000" stroke="#000" stroke-width="0.3">0.4</text>
<text transform="translate(811.1,2036.5) rotate(-90) translate(0,0) scale(0.800,1)" font-family="'DejaVu Serif','Liberation Serif',serif" font-weight="normal" font-size="50.3" fill="#000" stroke="#000" stroke-width="0.5" stroke-linejoin="round" xml:space="preserve">Δ</text>
<text transform="translate(811.1,2036.5) rotate(-90) translate(29,0) scale(0.700,1)" font-family="'DejaVu Serif','Liberation Serif',serif" font-weight="normal" font-size="48.2" fill="#000" stroke="#000" stroke-width="0.5" stroke-linejoin="round" xml:space="preserve">γ</text>
<text transform="translate(811.1,2036.5) rotate(-90) translate(49.2,0)" font-family="'Liberation Sans',sans-serif" font-weight="normal" font-size="51.3" fill="#000" stroke="#000" stroke-width="0.5" stroke-linejoin="round" xml:space="preserve">(t) / mNm</text>
<text transform="translate(811.1,2036.5) rotate(-90) translate(262.9,-21)" font-family="'Liberation Sans',sans-serif" font-weight="normal" font-size="34" fill="#000" stroke="#000" stroke-width="0.3" stroke-linejoin="round" xml:space="preserve">-1</text>
<text transform="translate(1482.4,2377.8) translate(-40.7,0)" font-family="'Liberation Sans',sans-serif" font-weight="normal" font-size="50.5" fill="#000" stroke="#000" stroke-width="0.5" stroke-linejoin="round" xml:space="preserve">t / s</text>
<clipPath id="cbi"><rect x="894.2" y="1522.5" width="1177" height="730.2"/></clipPath>
<clipPath id="cbo"><rect x="892.2" y="1520.2" width="1181" height="736.5"/></clipPath>
<g clip-path="url(#cbi)">
<g fill="#fff" stroke="#000" stroke-width="1.3" shape-rendering="crispEdges">
<circle cx="957" cy="1565" r="8.5"/><circle cx="975" cy="1588.5" r="8.5"/><circle cx="1000.5" cy="1597.6" r="8.5"/><circle cx="966" cy="1583" r="8.5"/><circle cx="985" cy="1590" r="8.5"/><circle cx="983" cy="1560.4" r="8.5"/><circle cx="984.6" cy="1563.2" r="8.5"/><circle cx="986.1" cy="1565.8" r="8.5"/><circle cx="988" cy="1565.7" r="8.5"/><circle cx="989.6" cy="1568.1" r="8.5"/><circle cx="991.7" cy="1567.1" r="8.5"/><circle cx="993.4" cy="1569" r="8.5"/><circle cx="994.8" cy="1571.4" r="8.5"/><circle cx="996.5" cy="1571.5" r="8.5"/><circle cx="998.3" cy="1572.3" r="8.5"/><circle cx="1000.1" cy="1570.8" r="8.5"/><circle cx="1001.6" cy="1572.9" r="8.5"/><circle cx="1003.7" cy="1575.1" r="8.5"/><circle cx="1005.6" cy="1575.2" r="8.5"/><circle cx="1007.1" cy="1577" r="8.5"/><circle cx="1008.9" cy="1578.2" r="8.5"/><circle cx="1010.4" cy="1579.9" r="8.5"/><circle cx="1011.8" cy="1581" r="8.5"/><circle cx="1013.5" cy="1583.6" r="8.5"/><circle cx="1015.4" cy="1585.7" r="8.5"/><circle cx="1017.3" cy="1587" r="8.5"/><circle cx="1018.8" cy="1586.2" r="8.5"/><circle cx="1020.9" cy="1590.6" r="8.5"/><circle cx="1023" cy="1589.5" r="8.5"/><circle cx="1024.7" cy="1591.2" r="8.5"/><circle cx="1026.3" cy="1593.8" r="8.5"/><circle cx="1028.4" cy="1596.6" r="8.5"/><circle cx="1030.4" cy="1596.3" r="8.5"/><circle cx="1032.2" cy="1597.4" r="8.5"/><circle cx="1034.1" cy="1599.5" r="8.5"/><circle cx="1035.8" cy="1599.3" r="8.5"/><circle cx="1037.2" cy="1599.5" r="8.5"/><circle cx="1038.7" cy="1600.1" r="8.5"/><circle cx="1040.9" cy="1600.9" r="8.5"/><circle cx="1042.4" cy="1600.6" r="8.5"/><circle cx="1044.1" cy="1602.6" r="8.5"/><circle cx="1045.5" cy="1603.1" r="8.5"/><circle cx="1047.3" cy="1604.2" r="8.5"/><circle cx="1048.7" cy="1604.9" r="8.5"/><circle cx="1050.8" cy="1607.7" r="8.5"/><circle cx="1052.6" cy="1610.9" r="8.5"/><circle cx="1054.2" cy="1613.3" r="8.5"/><circle cx="1056.3" cy="1617.1" r="8.5"/><circle cx="1058.3" cy="1618.5" r="8.5"/><circle cx="1059.8" cy="1617.6" r="8.5"/><circle cx="1061.2" cy="1621.5" r="8.5"/><circle cx="1062.8" cy="1622.4" r="8.5"/><circle cx="1064.4" cy="1620.8" r="8.5"/><circle cx="1065.9" cy="1621.2" r="8.5"/><circle cx="1068" cy="1623.8" r="8.5"/><circle cx="1070" cy="1626.2" r="8.5"/><circle cx="1071.9" cy="1626" r="8.5"/><circle cx="1073.9" cy="1624.7" r="8.5"/><circle cx="1075.3" cy="1625.8" r="8.5"/><circle cx="1077" cy="1629.6" r="8.5"/><circle cx="1078.5" cy="1631.7" r="8.5"/><circle cx="1080.3" cy="1629.9" r="8.5"/><circle cx="1082.5" cy="1630.9" r="8.5"/><circle cx="1084.7" cy="1632.2" r="8.5"/><circle cx="1086.9" cy="1633.4" r="8.5"/><circle cx="1089" cy="1632.9" r="8.5"/><circle cx="1091.1" cy="1633.7" r="8.5"/><circle cx="1092.6" cy="1635.8" r="8.5"/><circle cx="1094.1" cy="1638.1" r="8.5"/><circle cx="1095.5" cy="1642.4" r="8.5"/><circle cx="1097.7" cy="1643.2" r="8.5"/><circle cx="1099.2" cy="1645.4" r="8.5"/><circle cx="1101.2" cy="1645.2" r="8.5"/><circle cx="1103.2" cy="1649.3" r="8.5"/><circle cx="1104.7" cy="1650.9" r="8.5"/><circle cx="1106.5" cy="1652.9" r="8.5"/><circle cx="1108.7" cy="1656.8" r="8.5"/><circle cx="1110.8" cy="1653.6" r="8.5"/><circle cx="1112.8" cy="1658.5" r="8.5"/><circle cx="1114.2" cy="1658.3" r="8.5"/><circle cx="1115.9" cy="1659.6" r="8.5"/><circle cx="1118.1" cy="1664.3" r="8.5"/><circle cx="1119.6" cy="1665" r="8.5"/><circle cx="1120.9" cy="1666.7" r="8.5"/><circle cx="1122.5" cy="1666.4" r="8.5"/><circle cx="1124" cy="1668.2" r="8.5"/><circle cx="1125.5" cy="1671.6" r="8.5"/><circle cx="1127.3" cy="1671.2" r="8.5"/><circle cx="1129.1" cy="1670.1" r="8.5"/><circle cx="1131.3" cy="1670.4" r="8.5"/><circle cx="1133.3" cy="1672" r="8.5"/><circle cx="1135.4" cy="1673.3" r="8.5"/><circle cx="1137.5" cy="1676.9" r="8.5"/><circle cx="1139" cy="1678.9" r="8.5"/><circle cx="1141" cy="1679.6" r="8.5"/><circle cx="1142.8" cy="1679.5" r="8.5"/><circle cx="1145" cy="1683.5" r="8.5"/><circle cx="1146.7" cy="1685.5" r="8.5"/><circle cx="1148.5" cy="1687.3" r="8.5"/><circle cx="1149.9" cy="1689.2" r="8.5"/><circle cx="1151.8" cy="1691" r="8.5"/><circle cx="1153.3" cy="1693.8" r="8.5"/><circle cx="1154.9" cy="1695.6" r="8.5"/><circle cx="1156.8" cy="1697" r="8.5"/><circle cx="1158.4" cy="1698.4" r="8.5"/><circle cx="1160.4" cy="1698.6" r="8.5"/><circle cx="1162" cy="1698.4" r="8.5"/><circle cx="1163.8" cy="1698.7" r="8.5"/><circle cx="1165.8" cy="1699.7" r="8.5"/><circle cx="1167.5" cy="1700.2" r="8.5"/><circle cx="1169.2" cy="1701.2" r="8.5"/><circle cx="1171.3" cy="1705.1" r="8.5"/><circle cx="1173.3" cy="1707.4" r="8.5"/><circle cx="1175.6" cy="1707.9" r="8.5"/><circle cx="1177" cy="1707.9" r="8.5"/><circle cx="1179" cy="1710" r="8.5"/><circle cx="1180.6" cy="1710.5" r="8.5"/><circle cx="1182.6" cy="1711.8" r="8.5"/><circle cx="1184.8" cy="1713.7" r="8.5"/><circle cx="1186.3" cy="1713.4" r="8.5"/><circle cx="1187.9" cy="1714.9" r="8.5"/><circle cx="1189.6" cy="1714.2" r="8.5"/><circle cx="1191.8" cy="1719.2" r="8.5"/><circle cx="1194.1" cy="1721" r="8.5"/><circle cx="1196.1" cy="1722.8" r="8.5"/><circle cx="1197.8" cy="1724.2" r="8.5"/><circle cx="1199.3" cy="1723" r="8.5"/><circle cx="1201.2" cy="1726.2" r="8.5"/><circle cx="1203.1" cy="1728.2" r="8.5"/><circle cx="1205.2" cy="1729.8" r="8.5"/><circle cx="1207" cy="1734" r="8.5"/><circle cx="1208.9" cy="1737.1" r="8.5"/><circle cx="1210.4" cy="1738.5" r="8.5"/><circle cx="1212.3" cy="1738" r="8.5"/><circle cx="1213.7" cy="1741.4" r="8.5"/><circle cx="1215.9" cy="1742.9" r="8.5"/><circle cx="1217.8" cy="1743.1" r="8.5"/><circle cx="1219.7" cy="1745.7" r="8.5"/><circle cx="1221.8" cy="1745.5" r="8.5"/><circle cx="1223.6" cy="1743.9" r="8.5"/><circle cx="1225.6" cy="1744" r="8.5"/><circle cx="1227.2" cy="1747" r="8.5"/><circle cx="1229.2" cy="1750.2" r="8.5"/><circle cx="1231.4" cy="1754.4" r="8.5"/><circle cx="1232.8" cy="1761.2" r="8.5"/><circle cx="1234.2" cy="1761.6" r="8.5"/><circle cx="1236.2" cy="1764" r="8.5"/><circle cx="1238" cy="1764.1" r="8.5"/><circle cx="1239.4" cy="1764.5" r="8.5"/><circle cx="1241.1" cy="1764" r="8.5"/><circle cx="1243" cy="1763.6" r="8.5"/><circle cx="1244.7" cy="1765.8" r="8.5"/><circle cx="1246.2" cy="1768.5" r="8.5"/><circle cx="1248.1" cy="1769.6" r="8.5"/><circle cx="1249.9" cy="1769.3" r="8.5"/><circle cx="1251.3" cy="1770.7" r="8.5"/><circle cx="1252.8" cy="1771.9" r="8.5"/><circle cx="1254.9" cy="1773.6" r="8.5"/><circle cx="1257" cy="1774.6" r="8.5"/><circle cx="1258.8" cy="1779.4" r="8.5"/><circle cx="1261" cy="1782" r="8.5"/><circle cx="1262.6" cy="1783.6" r="8.5"/><circle cx="1264.6" cy="1785.5" r="8.5"/><circle cx="1266.5" cy="1786.3" r="8.5"/><circle cx="1268.4" cy="1786.1" r="8.5"/><circle cx="1270.1" cy="1787.6" r="8.5"/><circle cx="1271.4" cy="1786.4" r="8.5"/><circle cx="1273.2" cy="1786.8" r="8.5"/><circle cx="1275.1" cy="1791" r="8.5"/><circle cx="1276.9" cy="1791.4" r="8.5"/><circle cx="1278.8" cy="1791.2" r="8.5"/><circle cx="1280.6" cy="1792.2" r="8.5"/><circle cx="1282.5" cy="1794.3" r="8.5"/><circle cx="1284.2" cy="1793.2" r="8.5"/><circle cx="1285.9" cy="1794.7" r="8.5"/><circle cx="1288" cy="1797.7" r="8.5"/><circle cx="1290.1" cy="1798.8" r="8.5"/><circle cx="1291.5" cy="1801.7" r="8.5"/><circle cx="1293.7" cy="1803.1" r="8.5"/><circle cx="1295.2" cy="1803.8" r="8.5"/><circle cx="1297" cy="1803.4" r="8.5"/><circle cx="1298.6" cy="1804.5" r="8.5"/><circle cx="1300.5" cy="1806.6" r="8.5"/><circle cx="1302.6" cy="1806.8" r="8.5"/><circle cx="1304.1" cy="1808.7" r="8.5"/><circle cx="1306.2" cy="1806.8" r="8.5"/><circle cx="1308.4" cy="1808.2" r="8.5"/><circle cx="1310.1" cy="1810.1" r="8.5"/><circle cx="1311.9" cy="1810.1" r="8.5"/><circle cx="1314" cy="1812.2" r="8.5"/><circle cx="1315.8" cy="1815.5" r="8.5"/><circle cx="1318" cy="1816.8" r="8.5"/><circle cx="1319.7" cy="1817.9" r="8.5"/><circle cx="1321.9" cy="1821" r="8.5"/><circle cx="1323.4" cy="1819.5" r="8.5"/><circle cx="1324.9" cy="1820.8" r="8.5"/><circle cx="1326.9" cy="1820.2" r="8.5"/><circle cx="1328.6" cy="1823.4" r="8.5"/><circle cx="1330.2" cy="1824.8" r="8.5"/><circle cx="1331.9" cy="1827.3" r="8.5"/><circle cx="1334" cy="1828.3" r="8.5"/><circle cx="1335.7" cy="1831.8" r="8.5"/><circle cx="1337.4" cy="1834.2" r="8.5"/><circle cx="1339" cy="1837.2" r="8.5"/><circle cx="1340.8" cy="1836.1" r="8.5"/><circle cx="1342.9" cy="1839.2" r="8.5"/><circle cx="1345.1" cy="1839.8" r="8.5"/><circle cx="1347.2" cy="1839.5" r="8.5"/><circle cx="1348.9" cy="1839.5" r="8.5"/><circle cx="1351" cy="1839.8" r="8.5"/><circle cx="1352.8" cy="1843.4" r="8.5"/><circle cx="1354.3" cy="1845.6" r="8.5"/><circle cx="1356" cy="1847.4" r="8.5"/><circle cx="1358.2" cy="1845.2" r="8.5"/><circle cx="1359.6" cy="1847.6" r="8.5"/><circle cx="1361.2" cy="1850.2" r="8.5"/><circle cx="1363.4" cy="1853.4" r="8.5"/><circle cx="1364.8" cy="1854.6" r="8.5"/><circle cx="1367" cy="1858.5" r="8.5"/><circle cx="1369" cy="1862.8" r="8.5"/><circle cx="1371.2" cy="1863.4" r="8.5"/><circle cx="1372.7" cy="1862.6" r="8.5"/><circle cx="1374.3" cy="1860.9" r="8.5"/><circle cx="1376.1" cy="1864.8" r="8.5"/><circle cx="1377.5" cy="1866.6" r="8.5"/><circle cx="1379.6" cy="1866.3" r="8.5"/><circle cx="1381.2" cy="1868" r="8.5"/><circle cx="1382.9" cy="1869.7" r="8.5"/><circle cx="1384.4" cy="1868.3" r="8.5"/><circle cx="1386.5" cy="1872.1" r="8.5"/><circle cx="1388.7" cy="1873.3" r="8.5"/><circle cx="1390.8" cy="1876.6" r="8.5"/><circle cx="1392.4" cy="1877.9" r="8.5"/><circle cx="1394.1" cy="1874.4" r="8.5"/><circle cx="1395.9" cy="1875.6" r="8.5"/><circle cx="1397.6" cy="1872.9" r="8.5"/><circle cx="1399.1" cy="1873.8" r="8.5"/><circle cx="1401.1" cy="1875.2" r="8.5"/><circle cx="1402.7" cy="1876.4" r="8.5"/><circle cx="1404.5" cy="1878.7" r="8.5"/><circle cx="1406.1" cy="1880.3" r="8.5"/><circle cx="1407.8" cy="1883.8" r="8.5"/><circle cx="1409.2" cy="1885.8" r="8.5"/><circle cx="1411.2" cy="1886.2" r="8.5"/><circle cx="1412.9" cy="1885.2" r="8.5"/><circle cx="1414.5" cy="1885.7" r="8.5"/><circle cx="1415.9" cy="1885.2" r="8.5"/><circle cx="1417.6" cy="1885.2" r="8.5"/><circle cx="1419.2" cy="1888.1" r="8.5"/><circle cx="1420.9" cy="1893.2" r="8.5"/><circle cx="1422.4" cy="1891.2" r="8.5"/><circle cx="1424.2" cy="1894" r="8.5"/><circle cx="1426" cy="1895.4" r="8.5"/><circle cx="1428.1" cy="1895.7" r="8.5"/><circle cx="1429.5" cy="1899.3" r="8.5"/><circle cx="1431.1" cy="1899.8" r="8.5"/><circle cx="1433.2" cy="1899.8" r="8.5"/><circle cx="1435" cy="1903.6" r="8.5"/><circle cx="1437.1" cy="1905" r="8.5"/><circle cx="1439.1" cy="1904.9" r="8.5"/><circle cx="1440.7" cy="1908.2" r="8.5"/><circle cx="1442.6" cy="1909.8" r="8.5"/><circle cx="1444.7" cy="1909" r="8.5"/><circle cx="1446.7" cy="1909.7" r="8.5"/><circle cx="1448.3" cy="1911.2" r="8.5"/><circle cx="1450.3" cy="1909.3" r="8.5"/><circle cx="1452.5" cy="1910.8" r="8.5"/><circle cx="1454" cy="1911.7" r="8.5"/><circle cx="1456.3" cy="1916.7" r="8.5"/><circle cx="1457.7" cy="1918.5" r="8.5"/><circle cx="1459.8" cy="1919.6" r="8.5"/><circle cx="1461.2" cy="1919.4" r="8.5"/><circle cx="1463" cy="1916.6" r="8.5"/><circle cx="1464.7" cy="1918.1" r="8.5"/><circle cx="1467" cy="1918.8" r="8.5"/><circle cx="1469" cy="1918.9" r="8.5"/><circle cx="1471.3" cy="1919.9" r="8.5"/><circle cx="1473.7" cy="1920" r="8.5"/><circle cx="1475.7" cy="1923.8" r="8.5"/><circle cx="1477.6" cy="1926" r="8.5"/><circle cx="1479.9" cy="1923.7" r="8.5"/><circle cx="1481.7" cy="1923.9" r="8.5"/><circle cx="1484.1" cy="1925.1" r="8.5"/><circle cx="1486.1" cy="1928.1" r="8.5"/><circle cx="1488.1" cy="1928.4" r="8.5"/><circle cx="1490.1" cy="1930.6" r="8.5"/><circle cx="1492.4" cy="1928.8" r="8.5"/><circle cx="1494.2" cy="1928.9" r="8.5"/><circle cx="1495.9" cy="1930.6" r="8.5"/><circle cx="1497.6" cy="1932.4" r="8.5"/><circle cx="1499.8" cy="1935.7" r="8.5"/><circle cx="1501.6" cy="1937" r="8.5"/><circle cx="1503.9" cy="1938.7" r="8.5"/><circle cx="1505.8" cy="1938.5" r="8.5"/><circle cx="1508.3" cy="1940.1" r="8.5"/><circle cx="1510" cy="1940.1" r="8.5"/><circle cx="1512.5" cy="1945.4" r="8.5"/><circle cx="1514.8" cy="1945.2" r="8.5"/><circle cx="1516.9" cy="1945.9" r="8.5"/><circle cx="1519.6" cy="1948.3" r="8.5"/><circle cx="1521.5" cy="1951.3" r="8.5"/><circle cx="1523.6" cy="1951.5" r="8.5"/><circle cx="1526.4" cy="1954.5" r="8.5"/><circle cx="1528.8" cy="1954.7" r="8.5"/><circle cx="1531.1" cy="1954.6" r="8.5"/><circle cx="1533.2" cy="1954.5" r="8.5"/><circle cx="1536" cy="1956.1" r="8.5"/><circle cx="1538.9" cy="1956.1" r="8.5"/><circle cx="1541.8" cy="1956.9" r="8.5"/><circle cx="1544.1" cy="1958.3" r="8.5"/><circle cx="1546.9" cy="1959.4" r="8.5"/><circle cx="1549.6" cy="1961.2" r="8.5"/><circle cx="1552.1" cy="1962.8" r="8.5"/><circle cx="1554.6" cy="1964.8" r="8.5"/><circle cx="1556.5" cy="1969.4" r="8.5"/><circle cx="1559.5" cy="1974.6" r="8.5"/><circle cx="1562.5" cy="1976.8" r="8.5"/><circle cx="1564.6" cy="1973.5" r="8.5"/><circle cx="1567.3" cy="1974.6" r="8.5"/><circle cx="1569.5" cy="1978.8" r="8.5"/><circle cx="1572.9" cy="1984.8" r="8.5"/><circle cx="1575.8" cy="1981" r="8.5"/><circle cx="1578.8" cy="1980.8" r="8.5"/><circle cx="1581.8" cy="1984.5" r="8.5"/><circle cx="1584.5" cy="1986.7" r="8.5"/><circle cx="1587.7" cy="1987.6" r="8.5"/><circle cx="1590.8" cy="1995.7" r="8.5"/><circle cx="1593.1" cy="1994.3" r="8.5"/><circle cx="1596.4" cy="1998.7" r="8.5"/><circle cx="1600" cy="1998.3" r="8.5"/><circle cx="1603.4" cy="1998.4" r="8.5"/><circle cx="1606.1" cy="1996.7" r="8.5"/><circle cx="1608.5" cy="1994.5" r="8.5"/><circle cx="1611.2" cy="1998.5" r="8.5"/><circle cx="1614.3" cy="1999.9" r="8.5"/><circle cx="1616.8" cy="2003" r="8.5"/><circle cx="1619.5" cy="2007.5" r="8.5"/><circle cx="1622.6" cy="2008.6" r="8.5"/><circle cx="1626.4" cy="2010.5" r="8.5"/><circle cx="1629.2" cy="2011.1" r="8.5"/><circle cx="1632.9" cy="2016.3" r="8.5"/><circle cx="1635.9" cy="2014.3" r="8.5"/><circle cx="1639.2" cy="2009.8" r="8.5"/><circle cx="1642.4" cy="2012.8" r="8.5"/><circle cx="1645" cy="2015.5" r="8.5"/><circle cx="1648.5" cy="2019.6" r="8.5"/><circle cx="1651.9" cy="2022.7" r="8.5"/><circle cx="1655.4" cy="2026.1" r="8.5"/><circle cx="1658.3" cy="2030.1" r="8.5"/><circle cx="1661.9" cy="2035.1" r="8.5"/><circle cx="1665.4" cy="2033.9" r="8.5"/><circle cx="1669.6" cy="2038.7" r="8.5"/><circle cx="1672.4" cy="2043.7" r="8.5"/><circle cx="1676.8" cy="2046.1" r="8.5"/><circle cx="1680.9" cy="2045" r="8.5"/><circle cx="1684" cy="2044.4" r="8.5"/><circle cx="1686.9" cy="2044.4" r="8.5"/><circle cx="1691.3" cy="2046.4" r="8.5"/><circle cx="1694.3" cy="2047" r="8.5"/><circle cx="1698.5" cy="2050" r="8.5"/><circle cx="1702.4" cy="2049.8" r="8.5"/><circle cx="1705.7" cy="2055.7" r="8.5"/><circle cx="1709.7" cy="2055.9" r="8.5"/><circle cx="1714.1" cy="2054.6" r="8.5"/><circle cx="1717.8" cy="2061.9" r="8.5"/><circle cx="1721.2" cy="2066.2" r="8.5"/><circle cx="1724.7" cy="2063.5" r="8.5"/><circle cx="1728.8" cy="2070.7" r="8.5"/><circle cx="1733.4" cy="2071.7" r="8.5"/><circle cx="1737.8" cy="2076.2" r="8.5"/><circle cx="1741.5" cy="2077.1" r="8.5"/><circle cx="1745.4" cy="2082.5" r="8.5"/><circle cx="1748.4" cy="2085.4" r="8.5"/><circle cx="1751.4" cy="2085.8" r="8.5"/><circle cx="1755.8" cy="2085.4" r="8.5"/><circle cx="1759.7" cy="2089.8" r="8.5"/><circle cx="1764.2" cy="2092.4" r="8.5"/><circle cx="1767.7" cy="2088.5" r="8.5"/><circle cx="1771.3" cy="2089.8" r="8.5"/><circle cx="1774.8" cy="2090.6" r="8.5"/><circle cx="1778.8" cy="2086.8" r="8.5"/><circle cx="1782.1" cy="2091.8" r="8.5"/><circle cx="1786.1" cy="2098.7" r="8.5"/><circle cx="1790.3" cy="2103.2" r="8.5"/><circle cx="1793.7" cy="2104.7" r="8.5"/><circle cx="1797.6" cy="2104.5" r="8.5"/><circle cx="1801.4" cy="2109.8" r="8.5"/><circle cx="1805.9" cy="2108.8" r="8.5"/><circle cx="1808.9" cy="2112.8" r="8.5"/><circle cx="1812.5" cy="2117.8" r="8.5"/><circle cx="1815.7" cy="2115.3" r="8.5"/><circle cx="1819.5" cy="2104.8" r="8.5"/><circle cx="1823.1" cy="2110" r="8.5"/><circle cx="1826.9" cy="2110.3" r="8.5"/><circle cx="1831.5" cy="2115.8" r="8.5"/><circle cx="1835.8" cy="2118.8" r="8.5"/><circle cx="1838.8" cy="2120.4" r="8.5"/><circle cx="1842.5" cy="2126.6" r="8.5"/><circle cx="1845.9" cy="2130.9" r="8.5"/><circle cx="1849.7" cy="2137.8" r="8.5"/><circle cx="1853.7" cy="2136.1" r="8.5"/><circle cx="1857.5" cy="2141" r="8.5"/><circle cx="1861.5" cy="2139.3" r="8.5"/><circle cx="1865.7" cy="2136.5" r="8.5"/><circle cx="1869.3" cy="2137.6" r="8.5"/><circle cx="1872.8" cy="2139.1" r="8.5"/><circle cx="1876.9" cy="2145.9" r="8.5"/><circle cx="1880.3" cy="2145.9" r="8.5"/><circle cx="1883.1" cy="2153" r="8.5"/><circle cx="1887.2" cy="2150.1" r="8.5"/><circle cx="1890.6" cy="2162.1" r="8.5"/><circle cx="1895.1" cy="2160.5" r="8.5"/><circle cx="1898" cy="2150.4" r="8.5"/><circle cx="1901.1" cy="2152.3" r="8.5"/><circle cx="1904.4" cy="2151.5" r="8.5"/><circle cx="1908.8" cy="2141.6" r="8.5"/><circle cx="1912" cy="2134.6" r="8.5"/><circle cx="1915.4" cy="2144.4" r="8.5"/><circle cx="1918.9" cy="2143.9" r="8.5"/><circle cx="1923.4" cy="2155.5" r="8.5"/><circle cx="1926.4" cy="2157.9" r="8.5"/><circle cx="1930.2" cy="2161.5" r="8.5"/><circle cx="1934.7" cy="2166" r="8.5"/><circle cx="1938.3" cy="2162.2" r="8.5"/><circle cx="1941.5" cy="2163" r="8.5"/><circle cx="1945.9" cy="2170.6" r="8.5"/><circle cx="1949" cy="2173.7" r="8.5"/><circle cx="1952.4" cy="2173.7" r="8.5"/><circle cx="1955.5" cy="2170.9" r="8.5"/><circle cx="1958.9" cy="2175.6" r="8.5"/><circle cx="1963.3" cy="2177.3" r="8.5"/><circle cx="1967.3" cy="2168.4" r="8.5"/><circle cx="1971.8" cy="2172.2" r="8.5"/><circle cx="1975.2" cy="2177" r="8.5"/><circle cx="1978.7" cy="2181.1" r="8.5"/><circle cx="1982.6" cy="2178" r="8.5"/><circle cx="1986" cy="2185.4" r="8.5"/><circle cx="1990.1" cy="2191.3" r="8.5"/><circle cx="1993.6" cy="2194.8" r="8.5"/><circle cx="1996.8" cy="2195.3" r="8.5"/><circle cx="2000.7" cy="2194.6" r="8.5"/><circle cx="2004.7" cy="2198.7" r="8.5"/><circle cx="2009.2" cy="2195.7" r="8.5"/><circle cx="2013.5" cy="2191.5" r="8.5"/><circle cx="2017.4" cy="2191.2" r="8.5"/><circle cx="2021.3" cy="2190.6" r="8.5"/><circle cx="2025" cy="2193.5" r="8.5"/><circle cx="2028.6" cy="2191.2" r="8.5"/><circle cx="2032" cy="2199" r="8.5"/><circle cx="2036" cy="2197.9" r="8.5"/><circle cx="2039.5" cy="2204.1" r="8.5"/><circle cx="2043.7" cy="2202" r="8.5"/><circle cx="2047.1" cy="2206.5" r="8.5"/><circle cx="2051.2" cy="2205.7" r="8.5"/><circle cx="2054.1" cy="2213.2" r="8.5"/><circle cx="2058.4" cy="2215.8" r="8.5"/><circle cx="2062.7" cy="2213.9" r="8.5"/><circle cx="2065.5" cy="2215.8" r="8.5"/><circle cx="2069.4" cy="2220" r="8.5"/><circle cx="2073.8" cy="2221.6" r="8.5"/><circle cx="2078.1" cy="2216.2" r="8.5"/><circle cx="1665" cy="2047.5" r="8.5"/><circle cx="1690" cy="2064.9" r="8.5"/><circle cx="1722" cy="2082.1" r="8.5"/><circle cx="1745" cy="2089" r="8.5"/><circle cx="1775" cy="2108.2" r="8.5"/><circle cx="1842" cy="2135.6" r="8.5"/><circle cx="1850" cy="2136.2" r="8.5"/><circle cx="1905" cy="2162.7" r="8.5"/><circle cx="1950" cy="2181.5" r="8.5"/><circle cx="1998" cy="2204.8" r="8.5"/><circle cx="2040" cy="2223" r="8.5"/><circle cx="2052" cy="2223.3" r="8.5"/>
</g>
</g>
<g clip-path="url(#cbo)">
<line shape-rendering="crispEdges"  x1="918.7" y1="1519.7" x2="1960" y2="2289.1" stroke="#0000ff" stroke-width="10.2" stroke-linecap="butt"/>
</g>
<text transform="translate(1146.5,2059) translate(0,0) scale(0.845,1)" font-family="'DejaVu Serif','Liberation Serif',serif" font-weight="normal" font-size="61.8" fill="#0000ff" stroke="#0000ff" stroke-width="0.6" stroke-linejoin="round" xml:space="preserve">τ</text>
<text transform="translate(1146.5,2059) translate(28.9,17.5)" font-family="'Liberation Sans',sans-serif" font-weight="normal" font-size="43.5" fill="#0000ff" stroke="#0000ff" stroke-width="0.4" stroke-linejoin="round" xml:space="preserve">1</text>
<text transform="translate(1146.5,2059) translate(53.1,0) scale(0.950,1)" font-family="'Liberation Sans',sans-serif" font-weight="normal" font-size="68.4" fill="#0000ff" stroke="#0000ff" stroke-width="0.7" stroke-linejoin="round" xml:space="preserve">= 0.45 ± 0.1 s</text>
<clipPath id="h3"><rect x="303" y="3698.3" width="1784.8" height="124"/></clipPath>
<g clip-path="url(#h3)" stroke="#c8c8c8" stroke-width="4.4" shape-rendering="geometricPrecision">
<line x1="295" y1="3748.2" x2="352.9" y2="3690.3"/>
<line x1="295" y1="3788" x2="392.7" y2="3690.3"/>
<line x1="295" y1="3827.8" x2="432.5" y2="3690.3"/>
<line x1="332.3" y1="3830.3" x2="472.3" y2="3690.3"/>
<line x1="372.1" y1="3830.3" x2="512.1" y2="3690.3"/>
<line x1="411.9" y1="3830.3" x2="551.9" y2="3690.3"/>
<line x1="451.7" y1="3830.3" x2="591.7" y2="3690.3"/>
<line x1="491.5" y1="3830.3" x2="631.5" y2="3690.3"/>
<line x1="531.3" y1="3830.3" x2="671.3" y2="3690.3"/>
<line x1="571.1" y1="3830.3" x2="711.1" y2="3690.3"/>
<line x1="610.9" y1="3830.3" x2="750.9" y2="3690.3"/>
<line x1="650.7" y1="3830.3" x2="790.7" y2="3690.3"/>
<line x1="690.5" y1="3830.3" x2="830.5" y2="3690.3"/>
<line x1="730.3" y1="3830.3" x2="870.3" y2="3690.3"/>
<line x1="770.1" y1="3830.3" x2="910.1" y2="3690.3"/>
<line x1="809.9" y1="3830.3" x2="949.9" y2="3690.3"/>
<line x1="849.7" y1="3830.3" x2="989.7" y2="3690.3"/>
<line x1="889.5" y1="3830.3" x2="1029.5" y2="3690.3"/>
<line x1="929.3" y1="3830.3" x2="1069.3" y2="3690.3"/>
<line x1="969.1" y1="3830.3" x2="1109.1" y2="3690.3"/>
<line x1="1008.9" y1="3830.3" x2="1148.9" y2="3690.3"/>
<line x1="1048.7" y1="3830.3" x2="1188.7" y2="3690.3"/>
<line x1="1088.5" y1="3830.3" x2="1228.5" y2="3690.3"/>
<line x1="1128.3" y1="3830.3" x2="1268.3" y2="3690.3"/>
<line x1="1168.1" y1="3830.3" x2="1308.1" y2="3690.3"/>
<line x1="1207.9" y1="3830.3" x2="1347.9" y2="3690.3"/>
<line x1="1247.7" y1="3830.3" x2="1387.7" y2="3690.3"/>
<line x1="1287.5" y1="3830.3" x2="1427.5" y2="3690.3"/>
<line x1="1327.3" y1="3830.3" x2="1467.3" y2="3690.3"/>
<line x1="1367.1" y1="3830.3" x2="1507.1" y2="3690.3"/>
<line x1="1406.9" y1="3830.3" x2="1546.9" y2="3690.3"/>
<line x1="1446.7" y1="3830.3" x2="1586.7" y2="3690.3"/>
<line x1="1486.5" y1="3830.3" x2="1626.5" y2="3690.3"/>
<line x1="1526.3" y1="3830.3" x2="1666.3" y2="3690.3"/>
<line x1="1566.1" y1="3830.3" x2="1706.1" y2="3690.3"/>
<line x1="1605.9" y1="3830.3" x2="1745.9" y2="3690.3"/>
<line x1="1645.7" y1="3830.3" x2="1785.7" y2="3690.3"/>
<line x1="1685.5" y1="3830.3" x2="1825.5" y2="3690.3"/>
<line x1="1725.3" y1="3830.3" x2="1865.3" y2="3690.3"/>
<line x1="1765.1" y1="3830.3" x2="1905.1" y2="3690.3"/>
<line x1="1804.9" y1="3830.3" x2="1944.9" y2="3690.3"/>
<line x1="1844.7" y1="3830.3" x2="1984.7" y2="3690.3"/>
<line x1="1884.5" y1="3830.3" x2="2024.5" y2="3690.3"/>
<line x1="1924.3" y1="3830.3" x2="2064.3" y2="3690.3"/>
<line x1="1964.1" y1="3830.3" x2="2095.8" y2="3698.6"/>
<line x1="2003.9" y1="3830.3" x2="2095.8" y2="3738.4"/>
<line x1="2043.7" y1="3830.3" x2="2095.8" y2="3778.2"/>
</g>
<g shape-rendering="crispEdges" fill="#000">
<rect x="291" y="2800" width="1835" height="6"/>
<rect x="291" y="3834" width="1835" height="6"/>
<rect x="291" y="2803" width="5" height="1034"/>
<rect x="2121" y="2803" width="5" height="1034"/>
<rect x="270.5" y="3754.9" width="23" height="5"/>
<rect x="270.5" y="3644.8" width="23" height="5"/>
<rect x="270.5" y="3534.7" width="23" height="5"/>
<rect x="270.5" y="3424.6" width="23" height="5"/>
<rect x="270.5" y="3314.5" width="23" height="5"/>
<rect x="270.5" y="3204.4" width="23" height="5"/>
<rect x="270.5" y="3094.3" width="23" height="5"/>
<rect x="270.5" y="2984.2" width="23" height="5"/>
<rect x="270.5" y="2874.1" width="23" height="5"/>
<rect x="282" y="3810" width="11.5" height="5"/>
<rect x="282" y="3699.8" width="11.5" height="5"/>
<rect x="282" y="3589.8" width="11.5" height="5"/>
<rect x="282" y="3479.7" width="11.5" height="5"/>
<rect x="282" y="3369.6" width="11.5" height="5"/>
<rect x="282" y="3259.5" width="11.5" height="5"/>
<rect x="282" y="3149.4" width="11.5" height="5"/>
<rect x="282" y="3039.2" width="11.5" height="5"/>
<rect x="282" y="2929.2" width="11.5" height="5"/>
<rect x="282" y="2819.1" width="11.5" height="5"/>
<rect x="347.7" y="3837" width="5" height="23"/>
<rect x="631.4" y="3837" width="5" height="23"/>
<rect x="915.1" y="3837" width="5" height="23"/>
<rect x="1198.8" y="3837" width="5" height="23"/>
<rect x="1482.5" y="3837" width="5" height="23"/>
<rect x="1766.2" y="3837" width="5" height="23"/>
<rect x="2049.9" y="3837" width="5" height="23"/>
<rect x="489.5" y="3837" width="5" height="12"/>
<rect x="773.2" y="3837" width="5" height="12"/>
<rect x="1057" y="3837" width="5" height="12"/>
<rect x="1340.7" y="3837" width="5" height="12"/>
<rect x="1624.4" y="3837" width="5" height="12"/>
<rect x="1908.1" y="3837" width="5" height="12"/>
</g>
<text transform="translate(202.9,3771.2) scale(0.955,1)" font-size="49.5" fill="#000" stroke="#000" stroke-width="0.4">30</text>
<text transform="translate(202.9,3661.1) scale(0.955,1)" font-size="49.5" fill="#000" stroke="#000" stroke-width="0.4">35</text>
<text transform="translate(202.9,3551) scale(0.955,1)" font-size="49.5" fill="#000" stroke="#000" stroke-width="0.4">40</text>
<text transform="translate(202.9,3440.9) scale(0.955,1)" font-size="49.5" fill="#000" stroke="#000" stroke-width="0.4">45</text>
<text transform="translate(202.9,3330.8) scale(0.955,1)" font-size="49.5" fill="#000" stroke="#000" stroke-width="0.4">50</text>
<text transform="translate(202.9,3220.7) scale(0.955,1)" font-size="49.5" fill="#000" stroke="#000" stroke-width="0.4">55</text>
<text transform="translate(202.9,3110.6) scale(0.955,1)" font-size="49.5" fill="#000" stroke="#000" stroke-width="0.4">60</text>
<text transform="translate(202.9,3000.5) scale(0.955,1)" font-size="49.5" fill="#000" stroke="#000" stroke-width="0.4">65</text>
<text transform="translate(202.9,2890.4) scale(0.955,1)" font-size="49.5" fill="#000" stroke="#000" stroke-width="0.4">70</text>
<text transform="translate(337.1,3912) scale(0.955,1)" font-size="49.5" fill="#000" stroke="#000" stroke-width="0.4">0</text>
<text transform="translate(607.6,3912) scale(0.955,1)" font-size="49.5" fill="#000" stroke="#000" stroke-width="0.4">10</text>
<text transform="translate(891.3,3912) scale(0.955,1)" font-size="49.5" fill="#000" stroke="#000" stroke-width="0.4">20</text>
<text transform="translate(1175,3912) scale(0.955,1)" font-size="49.5" fill="#000" stroke="#000" stroke-width="0.4">30</text>
<text transform="translate(1458.7,3912) scale(0.955,1)" font-size="49.5" fill="#000" stroke="#000" stroke-width="0.4">40</text>
<text transform="translate(1742.4,3912) scale(0.955,1)" font-size="49.5" fill="#000" stroke="#000" stroke-width="0.4">50</text>
<text transform="translate(2026.1,3912) scale(0.955,1)" font-size="49.5" fill="#000" stroke="#000" stroke-width="0.4">60</text>
<text transform="translate(1659,2764) translate(0,0)" font-family="'Liberation Sans',sans-serif" font-weight="bold" font-size="73.5" fill="#000" stroke="#000" stroke-width="0.7" stroke-linejoin="round" xml:space="preserve">(c) c</text>
<text transform="translate(1659,2764) translate(151.1,17) scale(1.250,1)" font-family="'Liberation Sans',sans-serif" font-weight="bold" font-size="50" fill="#000" stroke="#000" stroke-width="0.5" stroke-linejoin="round" xml:space="preserve">S</text>
<text transform="translate(1659,2764) translate(192.8,0)" font-family="'Liberation Sans',sans-serif" font-weight="bold" font-size="73.5" fill="#000" stroke="#000" stroke-width="0.7" stroke-linejoin="round" xml:space="preserve">= 2 mM</text>
<text transform="translate(127,3524.4) rotate(-90) translate(0,0) scale(0.700,1)" font-family="'DejaVu Serif','Liberation Serif',serif" font-weight="normal" font-size="90.2" fill="#000" stroke="#000" stroke-width="0.9" stroke-linejoin="round" xml:space="preserve">γ</text>
<text transform="translate(127,3524.4) rotate(-90) translate(37.8,0)" font-family="'Liberation Sans',sans-serif" font-weight="normal" font-size="96" fill="#000" stroke="#000" stroke-width="1" stroke-linejoin="round" xml:space="preserve"> / mNm</text>
<text transform="translate(127,3524.4) rotate(-90) translate(347,-39.5)" font-family="'Liberation Sans',sans-serif" font-weight="normal" font-size="64.5" fill="#000" stroke="#000" stroke-width="0.6" stroke-linejoin="round" xml:space="preserve">-1</text>
<text transform="translate(1130.6,4035.8) translate(0,0)" font-family="'Liberation Sans',sans-serif" font-weight="normal" font-size="96" fill="#000" stroke="#000" stroke-width="1" stroke-linejoin="round" xml:space="preserve">t / s</text>
<g fill="#fff" stroke="#000" stroke-width="2.1" shape-rendering="crispEdges">
<circle cx="352.3" cy="2865.8" r="11.5"/><circle cx="352.3" cy="2866.9" r="11.5"/><circle cx="352.7" cy="2871.8" r="11.5"/><circle cx="352.4" cy="2878.4" r="11.5"/><circle cx="352.6" cy="2880.5" r="11.5"/><circle cx="352.4" cy="2885.1" r="11.5"/><circle cx="352.7" cy="2887.2" r="11.5"/><circle cx="352.6" cy="2889.4" r="11.5"/><circle cx="352.6" cy="2891.2" r="11.5"/><circle cx="353" cy="2893.2" r="11.5"/><circle cx="352.8" cy="2899.2" r="11.5"/><circle cx="352.6" cy="2901.2" r="11.5"/><circle cx="353.3" cy="2902.3" r="11.5"/><circle cx="352.7" cy="2905" r="11.5"/><circle cx="352.7" cy="2910" r="11.5"/><circle cx="352.6" cy="2913.8" r="11.5"/><circle cx="353.3" cy="2917.4" r="11.5"/><circle cx="353" cy="2919.3" r="11.5"/><circle cx="353.1" cy="2925" r="11.5"/><circle cx="353.3" cy="2927.5" r="11.5"/><circle cx="353.2" cy="2933.3" r="11.5"/><circle cx="353.3" cy="2936.4" r="11.5"/><circle cx="353.6" cy="2941.8" r="11.5"/><circle cx="353.3" cy="2945.4" r="11.5"/><circle cx="353.5" cy="2947.9" r="11.5"/><circle cx="353.4" cy="2949.7" r="11.5"/><circle cx="353.5" cy="2956.2" r="11.5"/><circle cx="353.7" cy="2958.6" r="11.5"/><circle cx="353.6" cy="2959.6" r="11.5"/><circle cx="353.5" cy="2961.2" r="11.5"/><circle cx="353.2" cy="2964.8" r="11.5"/><circle cx="353.4" cy="2967.9" r="11.5"/><circle cx="353.5" cy="2969.8" r="11.5"/><circle cx="353.6" cy="2972.6" r="11.5"/><circle cx="353.8" cy="2976.4" r="11.5"/><circle cx="353.8" cy="2979.3" r="11.5"/><circle cx="353.7" cy="2980.8" r="11.5"/><circle cx="353.8" cy="2982.1" r="11.5"/><circle cx="353.9" cy="2983.6" r="11.5"/><circle cx="354" cy="2986.4" r="11.5"/><circle cx="353.5" cy="2990.6" r="11.5"/><circle cx="354.1" cy="2994.2" r="11.5"/><circle cx="354.4" cy="2996.7" r="11.5"/><circle cx="354.2" cy="2999.7" r="11.5"/><circle cx="354" cy="3004.5" r="11.5"/><circle cx="353.9" cy="3006.3" r="11.5"/><circle cx="354.1" cy="3010" r="11.5"/><circle cx="354.4" cy="3011.2" r="11.5"/><circle cx="354.3" cy="3014.8" r="11.5"/><circle cx="353.9" cy="3018.5" r="11.5"/><circle cx="353.7" cy="3021.4" r="11.5"/><circle cx="354.4" cy="3025" r="11.5"/><circle cx="354.9" cy="3027.9" r="11.5"/><circle cx="354.2" cy="3031.6" r="11.5"/><circle cx="354.4" cy="3035.1" r="11.5"/><circle cx="354.6" cy="3040.3" r="11.5"/><circle cx="354.7" cy="3043.5" r="11.5"/><circle cx="354.9" cy="3046.8" r="11.5"/><circle cx="354.5" cy="3049.2" r="11.5"/><circle cx="354.8" cy="3052" r="11.5"/><circle cx="354.7" cy="3055.2" r="11.5"/><circle cx="355.1" cy="3059.6" r="11.5"/><circle cx="355.1" cy="3061.4" r="11.5"/><circle cx="355.2" cy="3063" r="11.5"/><circle cx="354.8" cy="3066.8" r="11.5"/><circle cx="354.9" cy="3070.4" r="11.5"/><circle cx="355" cy="3071.5" r="11.5"/><circle cx="355.1" cy="3072.9" r="11.5"/><circle cx="355.1" cy="3074.4" r="11.5"/><circle cx="355" cy="3076.3" r="11.5"/><circle cx="355.2" cy="3078.2" r="11.5"/><circle cx="355" cy="3081.2" r="11.5"/><circle cx="355.6" cy="3086.1" r="11.5"/><circle cx="355.4" cy="3089.7" r="11.5"/><circle cx="355.3" cy="3092.2" r="11.5"/><circle cx="355.6" cy="3093.2" r="11.5"/><circle cx="355.3" cy="3095.4" r="11.5"/><circle cx="355.8" cy="3098.4" r="11.5"/><circle cx="355.6" cy="3099.4" r="11.5"/><circle cx="356.1" cy="3101" r="11.5"/><circle cx="355.9" cy="3103.5" r="11.5"/><circle cx="355.7" cy="3106.2" r="11.5"/><circle cx="356.1" cy="3107.8" r="11.5"/><circle cx="355.9" cy="3110" r="11.5"/><circle cx="356.1" cy="3112.9" r="11.5"/><circle cx="355.4" cy="3114.4" r="11.5"/><circle cx="355.9" cy="3115.7" r="11.5"/><circle cx="356" cy="3116.9" r="11.5"/><circle cx="356.4" cy="3120.3" r="11.5"/><circle cx="356" cy="3123.6" r="11.5"/><circle cx="356.3" cy="3126" r="11.5"/><circle cx="356.3" cy="3129.6" r="11.5"/><circle cx="356.1" cy="3132.3" r="11.5"/><circle cx="356.4" cy="3135.6" r="11.5"/><circle cx="356.7" cy="3139.2" r="11.5"/><circle cx="356.5" cy="3140.3" r="11.5"/><circle cx="356.6" cy="3142.5" r="11.5"/><circle cx="356.7" cy="3144.7" r="11.5"/><circle cx="356.8" cy="3150.3" r="11.5"/><circle cx="357" cy="3155.2" r="11.5"/><circle cx="357" cy="3158.9" r="11.5"/><circle cx="356.8" cy="3161.1" r="11.5"/><circle cx="357.2" cy="3166.1" r="11.5"/><circle cx="357.3" cy="3168.6" r="11.5"/><circle cx="357.7" cy="3171.5" r="11.5"/><circle cx="357.2" cy="3174.1" r="11.5"/><circle cx="357.7" cy="3175.3" r="11.5"/><circle cx="357.5" cy="3180.3" r="11.5"/><circle cx="357.9" cy="3181.3" r="11.5"/><circle cx="357.3" cy="3184.3" r="11.5"/><circle cx="357.7" cy="3186.9" r="11.5"/><circle cx="357.3" cy="3188.8" r="11.5"/><circle cx="357.6" cy="3192.1" r="11.5"/><circle cx="357.9" cy="3195.2" r="11.5"/><circle cx="358.1" cy="3198.3" r="11.5"/><circle cx="358" cy="3201.7" r="11.5"/><circle cx="358.3" cy="3205.2" r="11.5"/><circle cx="358.1" cy="3207" r="11.5"/><circle cx="358.7" cy="3209.8" r="11.5"/><circle cx="358.4" cy="3213.1" r="11.5"/><circle cx="359" cy="3217.7" r="11.5"/><circle cx="359" cy="3218.8" r="11.5"/><circle cx="358.6" cy="3222.8" r="11.5"/><circle cx="359" cy="3226.9" r="11.5"/><circle cx="358.9" cy="3229.2" r="11.5"/><circle cx="359.3" cy="3231.4" r="11.5"/><circle cx="359.3" cy="3238.3" r="11.5"/><circle cx="359.7" cy="3241.3" r="11.5"/><circle cx="359.5" cy="3244.9" r="11.5"/><circle cx="359.5" cy="3245.9" r="11.5"/><circle cx="359.4" cy="3246.9" r="11.5"/><circle cx="359.7" cy="3250.5" r="11.5"/><circle cx="359.8" cy="3251.5" r="11.5"/><circle cx="359.9" cy="3254.9" r="11.5"/><circle cx="360" cy="3258.1" r="11.5"/><circle cx="360.2" cy="3259.5" r="11.5"/><circle cx="360.1" cy="3260.8" r="11.5"/><circle cx="360.1" cy="3263.5" r="11.5"/><circle cx="360.1" cy="3266.5" r="11.5"/><circle cx="360.2" cy="3267.8" r="11.5"/><circle cx="360.4" cy="3270.6" r="11.5"/><circle cx="360.8" cy="3273.6" r="11.5"/><circle cx="360.9" cy="3277.1" r="11.5"/><circle cx="360.6" cy="3279.1" r="11.5"/><circle cx="361" cy="3281.8" r="11.5"/><circle cx="360.8" cy="3284.4" r="11.5"/><circle cx="361.3" cy="3287.9" r="11.5"/><circle cx="361" cy="3290.9" r="11.5"/><circle cx="361.6" cy="3293.1" r="11.5"/><circle cx="361.4" cy="3294.4" r="11.5"/><circle cx="361.6" cy="3297.8" r="11.5"/><circle cx="361.6" cy="3299.3" r="11.5"/><circle cx="361.5" cy="3301.8" r="11.5"/><circle cx="361.8" cy="3303.6" r="11.5"/><circle cx="361.9" cy="3304.7" r="11.5"/><circle cx="362.2" cy="3309.5" r="11.5"/><circle cx="362.3" cy="3311.6" r="11.5"/><circle cx="362.6" cy="3314.7" r="11.5"/><circle cx="362.5" cy="3316.3" r="11.5"/><circle cx="362.2" cy="3317.6" r="11.5"/><circle cx="362.7" cy="3318.9" r="11.5"/><circle cx="362.4" cy="3322.2" r="11.5"/><circle cx="362.7" cy="3325.2" r="11.5"/><circle cx="362.9" cy="3327.9" r="11.5"/><circle cx="362.8" cy="3329.9" r="11.5"/><circle cx="363.1" cy="3332.9" r="11.5"/><circle cx="363.5" cy="3335.1" r="11.5"/><circle cx="363.2" cy="3336.9" r="11.5"/><circle cx="363.2" cy="3338.5" r="11.5"/><circle cx="363.3" cy="3340.4" r="11.5"/><circle cx="364.2" cy="3342.8" r="11.5"/><circle cx="363.6" cy="3344.1" r="11.5"/><circle cx="363.8" cy="3346.7" r="11.5"/><circle cx="363.9" cy="3347.9" r="11.5"/><circle cx="364.2" cy="3349.2" r="11.5"/><circle cx="364" cy="3353.7" r="11.5"/><circle cx="364" cy="3354.5" r="11.5"/><circle cx="364.2" cy="3356.5" r="11.5"/><circle cx="364.3" cy="3359.1" r="11.5"/><circle cx="364.3" cy="3361.8" r="11.5"/><circle cx="364.3" cy="3364.2" r="11.5"/><circle cx="364.7" cy="3365" r="11.5"/><circle cx="364.7" cy="3366.2" r="11.5"/><circle cx="365.1" cy="3367.3" r="11.5"/><circle cx="364.8" cy="3368.4" r="11.5"/><circle cx="364.9" cy="3369.6" r="11.5"/><circle cx="365.3" cy="3370.9" r="11.5"/><circle cx="364.8" cy="3373.5" r="11.5"/><circle cx="365.5" cy="3376.2" r="11.5"/><circle cx="365.2" cy="3377.3" r="11.5"/><circle cx="365.3" cy="3379.7" r="11.5"/><circle cx="365.6" cy="3380.5" r="11.5"/><circle cx="365.6" cy="3381.2" r="11.5"/><circle cx="365.7" cy="3387.4" r="11.5"/><circle cx="366.1" cy="3389.5" r="11.5"/><circle cx="366.4" cy="3390.3" r="11.5"/><circle cx="366.3" cy="3391.6" r="11.5"/><circle cx="366.2" cy="3393.4" r="11.5"/><circle cx="366.2" cy="3395.7" r="11.5"/><circle cx="366.6" cy="3400.6" r="11.5"/><circle cx="366.8" cy="3401.6" r="11.5"/><circle cx="366.8" cy="3403.7" r="11.5"/><circle cx="367" cy="3404.9" r="11.5"/><circle cx="367.2" cy="3406.8" r="11.5"/><circle cx="366.8" cy="3408.2" r="11.5"/><circle cx="367.2" cy="3409.9" r="11.5"/><circle cx="367.4" cy="3412.2" r="11.5"/><circle cx="367.4" cy="3414.2" r="11.5"/><circle cx="367.5" cy="3416.5" r="11.5"/><circle cx="368" cy="3417.8" r="11.5"/><circle cx="367.7" cy="3418.9" r="11.5"/><circle cx="367.9" cy="3421.1" r="11.5"/><circle cx="367.8" cy="3421.9" r="11.5"/><circle cx="367.9" cy="3422.6" r="11.5"/><circle cx="368" cy="3423.9" r="11.5"/><circle cx="368.1" cy="3424.7" r="11.5"/><circle cx="367.9" cy="3426.1" r="11.5"/><circle cx="368" cy="3427.2" r="11.5"/><circle cx="368.2" cy="3428.2" r="11.5"/><circle cx="368.4" cy="3429.8" r="11.5"/><circle cx="368.4" cy="3431" r="11.5"/><circle cx="369.1" cy="3436.4" r="11.5"/><circle cx="369" cy="3437.8" r="11.5"/><circle cx="369.6" cy="3443.3" r="11.5"/><circle cx="369.6" cy="3445" r="11.5"/><circle cx="369.3" cy="3446.3" r="11.5"/><circle cx="370" cy="3448.2" r="11.5"/><circle cx="370.2" cy="3449.5" r="11.5"/><circle cx="370.1" cy="3450.8" r="11.5"/><circle cx="370.2" cy="3452.4" r="11.5"/><circle cx="370.1" cy="3453.6" r="11.5"/><circle cx="370.9" cy="3460" r="11.5"/><circle cx="370.8" cy="3461.3" r="11.5"/><circle cx="370.7" cy="3461.7" r="11.5"/><circle cx="371.2" cy="3462.9" r="11.5"/><circle cx="371.4" cy="3464" r="11.5"/><circle cx="371.3" cy="3465.6" r="11.5"/><circle cx="371.4" cy="3466.3" r="11.5"/><circle cx="371.4" cy="3467.6" r="11.5"/><circle cx="372" cy="3468.8" r="11.5"/><circle cx="371.9" cy="3470.3" r="11.5"/><circle cx="371.9" cy="3471.7" r="11.5"/><circle cx="372.4" cy="3476.6" r="11.5"/><circle cx="372.6" cy="3478.1" r="11.5"/><circle cx="373.5" cy="3485.1" r="11.5"/><circle cx="373.7" cy="3489.6" r="11.5"/><circle cx="373.8" cy="3490.7" r="11.5"/><circle cx="374.1" cy="3491.2" r="11.5"/><circle cx="374.1" cy="3492.5" r="11.5"/><circle cx="374" cy="3494" r="11.5"/><circle cx="374.4" cy="3494.9" r="11.5"/><circle cx="374.5" cy="3496.2" r="11.5"/><circle cx="375.4" cy="3503" r="11.5"/><circle cx="375.6" cy="3504" r="11.5"/><circle cx="375.7" cy="3504.9" r="11.5"/><circle cx="376.2" cy="3506.5" r="11.5"/><circle cx="376.2" cy="3507.8" r="11.5"/><circle cx="376.4" cy="3508.7" r="11.5"/><circle cx="376.2" cy="3509.1" r="11.5"/><circle cx="376.4" cy="3510.1" r="11.5"/><circle cx="376.4" cy="3511.4" r="11.5"/><circle cx="376.5" cy="3512.2" r="11.5"/><circle cx="376.9" cy="3512.9" r="11.5"/><circle cx="377.3" cy="3513.4" r="11.5"/><circle cx="377" cy="3514" r="11.5"/><circle cx="377.1" cy="3514.5" r="11.5"/><circle cx="377.3" cy="3515.9" r="11.5"/><circle cx="377.6" cy="3517.4" r="11.5"/><circle cx="377.5" cy="3518.3" r="11.5"/><circle cx="377.7" cy="3519.4" r="11.5"/><circle cx="378" cy="3520.9" r="11.5"/><circle cx="378.3" cy="3521.3" r="11.5"/><circle cx="378.2" cy="3522.6" r="11.5"/><circle cx="378" cy="3523.7" r="11.5"/><circle cx="378.7" cy="3525.1" r="11.5"/><circle cx="378.8" cy="3526.3" r="11.5"/><circle cx="378.7" cy="3526.7" r="11.5"/><circle cx="378.8" cy="3527.9" r="11.5"/><circle cx="378.6" cy="3529" r="11.5"/><circle cx="379.1" cy="3529.5" r="11.5"/><circle cx="379.5" cy="3531" r="11.5"/><circle cx="379.9" cy="3532.3" r="11.5"/><circle cx="379.9" cy="3533" r="11.5"/><circle cx="380" cy="3534.3" r="11.5"/><circle cx="381" cy="3539.2" r="11.5"/><circle cx="381.4" cy="3540.5" r="11.5"/><circle cx="381.6" cy="3540.9" r="11.5"/><circle cx="381.8" cy="3541.9" r="11.5"/><circle cx="382.1" cy="3543.1" r="11.5"/><circle cx="381.7" cy="3543.9" r="11.5"/><circle cx="382.5" cy="3545.2" r="11.5"/><circle cx="382.7" cy="3546.2" r="11.5"/><circle cx="382.8" cy="3547.7" r="11.5"/><circle cx="384.4" cy="3553.8" r="11.5"/><circle cx="384.6" cy="3554.9" r="11.5"/><circle cx="384.8" cy="3556.4" r="11.5"/><circle cx="385.1" cy="3557.6" r="11.5"/><circle cx="386.6" cy="3562.4" r="11.5"/><circle cx="386.7" cy="3562.8" r="11.5"/><circle cx="387" cy="3563.4" r="11.5"/><circle cx="387.2" cy="3564.5" r="11.5"/><circle cx="387.4" cy="3565.6" r="11.5"/><circle cx="387.4" cy="3566.8" r="11.5"/><circle cx="387.7" cy="3567.3" r="11.5"/><circle cx="388" cy="3568.6" r="11.5"/><circle cx="388.5" cy="3569" r="11.5"/><circle cx="389" cy="3572.9" r="11.5"/><circle cx="390.2" cy="3577.5" r="11.5"/><circle cx="390.5" cy="3578.4" r="11.5"/><circle cx="391.2" cy="3579.6" r="11.5"/><circle cx="391.3" cy="3581.1" r="11.5"/><circle cx="391.7" cy="3581.6" r="11.5"/><circle cx="391.6" cy="3582" r="11.5"/><circle cx="395.1" cy="3592.7" r="11.5"/><circle cx="396.6" cy="3605.8" r="11.5"/><circle cx="405.6" cy="3616.5" r="11.5"/><circle cx="405.7" cy="3618.4" r="11.5"/><circle cx="406.2" cy="3618.5" r="11.5"/><circle cx="407.1" cy="3619.1" r="11.5"/><circle cx="407" cy="3621.1" r="11.5"/><circle cx="408.1" cy="3621.4" r="11.5"/><circle cx="407.8" cy="3621.6" r="11.5"/><circle cx="408.4" cy="3623" r="11.5"/><circle cx="409.4" cy="3624.3" r="11.5"/><circle cx="409.7" cy="3624.4" r="11.5"/><circle cx="410.2" cy="3625.9" r="11.5"/><circle cx="410.7" cy="3626.3" r="11.5"/><circle cx="410.8" cy="3627.7" r="11.5"/><circle cx="411.8" cy="3627.9" r="11.5"/><circle cx="411.9" cy="3629.3" r="11.5"/><circle cx="412.7" cy="3630.5" r="11.5"/><circle cx="412.8" cy="3631.1" r="11.5"/><circle cx="413" cy="3630.2" r="11.5"/><circle cx="413.6" cy="3632.3" r="11.5"/><circle cx="413.8" cy="3632.8" r="11.5"/><circle cx="414.7" cy="3633.7" r="11.5"/><circle cx="415.2" cy="3635.1" r="11.5"/><circle cx="415.5" cy="3635.1" r="11.5"/><circle cx="416.2" cy="3636.7" r="11.5"/><circle cx="416.4" cy="3637.7" r="11.5"/><circle cx="417.2" cy="3637.7" r="11.5"/><circle cx="417.4" cy="3638.3" r="11.5"/><circle cx="418.1" cy="3639.5" r="11.5"/><circle cx="418.9" cy="3639" r="11.5"/><circle cx="418.6" cy="3640.9" r="11.5"/><circle cx="419.5" cy="3641.8" r="11.5"/><circle cx="419.6" cy="3643" r="11.5"/><circle cx="420.2" cy="3643.7" r="11.5"/><circle cx="421" cy="3644.9" r="11.5"/><circle cx="420.8" cy="3644.9" r="11.5"/><circle cx="421.8" cy="3646" r="11.5"/><circle cx="421.9" cy="3647.2" r="11.5"/><circle cx="422.6" cy="3647.9" r="11.5"/><circle cx="427" cy="3652" r="11.5"/><circle cx="431.3" cy="3655" r="11.5"/><circle cx="440" cy="3663.6" r="11.5"/><circle cx="453.4" cy="3673.7" r="11.5"/><circle cx="455.1" cy="3674.7" r="11.5"/><circle cx="456.4" cy="3676" r="11.5"/><circle cx="457.4" cy="3674.5" r="11.5"/><circle cx="459.2" cy="3677" r="11.5"/><circle cx="461.4" cy="3676.5" r="11.5"/><circle cx="462.6" cy="3676.2" r="11.5"/><circle cx="470.2" cy="3678" r="11.5"/><circle cx="477.5" cy="3681.2" r="11.5"/><circle cx="484.6" cy="3683.8" r="11.5"/><circle cx="491.4" cy="3686.1" r="11.5"/><circle cx="499.1" cy="3685.8" r="11.5"/><circle cx="506.2" cy="3691.1" r="11.5"/><circle cx="512.6" cy="3690" r="11.5"/><circle cx="520.3" cy="3693" r="11.5"/><circle cx="527.8" cy="3697.1" r="11.5"/><circle cx="534.9" cy="3697.8" r="11.5"/><circle cx="511.9" cy="3683.9" r="11.5"/><circle cx="546.2" cy="3689.7" r="11.5"/><circle cx="571.5" cy="3697" r="11.5"/><circle cx="546.2" cy="3703.1" r="11.5"/><circle cx="564.3" cy="3706.7" r="11.5"/><circle cx="584.2" cy="3710.3" r="11.5"/><circle cx="609.5" cy="3712.2" r="11.5"/><circle cx="625.8" cy="3712.9" r="11.5"/><circle cx="647.5" cy="3715.8" r="11.5"/><circle cx="660.2" cy="3715" r="11.5"/>
</g>
<g fill="#fff" stroke="#000" stroke-width="2.2" shape-rendering="crispEdges">
<circle cx="685.5" cy="3716.5" r="11.4"/><circle cx="694.6" cy="3721.2" r="11.4"/><circle cx="714.5" cy="3718.7" r="11.4"/><circle cx="748.1" cy="3721.9" r="11.4"/><circle cx="768.7" cy="3724.1" r="11.4"/><circle cx="795.1" cy="3723.7" r="11.4"/><circle cx="856" cy="3726.8" r="11.4"/><circle cx="871.6" cy="3728.5" r="11.4"/><circle cx="961.3" cy="3730.2" r="11.4"/><circle cx="1071.8" cy="3736.1" r="11.4"/><circle cx="1130.9" cy="3736.1" r="11.4"/><circle cx="1437" cy="3742.1" r="11.4"/><circle cx="1615" cy="3745.5" r="11.4"/>
</g>
<g shape-rendering="crispEdges" fill="#000">
<rect x="917.9" y="2845" width="1195.2" height="731" fill="#fff"/>
<rect x="915.9" y="2843" width="1199.2" height="4"/>
<rect x="915.9" y="3574" width="1199.2" height="4"/>
<rect x="915.9" y="2845" width="4" height="731"/>
<rect x="2111.1" y="2845" width="4" height="731"/>
</g>
<g shape-rendering="crispEdges" fill="#000">
<rect x="909.9" y="3525" width="8" height="4"/>
<rect x="909.9" y="3472.9" width="8" height="4"/>
<rect x="909.9" y="3427.8" width="8" height="4"/>
<rect x="902.9" y="3388" width="15" height="4"/>
<rect x="909.9" y="3352.4" width="8" height="4"/>
<rect x="909.9" y="3320.2" width="8" height="4"/>
<rect x="909.9" y="3290.8" width="8" height="4"/>
<rect x="909.9" y="3263.7" width="8" height="4"/>
<rect x="909.9" y="3238.7" width="8" height="4"/>
<rect x="909.9" y="3215.3" width="8" height="4"/>
<rect x="909.9" y="3193.5" width="8" height="4"/>
<rect x="909.9" y="3173" width="8" height="4"/>
<rect x="902.9" y="3153.7" width="15" height="4"/>
<rect x="909.9" y="3135.4" width="8" height="4"/>
<rect x="909.9" y="3118.1" width="8" height="4"/>
<rect x="909.9" y="3101.6" width="8" height="4"/>
<rect x="909.9" y="3085.9" width="8" height="4"/>
<rect x="909.9" y="3070.9" width="8" height="4"/>
<rect x="909.9" y="3056.5" width="8" height="4"/>
<rect x="909.9" y="3042.7" width="8" height="4"/>
<rect x="909.9" y="3029.4" width="8" height="4"/>
<rect x="902.9" y="3016.7" width="15" height="4"/>
<rect x="909.9" y="3004.4" width="8" height="4"/>
<rect x="909.9" y="2992.5" width="8" height="4"/>
<rect x="909.9" y="2981" width="8" height="4"/>
<rect x="909.9" y="2970" width="8" height="4"/>
<rect x="909.9" y="2959.2" width="8" height="4"/>
<rect x="909.9" y="2948.8" width="8" height="4"/>
<rect x="909.9" y="2938.7" width="8" height="4"/>
<rect x="909.9" y="2928.9" width="8" height="4"/>
<rect x="902.9" y="2919.4" width="15" height="4"/>
<rect x="909.9" y="2910.2" width="8" height="4"/>
<rect x="909.9" y="2901.1" width="8" height="4"/>
<rect x="909.9" y="2892.4" width="8" height="4"/>
<rect x="909.9" y="2883.8" width="8" height="4"/>
<rect x="909.9" y="2875.5" width="8" height="4"/>
<rect x="909.9" y="2867.3" width="8" height="4"/>
<rect x="909.9" y="2859.4" width="8" height="4"/>
<rect x="909.9" y="2851.6" width="8" height="4"/>
<rect x="902.9" y="2844" width="15" height="4"/>
<rect x="949.9" y="3576" width="4" height="15"/>
<rect x="1544" y="3576" width="4" height="8"/>
</g>
<text transform="translate(858.3,3399.3) scale(0.970,1)" font-size="33" fill="#000" stroke="#000" stroke-width="0.3">10</text>
<text transform="translate(858.3,3165) scale(0.970,1)" font-size="33" fill="#000" stroke="#000" stroke-width="0.3">20</text>
<text transform="translate(858.3,3028) scale(0.970,1)" font-size="33" fill="#000" stroke="#000" stroke-width="0.3">30</text>
<text transform="translate(858.3,2930.7) scale(0.970,1)" font-size="33" fill="#000" stroke="#000" stroke-width="0.3">40</text>
<text transform="translate(858.3,2855.3) scale(0.970,1)" font-size="33" fill="#000" stroke="#000" stroke-width="0.3">50</text>
<text transform="translate(942,3626) scale(0.970,1)" font-size="33" fill="#000" stroke="#000" stroke-width="0.3">0</text>
<text transform="translate(836.5,3356.7) rotate(-90) translate(0,0) scale(0.800,1)" font-family="'DejaVu Serif','Liberation Serif',serif" font-weight="normal" font-size="50.3" fill="#000" stroke="#000" stroke-width="0.5" stroke-linejoin="round" xml:space="preserve">Δ</text>
<text transform="translate(836.5,3356.7) rotate(-90) translate(29,0) scale(0.700,1)" font-family="'DejaVu Serif','Liberation Serif',serif" font-weight="normal" font-size="48.2" fill="#000" stroke="#000" stroke-width="0.5" stroke-linejoin="round" xml:space="preserve">γ</text>
<text transform="translate(836.5,3356.7) rotate(-90) translate(49.2,0)" font-family="'Liberation Sans',sans-serif" font-weight="normal" font-size="51.3" fill="#000" stroke="#000" stroke-width="0.5" stroke-linejoin="round" xml:space="preserve">(t) / mNm</text>
<text transform="translate(836.5,3356.7) rotate(-90) translate(262.9,-21)" font-family="'Liberation Sans',sans-serif" font-weight="normal" font-size="34" fill="#000" stroke="#000" stroke-width="0.3" stroke-linejoin="round" xml:space="preserve">-1</text>
<text transform="translate(1515.1,3698.6) translate(-40.7,0)" font-family="'Liberation Sans',sans-serif" font-weight="normal" font-size="50.5" fill="#000" stroke="#000" stroke-width="0.5" stroke-linejoin="round" xml:space="preserve">t / s</text>
<clipPath id="cci"><rect x="919.9" y="2847" width="1191.2" height="727"/></clipPath>
<clipPath id="cco"><rect x="917.9" y="2845" width="1196.2" height="731"/></clipPath>
<g clip-path="url(#cci)">
<g fill="#fff" stroke="#000" stroke-width="1.4" shape-rendering="crispEdges">
<circle cx="1000" cy="2899" r="7.6"/><circle cx="1003" cy="2889" r="7.6"/><circle cx="1003.5" cy="2890.6" r="7.6"/><circle cx="1005.7" cy="2893.7" r="7.6"/><circle cx="1008.5" cy="2898.4" r="7.6"/><circle cx="1009.2" cy="2899.1" r="7.6"/><circle cx="1010.4" cy="2901.8" r="7.6"/><circle cx="1011.8" cy="2898.3" r="7.6"/><circle cx="1015.6" cy="2899.8" r="7.6"/><circle cx="1016" cy="2903.4" r="7.6"/><circle cx="1018" cy="2905.2" r="7.6"/><circle cx="1019.4" cy="2906.6" r="7.6"/><circle cx="1023.7" cy="2906.8" r="7.6"/><circle cx="1025.8" cy="2906.5" r="7.6"/><circle cx="1026.6" cy="2910.7" r="7.6"/><circle cx="1027.4" cy="2908.9" r="7.6"/><circle cx="1030.1" cy="2910.3" r="7.6"/><circle cx="1032" cy="2906.8" r="7.6"/><circle cx="1034.1" cy="2913.9" r="7.6"/><circle cx="1037.4" cy="2916.2" r="7.6"/><circle cx="1037.3" cy="2915.2" r="7.6"/><circle cx="1038.8" cy="2916.3" r="7.6"/><circle cx="1041" cy="2920.7" r="7.6"/><circle cx="1044" cy="2920.9" r="7.6"/><circle cx="1045" cy="2920.6" r="7.6"/><circle cx="1047.9" cy="2920.5" r="7.6"/><circle cx="1049.8" cy="2925.3" r="7.6"/><circle cx="1050.5" cy="2924.7" r="7.6"/><circle cx="1052.1" cy="2929.5" r="7.6"/><circle cx="1055.4" cy="2929.6" r="7.6"/><circle cx="1056.5" cy="2926.7" r="7.6"/><circle cx="1058.6" cy="2932.8" r="7.6"/><circle cx="1062.3" cy="2932.8" r="7.6"/><circle cx="1062.4" cy="2933.3" r="7.6"/><circle cx="1065.5" cy="2931.5" r="7.6"/><circle cx="1067.2" cy="2933.2" r="7.6"/><circle cx="1068.4" cy="2937.8" r="7.6"/><circle cx="1070.3" cy="2937.7" r="7.6"/><circle cx="1094.1" cy="2936.6" r="7.6"/><circle cx="1095.1" cy="2937.1" r="7.6"/><circle cx="1098.7" cy="2943.1" r="7.6"/><circle cx="1101.4" cy="2938.5" r="7.6"/><circle cx="1105.1" cy="2946.5" r="7.6"/><circle cx="1106.5" cy="2946.3" r="7.6"/><circle cx="1110.6" cy="2946.9" r="7.6"/><circle cx="1112.3" cy="2960.2" r="7.6"/><circle cx="1113.2" cy="2954.4" r="7.6"/><circle cx="1116.1" cy="2965.6" r="7.6"/><circle cx="1121.3" cy="2962.4" r="7.6"/><circle cx="1121.1" cy="2967.8" r="7.6"/><circle cx="1125.9" cy="2968.4" r="7.6"/><circle cx="1129.9" cy="2967.5" r="7.6"/><circle cx="1130.3" cy="2965.6" r="7.6"/><circle cx="1133" cy="2966.1" r="7.6"/><circle cx="1136.7" cy="2969.1" r="7.6"/><circle cx="1139.9" cy="2969.8" r="7.6"/><circle cx="1141.1" cy="2969.8" r="7.6"/><circle cx="1144.3" cy="2970.8" r="7.6"/><circle cx="1147.4" cy="2975.2" r="7.6"/><circle cx="1146.2" cy="2971.6" r="7.6"/><circle cx="1151.3" cy="2975.9" r="7.6"/><circle cx="1150.9" cy="2991.3" r="7.6"/><circle cx="1164.3" cy="2998" r="7.6"/><circle cx="1173.3" cy="3004.8" r="7.6"/><circle cx="1186.7" cy="3011.5" r="7.6"/><circle cx="1195.7" cy="3016.9" r="7.6"/><circle cx="1209.2" cy="3038.4" r="7.6"/><circle cx="1222.6" cy="3038.4" r="7.6"/><circle cx="1238.4" cy="3033.9" r="7.6"/><circle cx="1237.7" cy="3037.2" r="7.6"/><circle cx="1240.2" cy="3042.6" r="7.6"/><circle cx="1241.8" cy="3035.7" r="7.6"/><circle cx="1245.8" cy="3041.8" r="7.6"/><circle cx="1244" cy="3040.4" r="7.6"/><circle cx="1247.4" cy="3043.5" r="7.6"/><circle cx="1250.8" cy="3043.8" r="7.6"/><circle cx="1251.1" cy="3043.2" r="7.6"/><circle cx="1253.5" cy="3047" r="7.6"/><circle cx="1256.3" cy="3042.7" r="7.6"/><circle cx="1256.6" cy="3050.3" r="7.6"/><circle cx="1261.7" cy="3052.6" r="7.6"/><circle cx="1258.8" cy="3046.8" r="7.6"/><circle cx="1264.3" cy="3052.9" r="7.6"/><circle cx="1265.6" cy="3058.8" r="7.6"/><circle cx="1266.2" cy="3058.1" r="7.6"/><circle cx="1269.6" cy="3054.9" r="7.6"/><circle cx="1268.9" cy="3054.7" r="7.6"/><circle cx="1275.3" cy="3059" r="7.6"/><circle cx="1276.4" cy="3061.4" r="7.6"/><circle cx="1277.2" cy="3063.2" r="7.6"/><circle cx="1279.7" cy="3061.9" r="7.6"/><circle cx="1280.9" cy="3061.8" r="7.6"/><circle cx="1283.6" cy="3064.3" r="7.6"/><circle cx="1286.6" cy="3065.2" r="7.6"/><circle cx="1286.1" cy="3062.6" r="7.6"/><circle cx="1290.1" cy="3074.4" r="7.6"/><circle cx="1291.1" cy="3064.1" r="7.6"/><circle cx="1294.2" cy="3069.1" r="7.6"/><circle cx="1295.9" cy="3072.8" r="7.6"/><circle cx="1297.9" cy="3073.4" r="7.6"/><circle cx="1298.7" cy="3076.9" r="7.6"/><circle cx="1303.4" cy="3083.3" r="7.6"/><circle cx="1310" cy="3080" r="7.6"/><circle cx="1316.7" cy="3094.6" r="7.6"/><circle cx="1319.7" cy="3094.3" r="7.6"/><circle cx="1322.9" cy="3097.4" r="7.6"/><circle cx="1326.3" cy="3095.7" r="7.6"/><circle cx="1331.1" cy="3099.6" r="7.6"/><circle cx="1333.4" cy="3098.6" r="7.6"/><circle cx="1336.8" cy="3103" r="7.6"/><circle cx="1340.8" cy="3102.5" r="7.6"/><circle cx="1343.9" cy="3101.8" r="7.6"/><circle cx="1346.8" cy="3105.4" r="7.6"/><circle cx="1350.7" cy="3108" r="7.6"/><circle cx="1355.6" cy="3110.8" r="7.6"/><circle cx="1357" cy="3107.7" r="7.6"/><circle cx="1358.6" cy="3115.8" r="7.6"/><circle cx="1362.6" cy="3117.6" r="7.6"/><circle cx="1365.9" cy="3118.3" r="7.6"/><circle cx="1369.1" cy="3119.6" r="7.6"/><circle cx="1373.8" cy="3122.2" r="7.6"/><circle cx="1375.7" cy="3119.5" r="7.6"/><circle cx="1380.3" cy="3124.2" r="7.6"/><circle cx="1383.7" cy="3123" r="7.6"/><circle cx="1387.1" cy="3126.7" r="7.6"/><circle cx="1388.6" cy="3127.8" r="7.6"/><circle cx="1393.9" cy="3130.7" r="7.6"/><circle cx="1398.2" cy="3135.2" r="7.6"/><circle cx="1400.7" cy="3139.3" r="7.6"/><circle cx="1404.5" cy="3134.2" r="7.6"/><circle cx="1405.9" cy="3137.7" r="7.6"/><circle cx="1410.4" cy="3142.2" r="7.6"/><circle cx="1410.9" cy="3143.7" r="7.6"/><circle cx="1418.8" cy="3142" r="7.6"/><circle cx="1422.1" cy="3142.9" r="7.6"/><circle cx="1423.6" cy="3144.7" r="7.6"/><circle cx="1429" cy="3150.1" r="7.6"/><circle cx="1431.6" cy="3145.9" r="7.6"/><circle cx="1433.6" cy="3147.2" r="7.6"/><circle cx="1436.9" cy="3152.8" r="7.6"/><circle cx="1441.6" cy="3152.4" r="7.6"/><circle cx="1443.4" cy="3153.8" r="7.6"/><circle cx="1445" cy="3159.6" r="7.6"/><circle cx="1450" cy="3160.5" r="7.6"/><circle cx="1453.8" cy="3155.1" r="7.6"/><circle cx="1455.2" cy="3161.3" r="7.6"/><circle cx="1449.2" cy="3143.9" r="7.6"/><circle cx="1473.9" cy="3164" r="7.6"/><circle cx="1485.1" cy="3170.8" r="7.6"/><circle cx="1496.3" cy="3173.9" r="7.6"/><circle cx="1505.3" cy="3179.7" r="7.6"/><circle cx="1518.7" cy="3185.6" r="7.6"/><circle cx="1532.2" cy="3191.9" r="7.6"/><circle cx="1504.3" cy="3175" r="7.6"/><circle cx="1507.6" cy="3180.4" r="7.6"/><circle cx="1518.4" cy="3184.7" r="7.6"/><circle cx="1529.3" cy="3189.1" r="7.6"/><circle cx="1572.7" cy="3221.6" r="7.6"/><circle cx="1591.2" cy="3216.2" r="7.6"/><circle cx="1597.7" cy="3220.5" r="7.6"/><circle cx="1599.8" cy="3216.9" r="7.6"/><circle cx="1608.5" cy="3222.7" r="7.6"/><circle cx="1616.1" cy="3217.7" r="7.6"/><circle cx="1620.5" cy="3227.1" r="7.6"/><circle cx="1625.9" cy="3227.1" r="7.6"/><circle cx="1628.1" cy="3232.9" r="7.6"/><circle cx="1640" cy="3234.7" r="7.6"/><circle cx="1641.1" cy="3239" r="7.6"/><circle cx="1646.5" cy="3242.3" r="7.6"/><circle cx="1648.7" cy="3237.9" r="7.6"/><circle cx="1651.9" cy="3239" r="7.6"/><circle cx="1666" cy="3244.4" r="7.6"/><circle cx="1672.1" cy="3249.4" r="7.6"/><circle cx="1694.9" cy="3249.4" r="7.6"/><circle cx="1763.7" cy="3293.3" r="7.6"/><circle cx="1795.2" cy="3285.7" r="7.6"/><circle cx="1818.6" cy="3293.5" r="7.6"/><circle cx="1822.8" cy="3294.2" r="7.6"/><circle cx="1829.7" cy="3292.4" r="7.6"/><circle cx="1833.2" cy="3303.6" r="7.6"/><circle cx="1838.5" cy="3300.5" r="7.6"/><circle cx="1855.9" cy="3294.2" r="7.6"/><circle cx="1856.5" cy="3296" r="7.6"/><circle cx="1876.8" cy="3315.8" r="7.6"/><circle cx="1944.9" cy="3328" r="7.6"/><circle cx="1958.1" cy="3324.5" r="7.6"/><circle cx="1968.6" cy="3338.8" r="7.6"/><circle cx="1973.8" cy="3334.3" r="7.6"/><circle cx="1980.8" cy="3339.5" r="7.6"/><circle cx="1986.7" cy="3340.6" r="7.6"/><circle cx="2005.9" cy="3351" r="7.6"/><circle cx="2016.4" cy="3340.2" r="7.6"/><circle cx="2022.6" cy="3347.5" r="7.6"/><circle cx="2032.1" cy="3334.3" r="7.6"/><circle cx="2065.2" cy="3355.9" r="7.6"/><circle cx="2079.1" cy="3378.9" r="7.6"/>
</g>
</g>
<g clip-path="url(#cco)">
<line shape-rendering="crispEdges"  x1="951.3" y1="2864.8" x2="2120" y2="3553.6" stroke="#0000ff" stroke-width="9.8" stroke-linecap="butt"/>
</g>
<text transform="translate(1180.5,3421) translate(0,0) scale(0.845,1)" font-family="'DejaVu Serif','Liberation Serif',serif" font-weight="normal" font-size="61.8" fill="#0000ff" stroke="#0000ff" stroke-width="0.6" stroke-linejoin="round" xml:space="preserve">τ</text>
<text transform="translate(1180.5,3421) translate(28.9,17.5)" font-family="'Liberation Sans',sans-serif" font-weight="normal" font-size="43.5" fill="#0000ff" stroke="#0000ff" stroke-width="0.4" stroke-linejoin="round" xml:space="preserve">1</text>
<text transform="translate(1180.5,3421) translate(53.1,0) scale(0.950,1)" font-family="'Liberation Sans',sans-serif" font-weight="normal" font-size="68.4" fill="#0000ff" stroke="#0000ff" stroke-width="0.7" stroke-linejoin="round" xml:space="preserve"> = 0.48 ± 0.01 s</text>
</svg>
</body></html>
